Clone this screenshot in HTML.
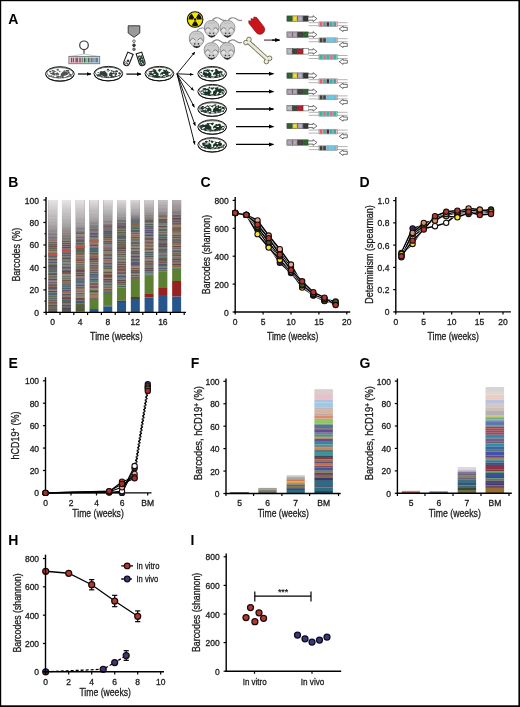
<!DOCTYPE html>
<html><head><meta charset="utf-8"><style>
html,body{margin:0;padding:0;background:#fff;width:520px;height:707px;overflow:hidden}
svg{display:block;will-change:transform}
</style></head><body>
<svg width="520" height="707" viewBox="0 0 520 707" font-family='"Liberation Sans", sans-serif'>
<rect x="0.00" y="0.00" width="520.00" height="707.00" fill="#fff"/>
<defs>
<marker id="ah" viewBox="0 0 10 10" refX="9" refY="5" markerWidth="5" markerHeight="5" orient="auto-start-reverse" markerUnits="userSpaceOnUse">
<path d="M0,1 L10,5 L0,9 z" fill="#000"/></marker>
<marker id="ahs" viewBox="0 0 10 10" refX="9" refY="5" markerWidth="3.8" markerHeight="3.8" orient="auto" markerUnits="userSpaceOnUse">
<path d="M0,1 L10,5 L0,9 z" fill="#000"/></marker>
<linearGradient id="bcg" x1="0" x2="1" y1="0" y2="0">
<stop offset="0" stop-color="#f0c8d0"/><stop offset="0.35" stop-color="#e8b8c8"/>
<stop offset="0.5" stop-color="#b8e0c8"/><stop offset="0.75" stop-color="#c8d8e8"/><stop offset="1" stop-color="#c0e0f0"/>
</linearGradient>
<clipPath id="tubeL"><rect x="-2.4" y="-6.5" width="4.8" height="13" rx="2.4"/></clipPath>
</defs>
<ellipse cx="59.90" cy="73.90" rx="14.40" ry="7.20" fill="#fff" stroke="#111" stroke-width="0.95"/>
<path d="M46.20,75.10 A13.700000000000001,6.1 0 0 0 73.60,75.10" fill="none" stroke="#111" stroke-width="0.9"/>
<ellipse cx="59.90" cy="72.80" rx="13.10" ry="5.20" fill="none" stroke="#222" stroke-width="0.65"/>
<ellipse cx="59.90" cy="73.70" rx="8.25" ry="2.63" fill="#4e5450"/>
<ellipse cx="60.62" cy="77.07" rx="0.96" ry="0.71" fill="#4e5450"/>
<ellipse cx="55.10" cy="71.99" rx="0.71" ry="0.79" fill="#4e5450"/>
<ellipse cx="59.44" cy="76.49" rx="1.40" ry="0.66" fill="#4e5450"/>
<ellipse cx="64.67" cy="70.91" rx="1.15" ry="0.55" fill="#4e5450"/>
<ellipse cx="52.58" cy="70.77" rx="1.07" ry="0.76" fill="#4e5450"/>
<ellipse cx="56.67" cy="71.58" rx="1.23" ry="0.71" fill="#4e5450"/>
<ellipse cx="57.82" cy="75.91" rx="1.31" ry="0.67" fill="#4e5450"/>
<ellipse cx="57.74" cy="69.85" rx="1.20" ry="0.82" fill="#4e5450"/>
<ellipse cx="51.40" cy="76.03" rx="1.01" ry="0.83" fill="#4e5450"/>
<ellipse cx="65.00" cy="71.98" rx="0.80" ry="0.58" fill="#4e5450"/>
<ellipse cx="68.71" cy="73.01" rx="1.14" ry="0.61" fill="#4e5450"/>
<ellipse cx="51.15" cy="73.56" rx="0.95" ry="0.70" fill="#4e5450"/>
<ellipse cx="50.23" cy="71.70" rx="1.18" ry="0.83" fill="#4e5450"/>
<ellipse cx="67.07" cy="70.49" rx="1.17" ry="0.56" fill="#4e5450"/>
<ellipse cx="67.24" cy="70.59" rx="1.33" ry="0.70" fill="#4e5450"/>
<ellipse cx="58.15" cy="71.03" rx="1.28" ry="0.70" fill="#4e5450"/>
<ellipse cx="58.42" cy="76.05" rx="1.30" ry="0.85" fill="#4e5450"/>
<ellipse cx="69.04" cy="75.71" rx="0.99" ry="0.55" fill="#4e5450"/>
<ellipse cx="57.01" cy="77.31" rx="1.31" ry="0.52" fill="#4e5450"/>
<ellipse cx="54.88" cy="72.14" rx="1.20" ry="0.62" fill="#4e5450"/>
<ellipse cx="68.34" cy="70.93" rx="1.05" ry="0.85" fill="#4e5450"/>
<ellipse cx="57.37" cy="75.97" rx="1.12" ry="0.51" fill="#4e5450"/>
<ellipse cx="62.78" cy="76.67" rx="1.13" ry="0.55" fill="#4e5450"/>
<ellipse cx="70.56" cy="74.73" rx="0.92" ry="0.84" fill="#4e5450"/>
<ellipse cx="66.84" cy="71.84" rx="1.02" ry="0.68" fill="#4e5450"/>
<ellipse cx="53.83" cy="70.97" rx="1.09" ry="0.72" fill="#4e5450"/>
<ellipse cx="68.64" cy="72.49" rx="1.00" ry="0.75" fill="#4e5450"/>
<ellipse cx="60.54" cy="76.62" rx="1.38" ry="0.68" fill="#4e5450"/>
<ellipse cx="53.76" cy="73.02" rx="0.99" ry="0.70" fill="#4e5450"/>
<ellipse cx="69.74" cy="74.14" rx="1.14" ry="0.52" fill="#4e5450"/>
<ellipse cx="55.75" cy="72.32" rx="1.28" ry="0.61" fill="#f4f6f4"/>
<ellipse cx="58.12" cy="71.63" rx="0.82" ry="0.52" fill="#f4f6f4"/>
<ellipse cx="56.68" cy="71.62" rx="0.98" ry="0.64" fill="#f4f6f4"/>
<ellipse cx="55.27" cy="72.71" rx="1.05" ry="0.59" fill="#f4f6f4"/>
<ellipse cx="55.61" cy="75.19" rx="1.01" ry="0.61" fill="#f4f6f4"/>
<ellipse cx="60.54" cy="72.22" rx="1.20" ry="0.72" fill="#f4f6f4"/>
<ellipse cx="57.96" cy="75.28" rx="1.36" ry="0.57" fill="#f4f6f4"/>
<ellipse cx="49.40" cy="76.22" rx="1.0" ry="0.65" fill="#4e5450"/>
<ellipse cx="53.40" cy="76.89" rx="1.0" ry="0.65" fill="#4e5450"/>
<ellipse cx="57.90" cy="77.66" rx="1.0" ry="0.65" fill="#4e5450"/>
<ellipse cx="62.90" cy="77.49" rx="1.0" ry="0.65" fill="#4e5450"/>
<ellipse cx="67.40" cy="76.72" rx="1.0" ry="0.65" fill="#4e5450"/>
<ellipse cx="70.90" cy="76.13" rx="1.0" ry="0.65" fill="#4e5450"/>
<path d="M57.20,70.90 L59.90,73.50 L62.60,70.90 M59.90,73.50 L59.90,76.30" stroke="#f4f6f4" stroke-width="1.7" fill="none"/>
<ellipse cx="108.30" cy="73.60" rx="14.40" ry="7.20" fill="#fff" stroke="#111" stroke-width="0.95"/>
<path d="M94.60,74.80 A13.700000000000001,6.1 0 0 0 122.00,74.80" fill="none" stroke="#111" stroke-width="0.9"/>
<ellipse cx="108.30" cy="72.50" rx="13.10" ry="5.20" fill="none" stroke="#222" stroke-width="0.65"/>
<ellipse cx="108.30" cy="73.40" rx="8.80" ry="2.80" fill="#34403a"/>
<ellipse cx="111.76" cy="76.34" rx="1.19" ry="0.54" fill="#34403a"/>
<ellipse cx="104.60" cy="76.09" rx="1.28" ry="0.65" fill="#34403a"/>
<ellipse cx="112.92" cy="71.31" rx="0.94" ry="0.73" fill="#34403a"/>
<ellipse cx="115.12" cy="71.27" rx="0.86" ry="0.54" fill="#34403a"/>
<ellipse cx="100.79" cy="72.90" rx="1.26" ry="0.79" fill="#34403a"/>
<ellipse cx="111.61" cy="76.04" rx="1.27" ry="0.72" fill="#34403a"/>
<ellipse cx="111.26" cy="70.57" rx="0.79" ry="0.60" fill="#34403a"/>
<ellipse cx="110.51" cy="70.64" rx="0.94" ry="0.65" fill="#34403a"/>
<ellipse cx="100.52" cy="74.92" rx="1.34" ry="0.55" fill="#34403a"/>
<ellipse cx="119.66" cy="73.52" rx="1.32" ry="0.85" fill="#34403a"/>
<ellipse cx="97.86" cy="75.01" rx="1.35" ry="0.58" fill="#34403a"/>
<ellipse cx="107.99" cy="69.54" rx="1.16" ry="0.68" fill="#34403a"/>
<ellipse cx="106.23" cy="76.32" rx="0.86" ry="0.52" fill="#34403a"/>
<ellipse cx="101.33" cy="71.87" rx="1.27" ry="0.52" fill="#34403a"/>
<ellipse cx="116.75" cy="71.33" rx="1.35" ry="0.81" fill="#34403a"/>
<ellipse cx="116.16" cy="71.37" rx="0.71" ry="0.76" fill="#34403a"/>
<ellipse cx="112.21" cy="75.98" rx="1.16" ry="0.68" fill="#34403a"/>
<ellipse cx="98.58" cy="75.47" rx="1.13" ry="0.62" fill="#34403a"/>
<ellipse cx="108.13" cy="77.30" rx="1.03" ry="0.77" fill="#34403a"/>
<ellipse cx="103.72" cy="75.58" rx="1.07" ry="0.79" fill="#34403a"/>
<ellipse cx="113.39" cy="76.74" rx="1.35" ry="0.78" fill="#34403a"/>
<ellipse cx="111.16" cy="71.37" rx="1.14" ry="0.80" fill="#34403a"/>
<ellipse cx="116.02" cy="74.29" rx="0.89" ry="0.68" fill="#34403a"/>
<ellipse cx="100.14" cy="74.92" rx="1.24" ry="0.50" fill="#34403a"/>
<ellipse cx="115.11" cy="74.26" rx="0.79" ry="0.52" fill="#34403a"/>
<ellipse cx="119.15" cy="72.78" rx="0.76" ry="0.68" fill="#34403a"/>
<ellipse cx="104.93" cy="76.11" rx="0.95" ry="0.73" fill="#34403a"/>
<ellipse cx="100.92" cy="71.82" rx="0.83" ry="0.62" fill="#34403a"/>
<ellipse cx="115.16" cy="75.79" rx="1.20" ry="0.63" fill="#34403a"/>
<ellipse cx="114.93" cy="74.69" rx="0.96" ry="0.71" fill="#34403a"/>
<ellipse cx="110.08" cy="70.38" rx="1.26" ry="0.72" fill="#34403a"/>
<ellipse cx="100.40" cy="74.68" rx="1.05" ry="0.75" fill="#34403a"/>
<ellipse cx="99.27" cy="75.14" rx="1.02" ry="0.59" fill="#34403a"/>
<ellipse cx="98.27" cy="72.59" rx="0.75" ry="0.65" fill="#34403a"/>
<ellipse cx="98.38" cy="75.16" rx="1.36" ry="0.63" fill="#34403a"/>
<ellipse cx="116.88" cy="71.13" rx="0.88" ry="0.66" fill="#34403a"/>
<ellipse cx="113.51" cy="75.05" rx="1.26" ry="0.77" fill="#f4f6f4"/>
<ellipse cx="110.12" cy="71.24" rx="1.31" ry="0.67" fill="#f4f6f4"/>
<ellipse cx="113.64" cy="74.71" rx="0.80" ry="0.54" fill="#f4f6f4"/>
<ellipse cx="109.06" cy="71.80" rx="0.86" ry="0.53" fill="#f4f6f4"/>
<ellipse cx="112.29" cy="72.19" rx="0.82" ry="0.75" fill="#f4f6f4"/>
<ellipse cx="113.63" cy="75.04" rx="1.27" ry="0.75" fill="#f4f6f4"/>
<ellipse cx="114.68" cy="72.76" rx="1.36" ry="0.51" fill="#f4f6f4"/>
<ellipse cx="97.80" cy="75.92" rx="1.0" ry="0.65" fill="#34403a"/>
<ellipse cx="101.80" cy="76.59" rx="1.0" ry="0.65" fill="#34403a"/>
<ellipse cx="106.30" cy="77.36" rx="1.0" ry="0.65" fill="#34403a"/>
<ellipse cx="111.30" cy="77.19" rx="1.0" ry="0.65" fill="#34403a"/>
<ellipse cx="115.80" cy="76.42" rx="1.0" ry="0.65" fill="#34403a"/>
<ellipse cx="119.30" cy="75.83" rx="1.0" ry="0.65" fill="#34403a"/>
<path d="M105.60,70.60 L108.30,73.20 L111.00,70.60 M108.30,73.20 L108.30,76.00" stroke="#f4f6f4" stroke-width="1.7" fill="none"/>
<ellipse cx="159.40" cy="73.60" rx="14.40" ry="7.20" fill="#fff" stroke="#111" stroke-width="0.95"/>
<path d="M145.70,74.80 A13.700000000000001,6.1 0 0 0 173.10,74.80" fill="none" stroke="#111" stroke-width="0.9"/>
<ellipse cx="159.40" cy="72.50" rx="13.10" ry="5.20" fill="none" stroke="#222" stroke-width="0.65"/>
<ellipse cx="159.40" cy="73.40" rx="9.35" ry="2.98" fill="#1e3a2a"/>
<ellipse cx="160.43" cy="70.09" rx="1.20" ry="0.54" fill="#1e3a2a"/>
<ellipse cx="159.33" cy="69.40" rx="0.74" ry="0.61" fill="#1e3a2a"/>
<ellipse cx="149.39" cy="71.90" rx="0.87" ry="0.56" fill="#1e3a2a"/>
<ellipse cx="159.40" cy="76.91" rx="1.23" ry="0.64" fill="#1e3a2a"/>
<ellipse cx="153.47" cy="75.71" rx="0.95" ry="0.65" fill="#1e3a2a"/>
<ellipse cx="167.50" cy="75.05" rx="1.38" ry="0.64" fill="#1e3a2a"/>
<ellipse cx="159.28" cy="70.77" rx="1.18" ry="0.76" fill="#1e3a2a"/>
<ellipse cx="155.05" cy="70.44" rx="1.04" ry="0.73" fill="#1e3a2a"/>
<ellipse cx="165.30" cy="71.83" rx="0.77" ry="0.76" fill="#1e3a2a"/>
<ellipse cx="167.57" cy="71.73" rx="1.01" ry="0.75" fill="#1e3a2a"/>
<ellipse cx="162.56" cy="76.03" rx="0.84" ry="0.70" fill="#1e3a2a"/>
<ellipse cx="156.27" cy="75.96" rx="1.18" ry="0.83" fill="#1e3a2a"/>
<ellipse cx="156.46" cy="76.90" rx="0.99" ry="0.80" fill="#1e3a2a"/>
<ellipse cx="152.42" cy="71.95" rx="0.85" ry="0.51" fill="#1e3a2a"/>
<ellipse cx="150.73" cy="73.80" rx="0.82" ry="0.63" fill="#1e3a2a"/>
<ellipse cx="154.74" cy="76.78" rx="0.80" ry="0.85" fill="#1e3a2a"/>
<ellipse cx="149.64" cy="73.84" rx="1.03" ry="0.79" fill="#1e3a2a"/>
<ellipse cx="163.59" cy="70.33" rx="1.04" ry="0.75" fill="#1e3a2a"/>
<ellipse cx="164.89" cy="70.95" rx="1.21" ry="0.84" fill="#1e3a2a"/>
<ellipse cx="151.69" cy="73.97" rx="0.86" ry="0.75" fill="#1e3a2a"/>
<ellipse cx="154.23" cy="69.80" rx="1.30" ry="0.58" fill="#1e3a2a"/>
<ellipse cx="162.38" cy="76.04" rx="0.83" ry="0.75" fill="#1e3a2a"/>
<ellipse cx="166.45" cy="70.33" rx="0.88" ry="0.80" fill="#1e3a2a"/>
<ellipse cx="155.92" cy="76.32" rx="1.21" ry="0.53" fill="#1e3a2a"/>
<ellipse cx="168.51" cy="75.52" rx="0.90" ry="0.62" fill="#1e3a2a"/>
<ellipse cx="150.47" cy="71.66" rx="0.70" ry="0.62" fill="#1e3a2a"/>
<ellipse cx="150.85" cy="74.68" rx="0.85" ry="0.70" fill="#1e3a2a"/>
<ellipse cx="167.84" cy="72.54" rx="1.08" ry="0.54" fill="#1e3a2a"/>
<ellipse cx="157.83" cy="76.94" rx="0.78" ry="0.81" fill="#1e3a2a"/>
<ellipse cx="165.31" cy="72.05" rx="1.36" ry="0.63" fill="#1e3a2a"/>
<ellipse cx="160.88" cy="69.70" rx="0.91" ry="0.74" fill="#1e3a2a"/>
<ellipse cx="153.29" cy="70.26" rx="0.89" ry="0.76" fill="#1e3a2a"/>
<ellipse cx="169.29" cy="72.53" rx="1.08" ry="0.54" fill="#1e3a2a"/>
<ellipse cx="150.83" cy="73.52" rx="1.20" ry="0.74" fill="#1e3a2a"/>
<ellipse cx="152.47" cy="72.31" rx="1.15" ry="0.72" fill="#1e3a2a"/>
<ellipse cx="164.20" cy="76.95" rx="1.16" ry="0.54" fill="#1e3a2a"/>
<ellipse cx="166.07" cy="72.32" rx="0.93" ry="0.75" fill="#1e3a2a"/>
<ellipse cx="151.52" cy="71.45" rx="1.15" ry="0.66" fill="#1e3a2a"/>
<ellipse cx="156.51" cy="75.87" rx="0.75" ry="0.75" fill="#1e3a2a"/>
<ellipse cx="159.67" cy="70.02" rx="1.22" ry="0.63" fill="#1e3a2a"/>
<ellipse cx="158.53" cy="76.48" rx="1.31" ry="0.51" fill="#1e3a2a"/>
<ellipse cx="151.43" cy="73.32" rx="1.24" ry="0.62" fill="#1e3a2a"/>
<ellipse cx="155.00" cy="76.11" rx="1.08" ry="0.77" fill="#1e3a2a"/>
<ellipse cx="152.80" cy="76.49" rx="0.78" ry="0.59" fill="#1e3a2a"/>
<ellipse cx="163.91" cy="74.46" rx="1.35" ry="0.72" fill="#f4f6f4"/>
<ellipse cx="161.73" cy="75.13" rx="1.09" ry="0.72" fill="#f4f6f4"/>
<ellipse cx="162.44" cy="71.16" rx="1.21" ry="0.54" fill="#f4f6f4"/>
<ellipse cx="154.70" cy="74.53" rx="1.17" ry="0.67" fill="#f4f6f4"/>
<ellipse cx="161.20" cy="75.27" rx="1.35" ry="0.51" fill="#f4f6f4"/>
<ellipse cx="162.01" cy="70.97" rx="1.46" ry="0.61" fill="#f4f6f4"/>
<ellipse cx="152.68" cy="72.65" rx="1.24" ry="0.79" fill="#f4f6f4"/>
<ellipse cx="148.90" cy="75.92" rx="1.0" ry="0.65" fill="#1e3a2a"/>
<ellipse cx="152.90" cy="76.59" rx="1.0" ry="0.65" fill="#1e3a2a"/>
<ellipse cx="157.40" cy="77.36" rx="1.0" ry="0.65" fill="#1e3a2a"/>
<ellipse cx="162.40" cy="77.19" rx="1.0" ry="0.65" fill="#1e3a2a"/>
<ellipse cx="166.90" cy="76.42" rx="1.0" ry="0.65" fill="#1e3a2a"/>
<ellipse cx="170.40" cy="75.83" rx="1.0" ry="0.65" fill="#1e3a2a"/>
<path d="M156.70,70.60 L159.40,73.20 L162.10,70.60 M159.40,73.20 L159.40,76.00" stroke="#f4f6f4" stroke-width="1.7" fill="none"/>
<line x1="78.00" y1="74.00" x2="91.00" y2="74.00" stroke="#000" stroke-width="1.2" marker-end="url(#ah)"/>
<line x1="126.40" y1="74.10" x2="141.00" y2="74.10" stroke="#000" stroke-width="1.2" marker-end="url(#ah)"/>
<ellipse cx="212.20" cy="73.70" rx="14.40" ry="7.20" fill="#fff" stroke="#111" stroke-width="0.95"/>
<path d="M198.50,74.90 A13.700000000000001,6.1 0 0 0 225.90,74.90" fill="none" stroke="#111" stroke-width="0.9"/>
<ellipse cx="212.20" cy="72.60" rx="13.10" ry="5.20" fill="none" stroke="#222" stroke-width="0.65"/>
<ellipse cx="212.20" cy="73.50" rx="9.68" ry="3.08" fill="#1a3426"/>
<ellipse cx="208.99" cy="70.80" rx="1.30" ry="0.67" fill="#1a3426"/>
<ellipse cx="203.81" cy="71.31" rx="0.70" ry="0.77" fill="#1a3426"/>
<ellipse cx="207.31" cy="70.70" rx="1.07" ry="0.66" fill="#1a3426"/>
<ellipse cx="215.51" cy="76.65" rx="0.73" ry="0.68" fill="#1a3426"/>
<ellipse cx="206.69" cy="70.96" rx="1.10" ry="0.84" fill="#1a3426"/>
<ellipse cx="217.88" cy="71.88" rx="1.25" ry="0.72" fill="#1a3426"/>
<ellipse cx="220.39" cy="74.45" rx="0.86" ry="0.53" fill="#1a3426"/>
<ellipse cx="201.22" cy="72.53" rx="0.93" ry="0.80" fill="#1a3426"/>
<ellipse cx="209.72" cy="71.08" rx="1.30" ry="0.71" fill="#1a3426"/>
<ellipse cx="221.51" cy="71.87" rx="1.22" ry="0.62" fill="#1a3426"/>
<ellipse cx="216.15" cy="69.75" rx="1.30" ry="0.65" fill="#1a3426"/>
<ellipse cx="212.60" cy="70.22" rx="0.78" ry="0.51" fill="#1a3426"/>
<ellipse cx="218.99" cy="74.78" rx="0.81" ry="0.67" fill="#1a3426"/>
<ellipse cx="209.21" cy="70.30" rx="1.00" ry="0.73" fill="#1a3426"/>
<ellipse cx="209.11" cy="76.55" rx="1.23" ry="0.64" fill="#1a3426"/>
<ellipse cx="216.92" cy="77.08" rx="1.20" ry="0.63" fill="#1a3426"/>
<ellipse cx="205.66" cy="75.93" rx="1.12" ry="0.58" fill="#1a3426"/>
<ellipse cx="219.95" cy="73.55" rx="1.25" ry="0.55" fill="#1a3426"/>
<ellipse cx="204.78" cy="74.17" rx="0.85" ry="0.56" fill="#1a3426"/>
<ellipse cx="206.03" cy="75.01" rx="0.72" ry="0.54" fill="#1a3426"/>
<ellipse cx="216.77" cy="76.36" rx="0.74" ry="0.51" fill="#1a3426"/>
<ellipse cx="203.79" cy="74.51" rx="1.19" ry="0.52" fill="#1a3426"/>
<ellipse cx="204.96" cy="75.28" rx="0.72" ry="0.84" fill="#1a3426"/>
<ellipse cx="213.56" cy="75.93" rx="1.03" ry="0.56" fill="#1a3426"/>
<ellipse cx="206.06" cy="71.40" rx="0.79" ry="0.52" fill="#1a3426"/>
<ellipse cx="211.06" cy="70.65" rx="1.25" ry="0.66" fill="#1a3426"/>
<ellipse cx="219.76" cy="72.30" rx="0.87" ry="0.59" fill="#1a3426"/>
<ellipse cx="216.14" cy="70.26" rx="0.94" ry="0.53" fill="#1a3426"/>
<ellipse cx="207.47" cy="69.80" rx="1.11" ry="0.50" fill="#1a3426"/>
<ellipse cx="219.07" cy="73.97" rx="0.82" ry="0.51" fill="#1a3426"/>
<ellipse cx="221.72" cy="74.69" rx="1.33" ry="0.57" fill="#1a3426"/>
<ellipse cx="221.31" cy="72.97" rx="1.26" ry="0.82" fill="#1a3426"/>
<ellipse cx="218.34" cy="72.64" rx="0.91" ry="0.71" fill="#1a3426"/>
<ellipse cx="218.78" cy="72.69" rx="0.91" ry="0.80" fill="#1a3426"/>
<ellipse cx="218.80" cy="75.55" rx="0.93" ry="0.74" fill="#1a3426"/>
<ellipse cx="218.99" cy="72.34" rx="1.22" ry="0.76" fill="#1a3426"/>
<ellipse cx="217.13" cy="70.58" rx="1.35" ry="0.63" fill="#1a3426"/>
<ellipse cx="205.43" cy="74.92" rx="1.25" ry="0.67" fill="#1a3426"/>
<ellipse cx="211.28" cy="76.13" rx="1.20" ry="0.71" fill="#1a3426"/>
<ellipse cx="210.05" cy="70.50" rx="1.04" ry="0.55" fill="#1a3426"/>
<ellipse cx="210.61" cy="71.26" rx="1.03" ry="0.77" fill="#1a3426"/>
<ellipse cx="209.10" cy="71.27" rx="0.87" ry="0.80" fill="#1a3426"/>
<ellipse cx="205.26" cy="70.44" rx="1.31" ry="0.66" fill="#1a3426"/>
<ellipse cx="220.54" cy="71.27" rx="0.93" ry="0.63" fill="#1a3426"/>
<ellipse cx="220.14" cy="74.87" rx="1.37" ry="0.54" fill="#1a3426"/>
<ellipse cx="205.73" cy="72.44" rx="0.76" ry="0.73" fill="#1a3426"/>
<ellipse cx="212.52" cy="75.28" rx="0.91" ry="0.69" fill="#f4f6f4"/>
<ellipse cx="207.60" cy="72.61" rx="0.96" ry="0.79" fill="#f4f6f4"/>
<ellipse cx="213.56" cy="75.82" rx="1.09" ry="0.73" fill="#f4f6f4"/>
<ellipse cx="205.90" cy="71.93" rx="1.17" ry="0.56" fill="#f4f6f4"/>
<ellipse cx="214.67" cy="75.14" rx="1.38" ry="0.53" fill="#f4f6f4"/>
<ellipse cx="220.53" cy="73.91" rx="0.94" ry="0.77" fill="#f4f6f4"/>
<ellipse cx="218.20" cy="74.66" rx="0.96" ry="0.75" fill="#f4f6f4"/>
<ellipse cx="201.70" cy="76.02" rx="1.0" ry="0.65" fill="#1a3426"/>
<ellipse cx="205.70" cy="76.69" rx="1.0" ry="0.65" fill="#1a3426"/>
<ellipse cx="210.20" cy="77.46" rx="1.0" ry="0.65" fill="#1a3426"/>
<ellipse cx="215.20" cy="77.29" rx="1.0" ry="0.65" fill="#1a3426"/>
<ellipse cx="219.70" cy="76.52" rx="1.0" ry="0.65" fill="#1a3426"/>
<ellipse cx="223.20" cy="75.93" rx="1.0" ry="0.65" fill="#1a3426"/>
<path d="M209.50,70.70 L212.20,73.30 L214.90,70.70 M212.20,73.30 L212.20,76.10" stroke="#f4f6f4" stroke-width="1.7" fill="none"/>
<ellipse cx="212.20" cy="91.60" rx="14.40" ry="7.20" fill="#fff" stroke="#111" stroke-width="0.95"/>
<path d="M198.50,92.80 A13.700000000000001,6.1 0 0 0 225.90,92.80" fill="none" stroke="#111" stroke-width="0.9"/>
<ellipse cx="212.20" cy="90.50" rx="13.10" ry="5.20" fill="none" stroke="#222" stroke-width="0.65"/>
<ellipse cx="212.20" cy="91.40" rx="9.68" ry="3.08" fill="#1a3426"/>
<ellipse cx="204.69" cy="89.05" rx="1.23" ry="0.81" fill="#1a3426"/>
<ellipse cx="206.61" cy="94.27" rx="1.01" ry="0.54" fill="#1a3426"/>
<ellipse cx="217.22" cy="88.42" rx="1.27" ry="0.57" fill="#1a3426"/>
<ellipse cx="203.31" cy="90.61" rx="1.21" ry="0.53" fill="#1a3426"/>
<ellipse cx="206.93" cy="94.10" rx="0.75" ry="0.69" fill="#1a3426"/>
<ellipse cx="211.38" cy="88.25" rx="1.15" ry="0.71" fill="#1a3426"/>
<ellipse cx="214.11" cy="94.35" rx="1.40" ry="0.62" fill="#1a3426"/>
<ellipse cx="205.90" cy="92.43" rx="0.85" ry="0.56" fill="#1a3426"/>
<ellipse cx="221.66" cy="89.85" rx="1.31" ry="0.85" fill="#1a3426"/>
<ellipse cx="203.58" cy="88.81" rx="1.08" ry="0.65" fill="#1a3426"/>
<ellipse cx="222.81" cy="90.13" rx="1.36" ry="0.67" fill="#1a3426"/>
<ellipse cx="213.50" cy="88.30" rx="1.40" ry="0.82" fill="#1a3426"/>
<ellipse cx="209.24" cy="95.27" rx="0.83" ry="0.53" fill="#1a3426"/>
<ellipse cx="210.77" cy="88.53" rx="1.06" ry="0.72" fill="#1a3426"/>
<ellipse cx="222.38" cy="92.34" rx="0.89" ry="0.65" fill="#1a3426"/>
<ellipse cx="206.31" cy="94.47" rx="1.22" ry="0.60" fill="#1a3426"/>
<ellipse cx="218.79" cy="93.17" rx="0.99" ry="0.53" fill="#1a3426"/>
<ellipse cx="218.25" cy="94.47" rx="1.19" ry="0.84" fill="#1a3426"/>
<ellipse cx="223.20" cy="90.90" rx="0.96" ry="0.56" fill="#1a3426"/>
<ellipse cx="208.72" cy="94.40" rx="1.07" ry="0.69" fill="#1a3426"/>
<ellipse cx="205.21" cy="94.40" rx="0.90" ry="0.66" fill="#1a3426"/>
<ellipse cx="220.37" cy="88.91" rx="0.91" ry="0.58" fill="#1a3426"/>
<ellipse cx="214.44" cy="89.27" rx="0.79" ry="0.69" fill="#1a3426"/>
<ellipse cx="204.91" cy="90.81" rx="0.74" ry="0.57" fill="#1a3426"/>
<ellipse cx="213.35" cy="88.18" rx="1.39" ry="0.77" fill="#1a3426"/>
<ellipse cx="218.75" cy="91.10" rx="0.83" ry="0.50" fill="#1a3426"/>
<ellipse cx="204.46" cy="92.64" rx="0.74" ry="0.69" fill="#1a3426"/>
<ellipse cx="219.14" cy="93.04" rx="0.87" ry="0.78" fill="#1a3426"/>
<ellipse cx="205.18" cy="92.80" rx="0.73" ry="0.65" fill="#1a3426"/>
<ellipse cx="205.10" cy="88.81" rx="1.34" ry="0.78" fill="#1a3426"/>
<ellipse cx="212.32" cy="93.98" rx="1.23" ry="0.78" fill="#1a3426"/>
<ellipse cx="201.32" cy="91.19" rx="1.09" ry="0.60" fill="#1a3426"/>
<ellipse cx="215.37" cy="93.40" rx="1.15" ry="0.81" fill="#1a3426"/>
<ellipse cx="219.84" cy="89.59" rx="1.17" ry="0.83" fill="#1a3426"/>
<ellipse cx="216.06" cy="88.19" rx="0.99" ry="0.68" fill="#1a3426"/>
<ellipse cx="215.82" cy="93.76" rx="1.18" ry="0.85" fill="#1a3426"/>
<ellipse cx="203.71" cy="90.49" rx="0.95" ry="0.66" fill="#1a3426"/>
<ellipse cx="215.18" cy="88.36" rx="1.37" ry="0.55" fill="#1a3426"/>
<ellipse cx="208.45" cy="94.47" rx="0.99" ry="0.80" fill="#1a3426"/>
<ellipse cx="217.50" cy="87.87" rx="1.13" ry="0.51" fill="#1a3426"/>
<ellipse cx="203.63" cy="89.87" rx="1.04" ry="0.60" fill="#1a3426"/>
<ellipse cx="209.36" cy="87.56" rx="0.77" ry="0.73" fill="#1a3426"/>
<ellipse cx="205.69" cy="93.81" rx="1.33" ry="0.84" fill="#1a3426"/>
<ellipse cx="207.45" cy="89.27" rx="1.34" ry="0.56" fill="#1a3426"/>
<ellipse cx="204.12" cy="93.97" rx="0.92" ry="0.59" fill="#1a3426"/>
<ellipse cx="223.01" cy="90.16" rx="0.92" ry="0.64" fill="#1a3426"/>
<ellipse cx="211.04" cy="93.25" rx="0.98" ry="0.79" fill="#f4f6f4"/>
<ellipse cx="217.64" cy="92.36" rx="0.94" ry="0.52" fill="#f4f6f4"/>
<ellipse cx="204.49" cy="90.98" rx="1.39" ry="0.69" fill="#f4f6f4"/>
<ellipse cx="214.40" cy="89.83" rx="1.00" ry="0.79" fill="#f4f6f4"/>
<ellipse cx="217.94" cy="92.26" rx="1.14" ry="0.58" fill="#f4f6f4"/>
<ellipse cx="206.93" cy="90.89" rx="0.97" ry="0.79" fill="#f4f6f4"/>
<ellipse cx="217.30" cy="93.50" rx="0.92" ry="0.80" fill="#f4f6f4"/>
<ellipse cx="201.70" cy="93.92" rx="1.0" ry="0.65" fill="#1a3426"/>
<ellipse cx="205.70" cy="94.59" rx="1.0" ry="0.65" fill="#1a3426"/>
<ellipse cx="210.20" cy="95.36" rx="1.0" ry="0.65" fill="#1a3426"/>
<ellipse cx="215.20" cy="95.19" rx="1.0" ry="0.65" fill="#1a3426"/>
<ellipse cx="219.70" cy="94.42" rx="1.0" ry="0.65" fill="#1a3426"/>
<ellipse cx="223.20" cy="93.83" rx="1.0" ry="0.65" fill="#1a3426"/>
<path d="M209.50,88.60 L212.20,91.20 L214.90,88.60 M212.20,91.20 L212.20,94.00" stroke="#f4f6f4" stroke-width="1.7" fill="none"/>
<ellipse cx="212.20" cy="109.10" rx="14.40" ry="7.20" fill="#fff" stroke="#111" stroke-width="0.95"/>
<path d="M198.50,110.30 A13.700000000000001,6.1 0 0 0 225.90,110.30" fill="none" stroke="#111" stroke-width="0.9"/>
<ellipse cx="212.20" cy="108.00" rx="13.10" ry="5.20" fill="none" stroke="#222" stroke-width="0.65"/>
<ellipse cx="212.20" cy="108.90" rx="9.68" ry="3.08" fill="#1a3426"/>
<ellipse cx="207.61" cy="105.73" rx="0.80" ry="0.52" fill="#1a3426"/>
<ellipse cx="212.65" cy="106.24" rx="0.83" ry="0.79" fill="#1a3426"/>
<ellipse cx="216.94" cy="107.22" rx="1.37" ry="0.69" fill="#1a3426"/>
<ellipse cx="206.95" cy="110.59" rx="0.97" ry="0.85" fill="#1a3426"/>
<ellipse cx="210.80" cy="111.42" rx="0.80" ry="0.54" fill="#1a3426"/>
<ellipse cx="205.45" cy="112.08" rx="0.75" ry="0.57" fill="#1a3426"/>
<ellipse cx="222.96" cy="107.38" rx="1.39" ry="0.59" fill="#1a3426"/>
<ellipse cx="205.25" cy="112.09" rx="1.04" ry="0.75" fill="#1a3426"/>
<ellipse cx="209.68" cy="111.02" rx="0.94" ry="0.76" fill="#1a3426"/>
<ellipse cx="214.13" cy="105.54" rx="1.02" ry="0.69" fill="#1a3426"/>
<ellipse cx="203.30" cy="110.09" rx="1.28" ry="0.57" fill="#1a3426"/>
<ellipse cx="202.81" cy="106.66" rx="1.29" ry="0.56" fill="#1a3426"/>
<ellipse cx="222.84" cy="108.02" rx="0.82" ry="0.59" fill="#1a3426"/>
<ellipse cx="214.19" cy="111.17" rx="1.38" ry="0.64" fill="#1a3426"/>
<ellipse cx="217.18" cy="107.09" rx="0.71" ry="0.80" fill="#1a3426"/>
<ellipse cx="215.36" cy="104.97" rx="1.18" ry="0.68" fill="#1a3426"/>
<ellipse cx="212.90" cy="106.44" rx="1.08" ry="0.65" fill="#1a3426"/>
<ellipse cx="218.17" cy="111.67" rx="0.93" ry="0.68" fill="#1a3426"/>
<ellipse cx="206.33" cy="111.02" rx="0.95" ry="0.71" fill="#1a3426"/>
<ellipse cx="223.45" cy="108.41" rx="1.30" ry="0.79" fill="#1a3426"/>
<ellipse cx="209.56" cy="112.86" rx="0.89" ry="0.54" fill="#1a3426"/>
<ellipse cx="201.74" cy="108.88" rx="0.94" ry="0.73" fill="#1a3426"/>
<ellipse cx="209.88" cy="112.87" rx="1.02" ry="0.67" fill="#1a3426"/>
<ellipse cx="201.33" cy="108.13" rx="1.39" ry="0.68" fill="#1a3426"/>
<ellipse cx="202.93" cy="110.16" rx="0.75" ry="0.65" fill="#1a3426"/>
<ellipse cx="218.33" cy="105.82" rx="0.74" ry="0.80" fill="#1a3426"/>
<ellipse cx="203.60" cy="111.61" rx="0.96" ry="0.58" fill="#1a3426"/>
<ellipse cx="201.60" cy="107.72" rx="1.00" ry="0.80" fill="#1a3426"/>
<ellipse cx="210.13" cy="105.94" rx="0.91" ry="0.68" fill="#1a3426"/>
<ellipse cx="205.20" cy="110.72" rx="1.16" ry="0.81" fill="#1a3426"/>
<ellipse cx="205.85" cy="107.58" rx="0.85" ry="0.63" fill="#1a3426"/>
<ellipse cx="206.70" cy="107.19" rx="0.76" ry="0.61" fill="#1a3426"/>
<ellipse cx="210.85" cy="111.17" rx="1.08" ry="0.82" fill="#1a3426"/>
<ellipse cx="201.96" cy="108.11" rx="1.28" ry="0.79" fill="#1a3426"/>
<ellipse cx="219.93" cy="107.24" rx="1.18" ry="0.54" fill="#1a3426"/>
<ellipse cx="218.55" cy="106.79" rx="1.03" ry="0.81" fill="#1a3426"/>
<ellipse cx="210.45" cy="111.53" rx="1.28" ry="0.71" fill="#1a3426"/>
<ellipse cx="217.85" cy="110.08" rx="0.95" ry="0.50" fill="#1a3426"/>
<ellipse cx="215.96" cy="106.57" rx="0.89" ry="0.64" fill="#1a3426"/>
<ellipse cx="203.22" cy="108.67" rx="1.14" ry="0.73" fill="#1a3426"/>
<ellipse cx="205.72" cy="109.87" rx="1.39" ry="0.74" fill="#1a3426"/>
<ellipse cx="220.03" cy="110.50" rx="1.23" ry="0.85" fill="#1a3426"/>
<ellipse cx="218.08" cy="109.81" rx="1.04" ry="0.65" fill="#1a3426"/>
<ellipse cx="220.77" cy="106.53" rx="0.93" ry="0.65" fill="#1a3426"/>
<ellipse cx="202.55" cy="106.95" rx="0.84" ry="0.64" fill="#1a3426"/>
<ellipse cx="220.73" cy="110.77" rx="0.72" ry="0.83" fill="#1a3426"/>
<ellipse cx="204.96" cy="108.55" rx="0.86" ry="0.57" fill="#f4f6f4"/>
<ellipse cx="204.22" cy="109.41" rx="1.18" ry="0.59" fill="#f4f6f4"/>
<ellipse cx="219.74" cy="108.62" rx="1.17" ry="0.56" fill="#f4f6f4"/>
<ellipse cx="209.72" cy="111.45" rx="0.89" ry="0.66" fill="#f4f6f4"/>
<ellipse cx="207.37" cy="107.43" rx="1.34" ry="0.77" fill="#f4f6f4"/>
<ellipse cx="217.08" cy="106.93" rx="0.94" ry="0.52" fill="#f4f6f4"/>
<ellipse cx="206.29" cy="109.76" rx="0.94" ry="0.76" fill="#f4f6f4"/>
<ellipse cx="201.70" cy="111.42" rx="1.0" ry="0.65" fill="#1a3426"/>
<ellipse cx="205.70" cy="112.09" rx="1.0" ry="0.65" fill="#1a3426"/>
<ellipse cx="210.20" cy="112.86" rx="1.0" ry="0.65" fill="#1a3426"/>
<ellipse cx="215.20" cy="112.69" rx="1.0" ry="0.65" fill="#1a3426"/>
<ellipse cx="219.70" cy="111.92" rx="1.0" ry="0.65" fill="#1a3426"/>
<ellipse cx="223.20" cy="111.33" rx="1.0" ry="0.65" fill="#1a3426"/>
<path d="M209.50,106.10 L212.20,108.70 L214.90,106.10 M212.20,108.70 L212.20,111.50" stroke="#f4f6f4" stroke-width="1.7" fill="none"/>
<ellipse cx="212.20" cy="127.00" rx="14.40" ry="7.20" fill="#fff" stroke="#111" stroke-width="0.95"/>
<path d="M198.50,128.20 A13.700000000000001,6.1 0 0 0 225.90,128.20" fill="none" stroke="#111" stroke-width="0.9"/>
<ellipse cx="212.20" cy="125.90" rx="13.10" ry="5.20" fill="none" stroke="#222" stroke-width="0.65"/>
<ellipse cx="212.20" cy="126.80" rx="9.68" ry="3.08" fill="#1a3426"/>
<ellipse cx="214.50" cy="130.55" rx="1.36" ry="0.54" fill="#1a3426"/>
<ellipse cx="219.75" cy="125.19" rx="0.85" ry="0.57" fill="#1a3426"/>
<ellipse cx="221.28" cy="127.58" rx="0.97" ry="0.80" fill="#1a3426"/>
<ellipse cx="215.57" cy="124.73" rx="0.98" ry="0.64" fill="#1a3426"/>
<ellipse cx="215.71" cy="129.34" rx="0.88" ry="0.74" fill="#1a3426"/>
<ellipse cx="208.37" cy="128.93" rx="0.85" ry="0.65" fill="#1a3426"/>
<ellipse cx="204.88" cy="125.68" rx="1.19" ry="0.58" fill="#1a3426"/>
<ellipse cx="207.48" cy="123.73" rx="0.82" ry="0.76" fill="#1a3426"/>
<ellipse cx="204.68" cy="128.88" rx="1.12" ry="0.72" fill="#1a3426"/>
<ellipse cx="205.88" cy="127.65" rx="1.25" ry="0.80" fill="#1a3426"/>
<ellipse cx="202.48" cy="127.01" rx="0.89" ry="0.81" fill="#1a3426"/>
<ellipse cx="209.12" cy="124.26" rx="1.27" ry="0.85" fill="#1a3426"/>
<ellipse cx="205.63" cy="130.17" rx="1.04" ry="0.56" fill="#1a3426"/>
<ellipse cx="210.44" cy="123.86" rx="1.21" ry="0.70" fill="#1a3426"/>
<ellipse cx="219.60" cy="128.90" rx="1.30" ry="0.67" fill="#1a3426"/>
<ellipse cx="201.50" cy="125.85" rx="1.01" ry="0.67" fill="#1a3426"/>
<ellipse cx="202.78" cy="124.89" rx="0.84" ry="0.53" fill="#1a3426"/>
<ellipse cx="212.88" cy="123.41" rx="0.91" ry="0.81" fill="#1a3426"/>
<ellipse cx="219.35" cy="124.56" rx="1.39" ry="0.79" fill="#1a3426"/>
<ellipse cx="212.10" cy="123.89" rx="0.71" ry="0.74" fill="#1a3426"/>
<ellipse cx="211.40" cy="123.79" rx="1.04" ry="0.70" fill="#1a3426"/>
<ellipse cx="212.21" cy="130.44" rx="1.09" ry="0.63" fill="#1a3426"/>
<ellipse cx="219.63" cy="128.96" rx="0.92" ry="0.75" fill="#1a3426"/>
<ellipse cx="216.32" cy="129.55" rx="0.84" ry="0.64" fill="#1a3426"/>
<ellipse cx="205.90" cy="125.64" rx="0.74" ry="0.67" fill="#1a3426"/>
<ellipse cx="215.01" cy="129.96" rx="0.82" ry="0.54" fill="#1a3426"/>
<ellipse cx="201.23" cy="125.87" rx="1.31" ry="0.68" fill="#1a3426"/>
<ellipse cx="206.75" cy="128.25" rx="0.89" ry="0.61" fill="#1a3426"/>
<ellipse cx="218.89" cy="125.89" rx="1.36" ry="0.67" fill="#1a3426"/>
<ellipse cx="204.82" cy="127.95" rx="1.37" ry="0.57" fill="#1a3426"/>
<ellipse cx="203.72" cy="125.36" rx="0.84" ry="0.58" fill="#1a3426"/>
<ellipse cx="222.87" cy="126.45" rx="1.21" ry="0.82" fill="#1a3426"/>
<ellipse cx="220.61" cy="128.92" rx="1.23" ry="0.58" fill="#1a3426"/>
<ellipse cx="201.12" cy="127.88" rx="0.93" ry="0.77" fill="#1a3426"/>
<ellipse cx="217.36" cy="129.89" rx="0.89" ry="0.68" fill="#1a3426"/>
<ellipse cx="204.51" cy="129.61" rx="1.22" ry="0.68" fill="#1a3426"/>
<ellipse cx="208.75" cy="123.87" rx="1.26" ry="0.59" fill="#1a3426"/>
<ellipse cx="202.80" cy="125.85" rx="0.97" ry="0.52" fill="#1a3426"/>
<ellipse cx="217.04" cy="129.91" rx="0.85" ry="0.77" fill="#1a3426"/>
<ellipse cx="200.80" cy="126.68" rx="1.29" ry="0.75" fill="#1a3426"/>
<ellipse cx="207.56" cy="128.49" rx="1.09" ry="0.76" fill="#1a3426"/>
<ellipse cx="218.98" cy="125.50" rx="0.81" ry="0.84" fill="#1a3426"/>
<ellipse cx="211.59" cy="123.53" rx="1.22" ry="0.55" fill="#1a3426"/>
<ellipse cx="202.42" cy="125.82" rx="1.12" ry="0.56" fill="#1a3426"/>
<ellipse cx="218.70" cy="129.47" rx="1.32" ry="0.55" fill="#1a3426"/>
<ellipse cx="219.13" cy="126.91" rx="1.25" ry="0.64" fill="#1a3426"/>
<ellipse cx="204.03" cy="127.55" rx="1.23" ry="0.58" fill="#f4f6f4"/>
<ellipse cx="210.59" cy="125.16" rx="1.00" ry="0.71" fill="#f4f6f4"/>
<ellipse cx="214.80" cy="128.35" rx="1.16" ry="0.60" fill="#f4f6f4"/>
<ellipse cx="217.83" cy="126.47" rx="1.36" ry="0.62" fill="#f4f6f4"/>
<ellipse cx="214.56" cy="124.69" rx="1.27" ry="0.60" fill="#f4f6f4"/>
<ellipse cx="213.30" cy="129.02" rx="1.36" ry="0.60" fill="#f4f6f4"/>
<ellipse cx="213.06" cy="128.99" rx="0.87" ry="0.59" fill="#f4f6f4"/>
<ellipse cx="201.70" cy="129.31" rx="1.0" ry="0.65" fill="#1a3426"/>
<ellipse cx="205.70" cy="130.00" rx="1.0" ry="0.65" fill="#1a3426"/>
<ellipse cx="210.20" cy="130.76" rx="1.0" ry="0.65" fill="#1a3426"/>
<ellipse cx="215.20" cy="130.59" rx="1.0" ry="0.65" fill="#1a3426"/>
<ellipse cx="219.70" cy="129.82" rx="1.0" ry="0.65" fill="#1a3426"/>
<ellipse cx="223.20" cy="129.23" rx="1.0" ry="0.65" fill="#1a3426"/>
<path d="M209.50,124.00 L212.20,126.60 L214.90,124.00 M212.20,126.60 L212.20,129.40" stroke="#f4f6f4" stroke-width="1.7" fill="none"/>
<ellipse cx="212.20" cy="144.80" rx="14.40" ry="7.20" fill="#fff" stroke="#111" stroke-width="0.95"/>
<path d="M198.50,146.00 A13.700000000000001,6.1 0 0 0 225.90,146.00" fill="none" stroke="#111" stroke-width="0.9"/>
<ellipse cx="212.20" cy="143.70" rx="13.10" ry="5.20" fill="none" stroke="#222" stroke-width="0.65"/>
<ellipse cx="212.20" cy="144.60" rx="9.68" ry="3.08" fill="#1a3426"/>
<ellipse cx="203.61" cy="143.10" rx="1.12" ry="0.60" fill="#1a3426"/>
<ellipse cx="218.67" cy="144.96" rx="0.94" ry="0.57" fill="#1a3426"/>
<ellipse cx="204.86" cy="143.40" rx="1.23" ry="0.71" fill="#1a3426"/>
<ellipse cx="206.72" cy="141.45" rx="1.07" ry="0.65" fill="#1a3426"/>
<ellipse cx="209.76" cy="146.84" rx="1.26" ry="0.68" fill="#1a3426"/>
<ellipse cx="221.35" cy="146.94" rx="1.11" ry="0.72" fill="#1a3426"/>
<ellipse cx="205.50" cy="145.56" rx="1.40" ry="0.56" fill="#1a3426"/>
<ellipse cx="204.46" cy="147.65" rx="0.79" ry="0.67" fill="#1a3426"/>
<ellipse cx="204.28" cy="144.96" rx="1.35" ry="0.64" fill="#1a3426"/>
<ellipse cx="221.39" cy="144.84" rx="0.70" ry="0.75" fill="#1a3426"/>
<ellipse cx="219.82" cy="141.70" rx="0.73" ry="0.74" fill="#1a3426"/>
<ellipse cx="209.09" cy="147.67" rx="0.91" ry="0.61" fill="#1a3426"/>
<ellipse cx="218.90" cy="147.21" rx="0.76" ry="0.84" fill="#1a3426"/>
<ellipse cx="223.22" cy="145.70" rx="0.83" ry="0.53" fill="#1a3426"/>
<ellipse cx="211.89" cy="141.24" rx="1.24" ry="0.68" fill="#1a3426"/>
<ellipse cx="207.47" cy="142.81" rx="1.17" ry="0.68" fill="#1a3426"/>
<ellipse cx="218.42" cy="144.07" rx="0.75" ry="0.74" fill="#1a3426"/>
<ellipse cx="220.20" cy="143.18" rx="1.20" ry="0.70" fill="#1a3426"/>
<ellipse cx="205.10" cy="146.65" rx="1.12" ry="0.51" fill="#1a3426"/>
<ellipse cx="208.61" cy="148.08" rx="0.88" ry="0.67" fill="#1a3426"/>
<ellipse cx="211.84" cy="147.64" rx="1.16" ry="0.76" fill="#1a3426"/>
<ellipse cx="221.10" cy="143.73" rx="0.84" ry="0.62" fill="#1a3426"/>
<ellipse cx="219.60" cy="145.61" rx="1.11" ry="0.71" fill="#1a3426"/>
<ellipse cx="212.61" cy="147.28" rx="0.77" ry="0.56" fill="#1a3426"/>
<ellipse cx="204.18" cy="144.57" rx="1.32" ry="0.70" fill="#1a3426"/>
<ellipse cx="207.37" cy="147.28" rx="0.73" ry="0.76" fill="#1a3426"/>
<ellipse cx="212.26" cy="141.55" rx="1.21" ry="0.60" fill="#1a3426"/>
<ellipse cx="213.70" cy="147.33" rx="0.84" ry="0.71" fill="#1a3426"/>
<ellipse cx="205.65" cy="141.73" rx="0.77" ry="0.77" fill="#1a3426"/>
<ellipse cx="203.56" cy="145.02" rx="1.05" ry="0.65" fill="#1a3426"/>
<ellipse cx="214.92" cy="147.56" rx="1.15" ry="0.75" fill="#1a3426"/>
<ellipse cx="218.79" cy="143.22" rx="1.32" ry="0.78" fill="#1a3426"/>
<ellipse cx="209.54" cy="140.64" rx="0.80" ry="0.77" fill="#1a3426"/>
<ellipse cx="218.01" cy="143.10" rx="1.12" ry="0.83" fill="#1a3426"/>
<ellipse cx="209.26" cy="148.35" rx="1.33" ry="0.65" fill="#1a3426"/>
<ellipse cx="216.97" cy="146.78" rx="1.28" ry="0.65" fill="#1a3426"/>
<ellipse cx="208.57" cy="147.53" rx="1.35" ry="0.59" fill="#1a3426"/>
<ellipse cx="223.52" cy="145.06" rx="0.92" ry="0.63" fill="#1a3426"/>
<ellipse cx="220.29" cy="144.16" rx="0.76" ry="0.81" fill="#1a3426"/>
<ellipse cx="212.50" cy="147.36" rx="1.36" ry="0.58" fill="#1a3426"/>
<ellipse cx="219.09" cy="142.86" rx="0.91" ry="0.58" fill="#1a3426"/>
<ellipse cx="202.89" cy="143.70" rx="0.98" ry="0.68" fill="#1a3426"/>
<ellipse cx="208.95" cy="148.29" rx="1.35" ry="0.76" fill="#1a3426"/>
<ellipse cx="215.11" cy="142.41" rx="0.88" ry="0.57" fill="#1a3426"/>
<ellipse cx="218.66" cy="147.95" rx="1.33" ry="0.82" fill="#1a3426"/>
<ellipse cx="205.50" cy="143.70" rx="1.00" ry="0.52" fill="#1a3426"/>
<ellipse cx="217.42" cy="143.45" rx="1.00" ry="0.78" fill="#f4f6f4"/>
<ellipse cx="214.74" cy="147.16" rx="1.02" ry="0.70" fill="#f4f6f4"/>
<ellipse cx="218.66" cy="146.26" rx="1.08" ry="0.60" fill="#f4f6f4"/>
<ellipse cx="208.03" cy="142.63" rx="0.98" ry="0.54" fill="#f4f6f4"/>
<ellipse cx="207.38" cy="143.80" rx="1.41" ry="0.60" fill="#f4f6f4"/>
<ellipse cx="215.36" cy="146.45" rx="0.88" ry="0.59" fill="#f4f6f4"/>
<ellipse cx="205.65" cy="144.01" rx="1.03" ry="0.59" fill="#f4f6f4"/>
<ellipse cx="201.70" cy="147.12" rx="1.0" ry="0.65" fill="#1a3426"/>
<ellipse cx="205.70" cy="147.80" rx="1.0" ry="0.65" fill="#1a3426"/>
<ellipse cx="210.20" cy="148.56" rx="1.0" ry="0.65" fill="#1a3426"/>
<ellipse cx="215.20" cy="148.39" rx="1.0" ry="0.65" fill="#1a3426"/>
<ellipse cx="219.70" cy="147.62" rx="1.0" ry="0.65" fill="#1a3426"/>
<ellipse cx="223.20" cy="147.03" rx="1.0" ry="0.65" fill="#1a3426"/>
<path d="M209.50,141.80 L212.20,144.40 L214.90,141.80 M212.20,144.40 L212.20,147.20" stroke="#f4f6f4" stroke-width="1.7" fill="none"/>
<line x1="177.00" y1="73.80" x2="194.90" y2="52.00" stroke="#000" stroke-width="0.9" marker-end="url(#ahs)"/>
<line x1="177.00" y1="73.80" x2="193.20" y2="74.50" stroke="#000" stroke-width="0.9" marker-end="url(#ahs)"/>
<line x1="177.00" y1="73.80" x2="193.60" y2="90.40" stroke="#000" stroke-width="0.9" marker-end="url(#ahs)"/>
<line x1="177.00" y1="73.80" x2="194.30" y2="107.20" stroke="#000" stroke-width="0.9" marker-end="url(#ahs)"/>
<line x1="177.00" y1="73.80" x2="195.20" y2="125.60" stroke="#000" stroke-width="0.9" marker-end="url(#ahs)"/>
<line x1="177.00" y1="73.80" x2="194.80" y2="144.50" stroke="#000" stroke-width="0.9" marker-end="url(#ahs)"/>
<line x1="236.00" y1="73.70" x2="273.50" y2="73.70" stroke="#000" stroke-width="1.3" marker-end="url(#ah)"/>
<line x1="236.00" y1="91.60" x2="273.50" y2="91.60" stroke="#000" stroke-width="1.3" marker-end="url(#ah)"/>
<line x1="236.00" y1="109.00" x2="273.50" y2="109.00" stroke="#000" stroke-width="1.3" marker-end="url(#ah)"/>
<line x1="236.00" y1="126.60" x2="273.50" y2="126.60" stroke="#000" stroke-width="1.3" marker-end="url(#ah)"/>
<line x1="236.00" y1="144.40" x2="273.50" y2="144.40" stroke="#000" stroke-width="1.3" marker-end="url(#ah)"/>
<line x1="264" y1="40.1" x2="277" y2="40.1" stroke="#6a4a58" stroke-width="1.3"/>
<line x1="272.00" y1="40.10" x2="279.60" y2="40.10" stroke="#000" stroke-width="1.3" marker-end="url(#ah)"/>
<circle cx="84" cy="45.3" r="4.3" fill="#fff" stroke="#3a3a3a" stroke-width="1.2"/>
<line x1="84.00" y1="49.60" x2="84.00" y2="54.00" stroke="#3a3a3a" stroke-width="1.1"/>
<path d="M84,54 L69.2,56.6 M84,54 L99.4,56.6" stroke="#b8b8b8" stroke-width="0.7" fill="none"/>
<rect x="68.9" y="56.4" width="30.8" height="7.3" fill="url(#bcg)" stroke="#707878" stroke-width="0.9"/>
<rect x="71.20" y="57.8" width="1.0" height="4.6" fill="#503040"/>
<rect x="73.30" y="57.8" width="0.7" height="4.6" fill="#3a2a30"/>
<rect x="75.60" y="57.8" width="1.0" height="4.6" fill="#3a2a30"/>
<rect x="77.20" y="57.8" width="0.7" height="4.6" fill="#503040"/>
<rect x="79.50" y="57.8" width="1.0" height="4.6" fill="#3a2a30"/>
<rect x="81.80" y="57.8" width="0.7" height="4.6" fill="#2a4a38"/>
<rect x="83.90" y="57.8" width="1.0" height="4.6" fill="#2a4a38"/>
<rect x="85.60" y="57.8" width="0.7" height="4.6" fill="#2a4a38"/>
<rect x="87.80" y="57.8" width="1.0" height="4.6" fill="#2a4a38"/>
<rect x="89.60" y="57.8" width="0.7" height="4.6" fill="#503040"/>
<rect x="91.40" y="57.8" width="1.0" height="4.6" fill="#2a4050"/>
<rect x="93.60" y="57.8" width="0.7" height="4.6" fill="#2a4050"/>
<rect x="95.60" y="57.8" width="1.0" height="4.6" fill="#2a4050"/>
<rect x="97.40" y="57.8" width="0.7" height="4.6" fill="#2a4050"/>
<path d="M128.2,25.8 H139.8 V33 L134,37.3 L128.2,33 Z" fill="#9a9a9a" stroke="#3a3a3a" stroke-width="1.0"/>
<circle cx="134" cy="41.2" r="1.3" fill="#fff" stroke="#444" stroke-width="0.8"/>
<circle cx="134" cy="45.3" r="1.4" fill="#333" stroke="#222" stroke-width="0.6"/>
<circle cx="134" cy="49.3" r="1.3" fill="#888" stroke="#444" stroke-width="0.8"/>
<g transform="translate(128.0,59.3) rotate(22)">
<path d="M-2.9,-6.6 V3.7 A2.9,2.9 0 0 0 2.9,3.7 V-6.6" fill="#fff" stroke="#1a1a1a" stroke-width="1.1"/>
<circle cx="0.6" cy="1.4" r="1.3" fill="#3a3a3a"/>
<circle cx="-0.8" cy="4.0" r="1.1" fill="#fff" stroke="#222" stroke-width="0.6"/>
<circle cx="1.2" cy="4.4" r="0.8" fill="#555"/>
<line x1="-3.3" y1="-6.6" x2="3.3" y2="-6.6" stroke="#1a1a1a" stroke-width="1.1"/>
</g>
<g transform="translate(141.0,59.3) rotate(-18)">
<path d="M-2.9,-6.6 V3.7 A2.9,2.9 0 0 0 2.9,3.7 V-6.6" fill="#fff" stroke="#1a1a1a" stroke-width="1.1"/>
<path d="M-2.1,-4.2 V3.7 A2.1,2.1 0 0 0 2.1,3.7 V-4.2 Z" fill="#2a4636"/>
<circle cx="-0.7" cy="-2.2" r="0.65" fill="#dfe8e2"/>
<circle cx="0.8" cy="0.4" r="0.65" fill="#dfe8e2"/>
<circle cx="-0.6" cy="2.9" r="0.65" fill="#dfe8e2"/>
<circle cx="0.9" cy="-3.6" r="0.65" fill="#dfe8e2"/>
<circle cx="0.3" cy="4.6" r="0.65" fill="#dfe8e2"/>
<line x1="-3.3" y1="-6.6" x2="3.3" y2="-6.6" stroke="#1a1a1a" stroke-width="1.1"/>
</g>
<circle cx="195.1" cy="19.5" r="7.8" fill="#f2e600" stroke="#111" stroke-width="1.1"/>
<path d="M193.20,19.50 L188.50,19.50 A6.6,6.6 0 0 1 191.80,13.78 L194.15,17.85 A1.9,1.9 0 0 0 193.20,19.50 Z" fill="#111"/>
<path d="M196.05,17.85 L198.40,13.78 A6.6,6.6 0 0 1 201.70,19.50 L197.00,19.50 A1.9,1.9 0 0 0 196.05,17.85 Z" fill="#111"/>
<path d="M196.05,21.15 L198.40,25.22 A6.6,6.6 0 0 1 191.80,25.22 L194.15,21.15 A1.9,1.9 0 0 0 196.05,21.15 Z" fill="#111"/>
<circle cx="195.1" cy="19.5" r="1.2" fill="#111"/>
<path d="M212.20,20.80 C213.70,17.50 217.70,17.00 220.20,18.80 S224.20,21.50 226.20,20.00" fill="none" stroke="#8c8c8c" stroke-width="1.2"/>
<g transform="translate(211.70,29.00)"><path d="M0,-8.5 C4.6,-8.5 7.3,-5.6 7.3,-1.2 C7.3,2.8 5.6,4.4 4.1,6 C3,7.4 1.6,8 0,8 C-1.6,8 -3,7.4 -4.1,6 C-5.6,4.4 -7.3,2.8 -7.3,-1.2 C-7.3,-5.6 -4.6,-8.5 0,-8.5 Z" fill="#cdcdcd" stroke="#8a8a8a" stroke-width="0.9"/><path d="M-6.6,1.6 Q-4.4,-3.6 -1.2,0.6 Q-3.2,4.6 -6.6,1.6 Z" fill="#e4e4e4"/><path d="M6.6,1.6 Q4.4,-3.6 1.2,0.6 Q3.2,4.6 6.6,1.6 Z" fill="#e4e4e4"/><path d="M-6.6,1.6 Q-4.4,-3.6 -1.2,0.6 M6.6,1.6 Q4.4,-3.6 1.2,0.6" fill="none" stroke="#7e7e7e" stroke-width="1.0"/><path d="M-3.5,-5.5 Q0,-6.6 3.5,-5.5" fill="none" stroke="#b4b4b4" stroke-width="0.7"/><circle cx="-1.8" cy="4.3" r="0.8" fill="#3a3a3a"/><circle cx="1.8" cy="4.3" r="0.8" fill="#3a3a3a"/><path d="M-3.2,6.2 Q0,8.9 3.2,6.2" fill="none" stroke="#2a2a2a" stroke-width="1.2"/><circle cx="0" cy="7.5" r="0.9" fill="#222"/></g>
<path d="M228.00,20.80 C229.50,17.50 233.50,17.00 236.00,18.80 S240.00,21.50 242.00,20.00" fill="none" stroke="#8c8c8c" stroke-width="1.2"/>
<g transform="translate(227.50,29.00)"><path d="M0,-8.5 C4.6,-8.5 7.3,-5.6 7.3,-1.2 C7.3,2.8 5.6,4.4 4.1,6 C3,7.4 1.6,8 0,8 C-1.6,8 -3,7.4 -4.1,6 C-5.6,4.4 -7.3,2.8 -7.3,-1.2 C-7.3,-5.6 -4.6,-8.5 0,-8.5 Z" fill="#cdcdcd" stroke="#8a8a8a" stroke-width="0.9"/><path d="M-6.6,1.6 Q-4.4,-3.6 -1.2,0.6 Q-3.2,4.6 -6.6,1.6 Z" fill="#e4e4e4"/><path d="M6.6,1.6 Q4.4,-3.6 1.2,0.6 Q3.2,4.6 6.6,1.6 Z" fill="#e4e4e4"/><path d="M-6.6,1.6 Q-4.4,-3.6 -1.2,0.6 M6.6,1.6 Q4.4,-3.6 1.2,0.6" fill="none" stroke="#7e7e7e" stroke-width="1.0"/><path d="M-3.5,-5.5 Q0,-6.6 3.5,-5.5" fill="none" stroke="#b4b4b4" stroke-width="0.7"/><circle cx="-1.8" cy="4.3" r="0.8" fill="#3a3a3a"/><circle cx="1.8" cy="4.3" r="0.8" fill="#3a3a3a"/><path d="M-3.2,6.2 Q0,8.9 3.2,6.2" fill="none" stroke="#2a2a2a" stroke-width="1.2"/><circle cx="0" cy="7.5" r="0.9" fill="#222"/></g>
<path d="M197,31.2 C198.5,28 202,27.5 205.5,28.5" fill="none" stroke="#8a8ab0" stroke-width="1.1"/>
<g transform="translate(196.60,39.60)"><path d="M0,-8.5 C4.6,-8.5 7.3,-5.6 7.3,-1.2 C7.3,2.8 5.6,4.4 4.1,6 C3,7.4 1.6,8 0,8 C-1.6,8 -3,7.4 -4.1,6 C-5.6,4.4 -7.3,2.8 -7.3,-1.2 C-7.3,-5.6 -4.6,-8.5 0,-8.5 Z" fill="#cdcdcd" stroke="#8a8a8a" stroke-width="0.9"/><path d="M-6.6,1.6 Q-4.4,-3.6 -1.2,0.6 Q-3.2,4.6 -6.6,1.6 Z" fill="#e4e4e4"/><path d="M6.6,1.6 Q4.4,-3.6 1.2,0.6 Q3.2,4.6 6.6,1.6 Z" fill="#e4e4e4"/><path d="M-6.6,1.6 Q-4.4,-3.6 -1.2,0.6 M6.6,1.6 Q4.4,-3.6 1.2,0.6" fill="none" stroke="#7e7e7e" stroke-width="1.0"/><path d="M-3.5,-5.5 Q0,-6.6 3.5,-5.5" fill="none" stroke="#b4b4b4" stroke-width="0.7"/><circle cx="-1.8" cy="4.3" r="0.8" fill="#3a3a3a"/><circle cx="1.8" cy="4.3" r="0.8" fill="#3a3a3a"/><path d="M-3.2,6.2 Q0,8.9 3.2,6.2" fill="none" stroke="#2a2a2a" stroke-width="1.2"/><circle cx="0" cy="7.5" r="0.9" fill="#222"/></g>
<path d="M212.00,43.00 C213.50,39.70 217.50,39.20 220.00,41.00 S224.00,43.70 226.00,42.20" fill="none" stroke="#8c8c8c" stroke-width="1.2"/>
<g transform="translate(211.50,51.20)"><path d="M0,-8.5 C4.6,-8.5 7.3,-5.6 7.3,-1.2 C7.3,2.8 5.6,4.4 4.1,6 C3,7.4 1.6,8 0,8 C-1.6,8 -3,7.4 -4.1,6 C-5.6,4.4 -7.3,2.8 -7.3,-1.2 C-7.3,-5.6 -4.6,-8.5 0,-8.5 Z" fill="#cdcdcd" stroke="#8a8a8a" stroke-width="0.9"/><path d="M-6.6,1.6 Q-4.4,-3.6 -1.2,0.6 Q-3.2,4.6 -6.6,1.6 Z" fill="#e4e4e4"/><path d="M6.6,1.6 Q4.4,-3.6 1.2,0.6 Q3.2,4.6 6.6,1.6 Z" fill="#e4e4e4"/><path d="M-6.6,1.6 Q-4.4,-3.6 -1.2,0.6 M6.6,1.6 Q4.4,-3.6 1.2,0.6" fill="none" stroke="#7e7e7e" stroke-width="1.0"/><path d="M-3.5,-5.5 Q0,-6.6 3.5,-5.5" fill="none" stroke="#b4b4b4" stroke-width="0.7"/><circle cx="-1.8" cy="4.3" r="0.8" fill="#3a3a3a"/><circle cx="1.8" cy="4.3" r="0.8" fill="#3a3a3a"/><path d="M-3.2,6.2 Q0,8.9 3.2,6.2" fill="none" stroke="#2a2a2a" stroke-width="1.2"/><circle cx="0" cy="7.5" r="0.9" fill="#222"/></g>
<path d="M227.80,43.00 C229.30,39.70 233.30,39.20 235.80,41.00 S239.80,43.70 241.80,42.20" fill="none" stroke="#8c8c8c" stroke-width="1.2"/>
<g transform="translate(227.30,51.20)"><path d="M0,-8.5 C4.6,-8.5 7.3,-5.6 7.3,-1.2 C7.3,2.8 5.6,4.4 4.1,6 C3,7.4 1.6,8 0,8 C-1.6,8 -3,7.4 -4.1,6 C-5.6,4.4 -7.3,2.8 -7.3,-1.2 C-7.3,-5.6 -4.6,-8.5 0,-8.5 Z" fill="#cdcdcd" stroke="#8a8a8a" stroke-width="0.9"/><path d="M-6.6,1.6 Q-4.4,-3.6 -1.2,0.6 Q-3.2,4.6 -6.6,1.6 Z" fill="#e4e4e4"/><path d="M6.6,1.6 Q4.4,-3.6 1.2,0.6 Q3.2,4.6 6.6,1.6 Z" fill="#e4e4e4"/><path d="M-6.6,1.6 Q-4.4,-3.6 -1.2,0.6 M6.6,1.6 Q4.4,-3.6 1.2,0.6" fill="none" stroke="#7e7e7e" stroke-width="1.0"/><path d="M-3.5,-5.5 Q0,-6.6 3.5,-5.5" fill="none" stroke="#b4b4b4" stroke-width="0.7"/><circle cx="-1.8" cy="4.3" r="0.8" fill="#3a3a3a"/><circle cx="1.8" cy="4.3" r="0.8" fill="#3a3a3a"/><path d="M-3.2,6.2 Q0,8.9 3.2,6.2" fill="none" stroke="#2a2a2a" stroke-width="1.2"/><circle cx="0" cy="7.5" r="0.9" fill="#222"/></g>
<g transform="translate(257.3,26.2) rotate(-38)"><path d="M-4.8,-7.5 L-3.3,-9.6 L-1.8,-7.6 L-0.2,-9.8 L1.4,-7.6 L3.0,-9.4 L4.8,-7.2 L4.8,4.2 A4.8,4.8 0 0 1 -4.8,4.2 Z" fill="#c8141a" stroke="#8a0a10" stroke-width="0.6"/></g>
<g><line x1="248.5" y1="42" x2="267" y2="58.8" stroke="#6a6a58" stroke-width="4.4" stroke-linecap="round"/><circle cx="245.9" cy="42.6" r="2.3" fill="#ecebd6" stroke="#6a6a58" stroke-width="0.9"/><circle cx="249.0" cy="39.4" r="2.3" fill="#ecebd6" stroke="#6a6a58" stroke-width="0.9"/><circle cx="266.4" cy="61.6" r="2.3" fill="#ecebd6" stroke="#6a6a58" stroke-width="0.9"/><circle cx="269.6" cy="58.3" r="2.3" fill="#ecebd6" stroke="#6a6a58" stroke-width="0.9"/><line x1="248.5" y1="42" x2="267" y2="58.8" stroke="#ecebd6" stroke-width="2.8" stroke-linecap="round"/></g>
<rect x="286.90" y="15.90" width="5.3" height="5.4" fill="#2e6a34" stroke="#444" stroke-width="0.5"/>
<circle cx="289.55" cy="18.60" r="2.0" fill="#2e6a34" stroke="#00000033" stroke-width="0.6"/>
<rect x="292.30" y="15.90" width="5.3" height="5.4" fill="#f0e040" stroke="#444" stroke-width="0.5"/>
<circle cx="294.95" cy="18.60" r="2.0" fill="#f0e040" stroke="#00000033" stroke-width="0.6"/>
<rect x="297.70" y="15.90" width="5.3" height="5.4" fill="#b8b0c8" stroke="#444" stroke-width="0.5"/>
<circle cx="300.35" cy="18.60" r="2.0" fill="#b8b0c8" stroke="#00000033" stroke-width="0.6"/>
<rect x="303.10" y="15.90" width="5.3" height="5.4" fill="#3a3a3a" stroke="#444" stroke-width="0.5"/>
<circle cx="305.75" cy="18.60" r="2.0" fill="#3a3a3a" stroke="#00000033" stroke-width="0.6"/>
<path d="M308.50,17.00 H313.10 V15.70 L316.90,18.60 L313.10,21.50 V20.20 H308.50" fill="#fff" stroke="#333" stroke-width="0.7"/>
<line x1="308.7" y1="22.70" x2="347.6" y2="22.70" stroke="#a0a0a0" stroke-width="0.8"/>
<line x1="308.7" y1="25.70" x2="347.6" y2="25.70" stroke="#a0a0a0" stroke-width="0.8"/>
<rect x="318.9" y="21.80" width="18.4" height="4.8" fill="#e8b8c0" stroke="#888" stroke-width="0.5"/>
<rect x="319.80" y="22.20" width="2.6" height="4.0" fill="#e06070"/>
<rect x="323.20" y="22.20" width="2.6" height="4.0" fill="#40b090"/>
<rect x="326.60" y="22.20" width="2.6" height="4.0" fill="#303860"/>
<rect x="330.00" y="22.20" width="2.6" height="4.0" fill="#40b090"/>
<rect x="333.40" y="22.20" width="2.6" height="4.0" fill="#40a0b0"/>
<path d="M347.3,27.40 H343.1 V26.20 L339.2,28.90 L343.1,31.60 V30.40 H347.3 Z" fill="#fff" stroke="#333" stroke-width="0.7"/>
<rect x="286.90" y="31.90" width="5.3" height="5.4" fill="#b8a8b8" stroke="#444" stroke-width="0.5"/>
<circle cx="289.55" cy="34.60" r="2.0" fill="#b8a8b8" stroke="#00000033" stroke-width="0.6"/>
<rect x="292.30" y="31.90" width="5.3" height="5.4" fill="#b8a8b8" stroke="#444" stroke-width="0.5"/>
<circle cx="294.95" cy="34.60" r="2.0" fill="#b8a8b8" stroke="#00000033" stroke-width="0.6"/>
<rect x="297.70" y="31.90" width="5.3" height="5.4" fill="#484848" stroke="#444" stroke-width="0.5"/>
<circle cx="300.35" cy="34.60" r="2.0" fill="#484848" stroke="#00000033" stroke-width="0.6"/>
<rect x="303.10" y="31.90" width="5.3" height="5.4" fill="#2e6a34" stroke="#444" stroke-width="0.5"/>
<circle cx="305.75" cy="34.60" r="2.0" fill="#2e6a34" stroke="#00000033" stroke-width="0.6"/>
<path d="M308.50,33.00 H313.10 V31.70 L316.90,34.60 L313.10,37.50 V36.20 H308.50" fill="#fff" stroke="#333" stroke-width="0.7"/>
<line x1="308.7" y1="38.70" x2="347.6" y2="38.70" stroke="#a0a0a0" stroke-width="0.8"/>
<line x1="308.7" y1="41.70" x2="347.6" y2="41.70" stroke="#a0a0a0" stroke-width="0.8"/>
<rect x="318.9" y="37.80" width="18.4" height="4.8" fill="#b8b8b8" stroke="#888" stroke-width="0.5"/>
<rect x="319.80" y="38.20" width="2.6" height="4.0" fill="#404040"/>
<rect x="323.20" y="38.20" width="2.6" height="4.0" fill="#404040"/>
<rect x="326.60" y="38.20" width="2.6" height="4.0" fill="#60c0e0"/>
<rect x="330.00" y="38.20" width="2.6" height="4.0" fill="#60c8e8"/>
<rect x="333.40" y="38.20" width="2.6" height="4.0" fill="#60c0e0"/>
<path d="M347.3,43.40 H343.1 V42.20 L339.2,44.90 L343.1,47.60 V46.40 H347.3 Z" fill="#fff" stroke="#333" stroke-width="0.7"/>
<rect x="286.90" y="48.70" width="5.3" height="5.4" fill="#c0c0c8" stroke="#444" stroke-width="0.5"/>
<circle cx="289.55" cy="51.40" r="2.0" fill="#c0c0c8" stroke="#00000033" stroke-width="0.6"/>
<rect x="292.30" y="48.70" width="5.3" height="5.4" fill="#3e4a44" stroke="#444" stroke-width="0.5"/>
<circle cx="294.95" cy="51.40" r="2.0" fill="#3e4a44" stroke="#00000033" stroke-width="0.6"/>
<rect x="297.70" y="48.70" width="5.3" height="5.4" fill="#c81e28" stroke="#444" stroke-width="0.5"/>
<circle cx="300.35" cy="51.40" r="2.0" fill="#c81e28" stroke="#00000033" stroke-width="0.6"/>
<rect x="303.10" y="48.70" width="5.3" height="5.4" fill="#ffffff" stroke="#444" stroke-width="0.5"/>
<path d="M308.50,49.80 H313.10 V48.50 L316.90,51.40 L313.10,54.30 V53.00 H308.50" fill="#fff" stroke="#333" stroke-width="0.7"/>
<line x1="308.7" y1="55.50" x2="347.6" y2="55.50" stroke="#a0a0a0" stroke-width="0.8"/>
<line x1="308.7" y1="58.50" x2="347.6" y2="58.50" stroke="#a0a0a0" stroke-width="0.8"/>
<rect x="318.9" y="54.60" width="18.4" height="4.8" fill="#70d0c0" stroke="#888" stroke-width="0.5"/>
<rect x="319.80" y="55.00" width="2.6" height="4.0" fill="#40b0a0"/>
<rect x="323.20" y="55.00" width="2.6" height="4.0" fill="#e07088"/>
<rect x="326.60" y="55.00" width="2.6" height="4.0" fill="#40b0a0"/>
<rect x="330.00" y="55.00" width="2.6" height="4.0" fill="#e07088"/>
<rect x="333.40" y="55.00" width="2.6" height="4.0" fill="#40b0a0"/>
<path d="M347.3,60.20 H343.1 V59.00 L339.2,61.70 L343.1,64.40 V63.20 H347.3 Z" fill="#fff" stroke="#333" stroke-width="0.7"/>
<rect x="286.90" y="72.90" width="5.3" height="5.4" fill="#2e6a34" stroke="#444" stroke-width="0.5"/>
<circle cx="289.55" cy="75.60" r="2.0" fill="#2e6a34" stroke="#00000033" stroke-width="0.6"/>
<rect x="292.30" y="72.90" width="5.3" height="5.4" fill="#f0e040" stroke="#444" stroke-width="0.5"/>
<circle cx="294.95" cy="75.60" r="2.0" fill="#f0e040" stroke="#00000033" stroke-width="0.6"/>
<rect x="297.70" y="72.90" width="5.3" height="5.4" fill="#b8b0c8" stroke="#444" stroke-width="0.5"/>
<circle cx="300.35" cy="75.60" r="2.0" fill="#b8b0c8" stroke="#00000033" stroke-width="0.6"/>
<rect x="303.10" y="72.90" width="5.3" height="5.4" fill="#3a3a3a" stroke="#444" stroke-width="0.5"/>
<circle cx="305.75" cy="75.60" r="2.0" fill="#3a3a3a" stroke="#00000033" stroke-width="0.6"/>
<path d="M308.50,74.00 H313.10 V72.70 L316.90,75.60 L313.10,78.50 V77.20 H308.50" fill="#fff" stroke="#333" stroke-width="0.7"/>
<line x1="308.7" y1="79.70" x2="347.6" y2="79.70" stroke="#a0a0a0" stroke-width="0.8"/>
<line x1="308.7" y1="82.70" x2="347.6" y2="82.70" stroke="#a0a0a0" stroke-width="0.8"/>
<rect x="318.9" y="78.80" width="18.4" height="4.8" fill="#e8b8c0" stroke="#888" stroke-width="0.5"/>
<rect x="319.80" y="79.20" width="2.6" height="4.0" fill="#e06070"/>
<rect x="323.20" y="79.20" width="2.6" height="4.0" fill="#40b090"/>
<rect x="326.60" y="79.20" width="2.6" height="4.0" fill="#303860"/>
<rect x="330.00" y="79.20" width="2.6" height="4.0" fill="#40b090"/>
<rect x="333.40" y="79.20" width="2.6" height="4.0" fill="#40a0b0"/>
<path d="M347.3,84.40 H343.1 V83.20 L339.2,85.90 L343.1,88.60 V87.40 H347.3 Z" fill="#fff" stroke="#333" stroke-width="0.7"/>
<rect x="286.90" y="89.10" width="5.3" height="5.4" fill="#b8a8b8" stroke="#444" stroke-width="0.5"/>
<circle cx="289.55" cy="91.80" r="2.0" fill="#b8a8b8" stroke="#00000033" stroke-width="0.6"/>
<rect x="292.30" y="89.10" width="5.3" height="5.4" fill="#b8a8b8" stroke="#444" stroke-width="0.5"/>
<circle cx="294.95" cy="91.80" r="2.0" fill="#b8a8b8" stroke="#00000033" stroke-width="0.6"/>
<rect x="297.70" y="89.10" width="5.3" height="5.4" fill="#484848" stroke="#444" stroke-width="0.5"/>
<circle cx="300.35" cy="91.80" r="2.0" fill="#484848" stroke="#00000033" stroke-width="0.6"/>
<rect x="303.10" y="89.10" width="5.3" height="5.4" fill="#2e6a34" stroke="#444" stroke-width="0.5"/>
<circle cx="305.75" cy="91.80" r="2.0" fill="#2e6a34" stroke="#00000033" stroke-width="0.6"/>
<path d="M308.50,90.20 H313.10 V88.90 L316.90,91.80 L313.10,94.70 V93.40 H308.50" fill="#fff" stroke="#333" stroke-width="0.7"/>
<line x1="308.7" y1="95.90" x2="347.6" y2="95.90" stroke="#a0a0a0" stroke-width="0.8"/>
<line x1="308.7" y1="98.90" x2="347.6" y2="98.90" stroke="#a0a0a0" stroke-width="0.8"/>
<rect x="318.9" y="95.00" width="18.4" height="4.8" fill="#b8b8b8" stroke="#888" stroke-width="0.5"/>
<rect x="319.80" y="95.40" width="2.6" height="4.0" fill="#404040"/>
<rect x="323.20" y="95.40" width="2.6" height="4.0" fill="#404040"/>
<rect x="326.60" y="95.40" width="2.6" height="4.0" fill="#60c0e0"/>
<rect x="330.00" y="95.40" width="2.6" height="4.0" fill="#60c8e8"/>
<rect x="333.40" y="95.40" width="2.6" height="4.0" fill="#60c0e0"/>
<path d="M347.3,100.60 H343.1 V99.40 L339.2,102.10 L343.1,104.80 V103.60 H347.3 Z" fill="#fff" stroke="#333" stroke-width="0.7"/>
<rect x="286.90" y="105.50" width="5.3" height="5.4" fill="#c0c0c8" stroke="#444" stroke-width="0.5"/>
<circle cx="289.55" cy="108.20" r="2.0" fill="#c0c0c8" stroke="#00000033" stroke-width="0.6"/>
<rect x="292.30" y="105.50" width="5.3" height="5.4" fill="#3e4a44" stroke="#444" stroke-width="0.5"/>
<circle cx="294.95" cy="108.20" r="2.0" fill="#3e4a44" stroke="#00000033" stroke-width="0.6"/>
<rect x="297.70" y="105.50" width="5.3" height="5.4" fill="#c81e28" stroke="#444" stroke-width="0.5"/>
<circle cx="300.35" cy="108.20" r="2.0" fill="#c81e28" stroke="#00000033" stroke-width="0.6"/>
<rect x="303.10" y="105.50" width="5.3" height="5.4" fill="#ffffff" stroke="#444" stroke-width="0.5"/>
<path d="M308.50,106.60 H313.10 V105.30 L316.90,108.20 L313.10,111.10 V109.80 H308.50" fill="#fff" stroke="#333" stroke-width="0.7"/>
<line x1="308.7" y1="112.30" x2="347.6" y2="112.30" stroke="#a0a0a0" stroke-width="0.8"/>
<line x1="308.7" y1="115.30" x2="347.6" y2="115.30" stroke="#a0a0a0" stroke-width="0.8"/>
<rect x="318.9" y="111.40" width="18.4" height="4.8" fill="#70d0c0" stroke="#888" stroke-width="0.5"/>
<rect x="319.80" y="111.80" width="2.6" height="4.0" fill="#40b0a0"/>
<rect x="323.20" y="111.80" width="2.6" height="4.0" fill="#e07088"/>
<rect x="326.60" y="111.80" width="2.6" height="4.0" fill="#40b0a0"/>
<rect x="330.00" y="111.80" width="2.6" height="4.0" fill="#e07088"/>
<rect x="333.40" y="111.80" width="2.6" height="4.0" fill="#40b0a0"/>
<path d="M347.3,117.00 H343.1 V115.80 L339.2,118.50 L343.1,121.20 V120.00 H347.3 Z" fill="#fff" stroke="#333" stroke-width="0.7"/>
<rect x="286.90" y="123.30" width="5.3" height="5.4" fill="#2e6a34" stroke="#444" stroke-width="0.5"/>
<circle cx="289.55" cy="126.00" r="2.0" fill="#2e6a34" stroke="#00000033" stroke-width="0.6"/>
<rect x="292.30" y="123.30" width="5.3" height="5.4" fill="#f0e040" stroke="#444" stroke-width="0.5"/>
<circle cx="294.95" cy="126.00" r="2.0" fill="#f0e040" stroke="#00000033" stroke-width="0.6"/>
<rect x="297.70" y="123.30" width="5.3" height="5.4" fill="#b8b0c8" stroke="#444" stroke-width="0.5"/>
<circle cx="300.35" cy="126.00" r="2.0" fill="#b8b0c8" stroke="#00000033" stroke-width="0.6"/>
<rect x="303.10" y="123.30" width="5.3" height="5.4" fill="#3a3a3a" stroke="#444" stroke-width="0.5"/>
<circle cx="305.75" cy="126.00" r="2.0" fill="#3a3a3a" stroke="#00000033" stroke-width="0.6"/>
<path d="M308.50,124.40 H313.10 V123.10 L316.90,126.00 L313.10,128.90 V127.60 H308.50" fill="#fff" stroke="#333" stroke-width="0.7"/>
<line x1="308.7" y1="130.10" x2="347.6" y2="130.10" stroke="#a0a0a0" stroke-width="0.8"/>
<line x1="308.7" y1="133.10" x2="347.6" y2="133.10" stroke="#a0a0a0" stroke-width="0.8"/>
<rect x="318.9" y="129.20" width="18.4" height="4.8" fill="#e8b8c0" stroke="#888" stroke-width="0.5"/>
<rect x="319.80" y="129.60" width="2.6" height="4.0" fill="#e06070"/>
<rect x="323.20" y="129.60" width="2.6" height="4.0" fill="#40b090"/>
<rect x="326.60" y="129.60" width="2.6" height="4.0" fill="#303860"/>
<rect x="330.00" y="129.60" width="2.6" height="4.0" fill="#40b090"/>
<rect x="333.40" y="129.60" width="2.6" height="4.0" fill="#40a0b0"/>
<path d="M347.3,134.80 H343.1 V133.60 L339.2,136.30 L343.1,139.00 V137.80 H347.3 Z" fill="#fff" stroke="#333" stroke-width="0.7"/>
<rect x="286.90" y="139.80" width="5.3" height="5.4" fill="#b8a8b8" stroke="#444" stroke-width="0.5"/>
<circle cx="289.55" cy="142.50" r="2.0" fill="#b8a8b8" stroke="#00000033" stroke-width="0.6"/>
<rect x="292.30" y="139.80" width="5.3" height="5.4" fill="#b8a8b8" stroke="#444" stroke-width="0.5"/>
<circle cx="294.95" cy="142.50" r="2.0" fill="#b8a8b8" stroke="#00000033" stroke-width="0.6"/>
<rect x="297.70" y="139.80" width="5.3" height="5.4" fill="#484848" stroke="#444" stroke-width="0.5"/>
<circle cx="300.35" cy="142.50" r="2.0" fill="#484848" stroke="#00000033" stroke-width="0.6"/>
<rect x="303.10" y="139.80" width="5.3" height="5.4" fill="#2e6a34" stroke="#444" stroke-width="0.5"/>
<circle cx="305.75" cy="142.50" r="2.0" fill="#2e6a34" stroke="#00000033" stroke-width="0.6"/>
<path d="M308.50,140.90 H313.10 V139.60 L316.90,142.50 L313.10,145.40 V144.10 H308.50" fill="#fff" stroke="#333" stroke-width="0.7"/>
<line x1="308.7" y1="146.60" x2="347.6" y2="146.60" stroke="#a0a0a0" stroke-width="0.8"/>
<line x1="308.7" y1="149.60" x2="347.6" y2="149.60" stroke="#a0a0a0" stroke-width="0.8"/>
<rect x="318.9" y="145.70" width="18.4" height="4.8" fill="#b8b8b8" stroke="#888" stroke-width="0.5"/>
<rect x="319.80" y="146.10" width="2.6" height="4.0" fill="#404040"/>
<rect x="323.20" y="146.10" width="2.6" height="4.0" fill="#404040"/>
<rect x="326.60" y="146.10" width="2.6" height="4.0" fill="#60c0e0"/>
<rect x="330.00" y="146.10" width="2.6" height="4.0" fill="#60c8e8"/>
<rect x="333.40" y="146.10" width="2.6" height="4.0" fill="#60c0e0"/>
<path d="M347.3,151.30 H343.1 V150.10 L339.2,152.80 L343.1,155.50 V154.30 H347.3 Z" fill="#fff" stroke="#333" stroke-width="0.7"/>
<text x="8.20" y="24.40" font-size="14" text-anchor="start" fill="#000" font-weight="bold">A</text>
<text x="8.20" y="187.10" font-size="14" text-anchor="start" fill="#000" font-weight="bold">B</text>
<text x="200.40" y="187.10" font-size="14" text-anchor="start" fill="#000" font-weight="bold">C</text>
<text x="359.40" y="187.10" font-size="14" text-anchor="start" fill="#000" font-weight="bold">D</text>
<text x="8.60" y="367.80" font-size="14" text-anchor="start" fill="#000" font-weight="bold">E</text>
<text x="190.80" y="367.80" font-size="14" text-anchor="start" fill="#000" font-weight="bold">F</text>
<text x="359.40" y="367.80" font-size="14" text-anchor="start" fill="#000" font-weight="bold">G</text>
<text x="8.20" y="544.70" font-size="14" text-anchor="start" fill="#000" font-weight="bold">H</text>
<text x="190.60" y="544.70" font-size="14" text-anchor="start" fill="#000" font-weight="bold">I</text>
<filter id="bl" x="-0.1" y="-0.02" width="1.2" height="1.04"><feGaussianBlur stdDeviation="0.25 0.6"/></filter>
<g filter="url(#bl)">
<rect x="48.20" y="311.05" width="9.00" height="1.40" fill="#714242"/>
<rect x="48.20" y="310.08" width="9.00" height="1.02" fill="#a27959"/>
<rect x="48.20" y="308.36" width="9.00" height="1.77" fill="#727868"/>
<rect x="48.20" y="307.34" width="9.00" height="1.07" fill="#436978"/>
<rect x="48.20" y="306.32" width="9.00" height="1.08" fill="#436978"/>
<rect x="48.20" y="304.62" width="9.00" height="1.74" fill="#7d594a"/>
<rect x="48.20" y="302.91" width="9.00" height="1.77" fill="#8b7458"/>
<rect x="48.20" y="301.45" width="9.00" height="1.51" fill="#815949"/>
<rect x="48.20" y="299.35" width="9.00" height="2.15" fill="#77606d"/>
<rect x="48.20" y="297.69" width="9.00" height="1.71" fill="#53755f"/>
<rect x="48.20" y="295.65" width="9.00" height="2.09" fill="#696f4a"/>
<rect x="48.20" y="293.95" width="9.00" height="1.75" fill="#4d6081"/>
<rect x="48.20" y="292.28" width="9.00" height="1.72" fill="#4e6c6b"/>
<rect x="48.20" y="290.52" width="9.00" height="1.82" fill="#5b4c51"/>
<rect x="48.20" y="289.02" width="9.00" height="1.55" fill="#826c51"/>
<rect x="48.20" y="286.83" width="9.00" height="2.24" fill="#545965"/>
<rect x="48.20" y="284.81" width="9.00" height="2.06" fill="#7e594a"/>
<rect x="48.20" y="283.49" width="9.00" height="1.37" fill="#5b4d52"/>
<rect x="48.20" y="281.57" width="9.00" height="1.97" fill="#735e6a"/>
<rect x="48.20" y="280.57" width="9.00" height="1.05" fill="#6e7264"/>
<rect x="48.20" y="278.61" width="9.00" height="2.01" fill="#6b4847"/>
<rect x="48.20" y="277.12" width="9.00" height="1.54" fill="#506968"/>
<rect x="48.20" y="275.42" width="9.00" height="1.75" fill="#806b52"/>
<rect x="48.20" y="274.03" width="9.00" height="1.44" fill="#5b4d52"/>
<rect x="48.20" y="272.49" width="9.00" height="1.59" fill="#516766"/>
<rect x="48.20" y="270.93" width="9.00" height="1.61" fill="#4e6c6b"/>
<rect x="48.20" y="269.04" width="9.00" height="1.93" fill="#566c5c"/>
<rect x="48.20" y="266.99" width="9.00" height="2.10" fill="#705d67"/>
<rect x="48.20" y="264.85" width="9.00" height="2.19" fill="#545964"/>
<rect x="48.20" y="263.30" width="9.00" height="1.60" fill="#66684d"/>
<rect x="48.20" y="261.71" width="9.00" height="1.64" fill="#515d75"/>
<rect x="48.20" y="260.63" width="9.00" height="1.13" fill="#77584c"/>
<rect x="48.20" y="258.45" width="9.00" height="2.23" fill="#5b4c52"/>
<rect x="48.20" y="256.92" width="9.00" height="1.58" fill="#8d6f57"/>
<rect x="48.20" y="255.83" width="9.00" height="1.14" fill="#4d6169"/>
<rect x="48.20" y="254.54" width="9.00" height="1.34" fill="#4e6068"/>
<rect x="48.20" y="252.68" width="9.00" height="1.91" fill="#5f5c57"/>
<rect x="48.20" y="251.57" width="9.00" height="1.16" fill="#66694c"/>
<rect x="48.20" y="249.75" width="9.00" height="1.87" fill="#83624d"/>
<rect x="48.20" y="248.02" width="9.00" height="1.77" fill="#5b6357"/>
<rect x="48.20" y="246.92" width="9.00" height="1.15" fill="#886c57"/>
<rect x="48.20" y="245.23" width="9.00" height="1.74" fill="#694a49"/>
<rect x="48.20" y="243.61" width="9.00" height="1.67" fill="#64584e"/>
<rect x="48.20" y="241.67" width="9.00" height="1.99" fill="#6b5456"/>
<rect x="48.20" y="239.68" width="9.00" height="2.04" fill="#866b57"/>
<rect x="48.20" y="238.22" width="9.00" height="1.51" fill="#605364"/>
<rect x="48.20" y="236.76" width="9.00" height="1.51" fill="#515d76"/>
<rect x="48.20" y="235.57" width="9.00" height="1.24" fill="#65674d"/>
<rect x="48.20" y="233.83" width="9.00" height="1.79" fill="#605366"/>
<rect x="48.20" y="232.71" width="9.00" height="1.16" fill="#5f5461"/>
<rect x="48.20" y="230.95" width="9.00" height="1.81" fill="#546261"/>
<rect x="48.20" y="229.19" width="9.00" height="1.81" fill="#674c4b"/>
<rect x="48.20" y="226.96" width="9.00" height="2.29" fill="#64584e"/>
<rect x="48.20" y="225.89" width="9.00" height="1.12" fill="#5b5153"/>
<rect x="48.20" y="224.33" width="9.00" height="1.60" fill="#5b4f52"/>
<rect x="48.20" y="223.23" width="9.00" height="1.15" fill="#706253"/>
<rect x="48.20" y="221.66" width="9.00" height="1.62" fill="#63634f"/>
<rect x="48.20" y="220.47" width="9.00" height="1.24" fill="#67685e"/>
<rect x="48.20" y="218.61" width="9.00" height="1.92" fill="#765e4f"/>
<rect x="48.20" y="217.29" width="9.00" height="1.37" fill="#556160"/>
<rect x="48.20" y="216.02" width="9.00" height="1.32" fill="#58575c"/>
<rect x="48.20" y="214.63" width="9.00" height="1.45" fill="#6d574f"/>
<rect x="48.20" y="212.64" width="9.00" height="2.04" fill="#6f6153"/>
<rect x="48.20" y="210.88" width="9.00" height="1.81" fill="#565a67"/>
<rect x="48.20" y="208.83" width="9.00" height="2.10" fill="#6e584f"/>
<rect x="48.20" y="207.24" width="9.00" height="1.64" fill="#705c50"/>
<rect x="48.20" y="205.24" width="9.00" height="2.06" fill="#5b5053"/>
<rect x="48.20" y="203.37" width="9.00" height="1.92" fill="#58575c"/>
<rect x="48.20" y="201.15" width="9.00" height="2.26" fill="#59575a"/>
<rect x="48.20" y="200.00" width="9.00" height="1.20" fill="#6d574f"/>
<rect x="48.20" y="253.10" width="9.00" height="2.60" fill="#c4504a"/>
<linearGradient id="bd0" x1="0" x2="0" y1="0" y2="1"><stop offset="0" stop-color="#383430" stop-opacity="0"/><stop offset="1" stop-color="#383430" stop-opacity="0.45"/></linearGradient>
<rect x="48.20" y="296.00" width="9.00" height="16.40" fill="url(#bd0)"/>
<linearGradient id="bf0" x1="0" x2="0" y1="0" y2="1"><stop offset="0" stop-color="#ece9ea" stop-opacity="0.97"/><stop offset="0.6" stop-color="#b2afb2" stop-opacity="0.8"/><stop offset="1" stop-color="#8c868c" stop-opacity="0"/></linearGradient>
<rect x="48.20" y="200.00" width="9.00" height="46.00" fill="url(#bf0)"/>
</g>
<g filter="url(#bl)">
<rect x="61.97" y="310.84" width="9.00" height="1.61" fill="#8a7151"/>
<rect x="61.97" y="309.07" width="9.00" height="1.82" fill="#68594a"/>
<rect x="61.97" y="307.50" width="9.00" height="1.62" fill="#545966"/>
<rect x="61.97" y="306.48" width="9.00" height="1.07" fill="#61526c"/>
<rect x="61.97" y="304.48" width="9.00" height="2.05" fill="#4c6084"/>
<rect x="61.97" y="303.33" width="9.00" height="1.20" fill="#897151"/>
<rect x="61.97" y="301.11" width="9.00" height="2.27" fill="#626058"/>
<rect x="61.97" y="299.17" width="9.00" height="1.99" fill="#4d6d6c"/>
<rect x="61.97" y="298.03" width="9.00" height="1.19" fill="#724242"/>
<rect x="61.97" y="296.30" width="9.00" height="1.78" fill="#745258"/>
<rect x="61.97" y="295.20" width="9.00" height="1.15" fill="#67584c"/>
<rect x="61.97" y="293.38" width="9.00" height="1.87" fill="#535967"/>
<rect x="61.97" y="291.71" width="9.00" height="1.72" fill="#96684a"/>
<rect x="61.97" y="289.45" width="9.00" height="2.31" fill="#61526c"/>
<rect x="61.97" y="287.24" width="9.00" height="2.26" fill="#4a646e"/>
<rect x="61.97" y="286.07" width="9.00" height="1.22" fill="#4c6084"/>
<rect x="61.97" y="284.87" width="9.00" height="1.25" fill="#6f7466"/>
<rect x="61.97" y="283.15" width="9.00" height="1.77" fill="#5b6558"/>
<rect x="61.97" y="281.08" width="9.00" height="2.12" fill="#826f57"/>
<rect x="61.97" y="279.69" width="9.00" height="1.45" fill="#735258"/>
<rect x="61.97" y="277.65" width="9.00" height="2.09" fill="#6e7264"/>
<rect x="61.97" y="275.46" width="9.00" height="2.23" fill="#6f7365"/>
<rect x="61.97" y="274.35" width="9.00" height="1.16" fill="#6f7466"/>
<rect x="61.97" y="272.83" width="9.00" height="1.57" fill="#666a4c"/>
<rect x="61.97" y="270.85" width="9.00" height="2.04" fill="#6e4545"/>
<rect x="61.97" y="269.29" width="9.00" height="1.61" fill="#615369"/>
<rect x="61.97" y="267.93" width="9.00" height="1.41" fill="#6c6f63"/>
<rect x="61.97" y="266.35" width="9.00" height="1.63" fill="#605366"/>
<rect x="61.97" y="265.37" width="9.00" height="1.03" fill="#4f5e7c"/>
<rect x="61.97" y="263.39" width="9.00" height="2.03" fill="#6c6f63"/>
<rect x="61.97" y="262.45" width="9.00" height="0.99" fill="#506968"/>
<rect x="61.97" y="260.70" width="9.00" height="1.81" fill="#6b6d62"/>
<rect x="61.97" y="259.52" width="9.00" height="1.23" fill="#5b6357"/>
<rect x="61.97" y="257.87" width="9.00" height="1.70" fill="#5b4d52"/>
<rect x="61.97" y="256.62" width="9.00" height="1.30" fill="#696b60"/>
<rect x="61.97" y="254.40" width="9.00" height="2.27" fill="#5b6157"/>
<rect x="61.97" y="252.25" width="9.00" height="2.20" fill="#525c72"/>
<rect x="61.97" y="251.16" width="9.00" height="1.14" fill="#605367"/>
<rect x="61.97" y="249.82" width="9.00" height="1.39" fill="#75584d"/>
<rect x="61.97" y="248.62" width="9.00" height="1.25" fill="#6d5c64"/>
<rect x="61.97" y="246.47" width="9.00" height="2.21" fill="#684b4a"/>
<rect x="61.97" y="244.67" width="9.00" height="1.85" fill="#555862"/>
<rect x="61.97" y="242.53" width="9.00" height="2.19" fill="#705357"/>
<rect x="61.97" y="240.30" width="9.00" height="2.28" fill="#5f5c56"/>
<rect x="61.97" y="239.17" width="9.00" height="1.18" fill="#75584d"/>
<rect x="61.97" y="237.66" width="9.00" height="1.55" fill="#696b60"/>
<rect x="61.97" y="236.17" width="9.00" height="1.54" fill="#565861"/>
<rect x="61.97" y="234.26" width="9.00" height="1.96" fill="#81614d"/>
<rect x="61.97" y="232.72" width="9.00" height="1.59" fill="#80614e"/>
<rect x="61.97" y="231.10" width="9.00" height="1.67" fill="#6c5c64"/>
<rect x="61.97" y="230.11" width="9.00" height="1.04" fill="#6d574f"/>
<rect x="61.97" y="229.06" width="9.00" height="1.10" fill="#5b6157"/>
<rect x="61.97" y="226.89" width="9.00" height="2.22" fill="#64654e"/>
<rect x="61.97" y="225.81" width="9.00" height="1.13" fill="#515f64"/>
<rect x="61.97" y="223.96" width="9.00" height="1.90" fill="#5b6057"/>
<rect x="61.97" y="222.31" width="9.00" height="1.70" fill="#67675e"/>
<rect x="61.97" y="220.43" width="9.00" height="1.93" fill="#536463"/>
<rect x="61.97" y="218.41" width="9.00" height="2.07" fill="#63634e"/>
<rect x="61.97" y="217.41" width="9.00" height="1.05" fill="#785f4f"/>
<rect x="61.97" y="215.39" width="9.00" height="2.07" fill="#546261"/>
<rect x="61.97" y="214.18" width="9.00" height="1.26" fill="#5b5d56"/>
<rect x="61.97" y="212.64" width="9.00" height="1.59" fill="#6c6053"/>
<rect x="61.97" y="211.16" width="9.00" height="1.53" fill="#5b5e56"/>
<rect x="61.97" y="210.20" width="9.00" height="1.01" fill="#695750"/>
<rect x="61.97" y="207.94" width="9.00" height="2.31" fill="#5b6056"/>
<rect x="61.97" y="206.76" width="9.00" height="1.23" fill="#685a5f"/>
<rect x="61.97" y="205.11" width="9.00" height="1.69" fill="#545b6c"/>
<rect x="61.97" y="203.51" width="9.00" height="1.65" fill="#63624f"/>
<rect x="61.97" y="201.49" width="9.00" height="2.08" fill="#5b5f56"/>
<rect x="61.97" y="200.56" width="9.00" height="0.98" fill="#65635c"/>
<rect x="61.97" y="200.00" width="9.00" height="0.61" fill="#5b5053"/>
<rect x="61.97" y="249.70" width="9.00" height="2.60" fill="#c4504a"/>
<linearGradient id="bd1" x1="0" x2="0" y1="0" y2="1"><stop offset="0" stop-color="#383430" stop-opacity="0"/><stop offset="1" stop-color="#383430" stop-opacity="0.45"/></linearGradient>
<rect x="61.97" y="296.00" width="9.00" height="16.40" fill="url(#bd1)"/>
<linearGradient id="bf1" x1="0" x2="0" y1="0" y2="1"><stop offset="0" stop-color="#ece9ea" stop-opacity="0.97"/><stop offset="0.6" stop-color="#b2afb2" stop-opacity="0.8"/><stop offset="1" stop-color="#8c868c" stop-opacity="0"/></linearGradient>
<rect x="61.97" y="200.00" width="9.00" height="44.00" fill="url(#bf1)"/>
</g>
<g filter="url(#bl)">
<rect x="75.74" y="301.97" width="9.00" height="1.58" fill="#466774"/>
<rect x="75.74" y="300.31" width="9.00" height="1.71" fill="#615f58"/>
<rect x="75.74" y="298.98" width="9.00" height="1.38" fill="#4e5f7e"/>
<rect x="75.74" y="297.60" width="9.00" height="1.43" fill="#704343"/>
<rect x="75.74" y="296.21" width="9.00" height="1.44" fill="#887258"/>
<rect x="75.74" y="295.29" width="9.00" height="0.97" fill="#5b6758"/>
<rect x="75.74" y="294.32" width="9.00" height="1.03" fill="#615f58"/>
<rect x="75.74" y="292.48" width="9.00" height="1.89" fill="#755f6c"/>
<rect x="75.74" y="290.61" width="9.00" height="1.92" fill="#8a7458"/>
<rect x="75.74" y="289.49" width="9.00" height="1.17" fill="#795159"/>
<rect x="75.74" y="288.08" width="9.00" height="1.46" fill="#7e6a52"/>
<rect x="75.74" y="286.41" width="9.00" height="1.72" fill="#7f594a"/>
<rect x="75.74" y="284.27" width="9.00" height="2.19" fill="#4d5f81"/>
<rect x="75.74" y="283.37" width="9.00" height="0.95" fill="#626058"/>
<rect x="75.74" y="282.08" width="9.00" height="1.34" fill="#4d6081"/>
<rect x="75.74" y="280.10" width="9.00" height="2.04" fill="#4d6d6c"/>
<rect x="75.74" y="279.07" width="9.00" height="1.08" fill="#615f58"/>
<rect x="75.74" y="277.62" width="9.00" height="1.50" fill="#755f6c"/>
<rect x="75.74" y="276.39" width="9.00" height="1.28" fill="#556e5d"/>
<rect x="75.74" y="274.30" width="9.00" height="2.14" fill="#6c4746"/>
<rect x="75.74" y="272.40" width="9.00" height="1.95" fill="#67584b"/>
<rect x="75.74" y="271.04" width="9.00" height="1.41" fill="#5b4b51"/>
<rect x="75.74" y="269.13" width="9.00" height="1.96" fill="#6f4544"/>
<rect x="75.74" y="267.06" width="9.00" height="2.12" fill="#6c6f63"/>
<rect x="75.74" y="265.13" width="9.00" height="1.98" fill="#6e7265"/>
<rect x="75.74" y="263.50" width="9.00" height="1.68" fill="#6c6f63"/>
<rect x="75.74" y="261.46" width="9.00" height="2.09" fill="#84624d"/>
<rect x="75.74" y="259.74" width="9.00" height="1.77" fill="#7a584b"/>
<rect x="75.74" y="258.78" width="9.00" height="1.01" fill="#565860"/>
<rect x="75.74" y="257.35" width="9.00" height="1.48" fill="#705357"/>
<rect x="75.74" y="255.58" width="9.00" height="1.83" fill="#896c57"/>
<rect x="75.74" y="253.99" width="9.00" height="1.64" fill="#86634c"/>
<rect x="75.74" y="252.99" width="9.00" height="1.05" fill="#696b60"/>
<rect x="75.74" y="251.96" width="9.00" height="1.08" fill="#6d7063"/>
<rect x="75.74" y="250.03" width="9.00" height="1.98" fill="#5b6157"/>
<rect x="75.74" y="247.95" width="9.00" height="2.13" fill="#73584d"/>
<rect x="75.74" y="246.76" width="9.00" height="1.24" fill="#6f5357"/>
<rect x="75.74" y="245.32" width="9.00" height="1.49" fill="#5b4f52"/>
<rect x="75.74" y="244.02" width="9.00" height="1.35" fill="#7c6b57"/>
<rect x="75.74" y="242.22" width="9.00" height="1.85" fill="#526665"/>
<rect x="75.74" y="240.86" width="9.00" height="1.41" fill="#6e5c65"/>
<rect x="75.74" y="239.77" width="9.00" height="1.14" fill="#5b4d52"/>
<rect x="75.74" y="238.49" width="9.00" height="1.33" fill="#605364"/>
<rect x="75.74" y="236.65" width="9.00" height="1.90" fill="#6c5c64"/>
<rect x="75.74" y="235.35" width="9.00" height="1.35" fill="#6e5357"/>
<rect x="75.74" y="234.28" width="9.00" height="1.12" fill="#886c57"/>
<rect x="75.74" y="232.01" width="9.00" height="2.32" fill="#5b4e52"/>
<rect x="75.74" y="230.47" width="9.00" height="1.59" fill="#66665e"/>
<rect x="75.74" y="228.94" width="9.00" height="1.58" fill="#5b6157"/>
<rect x="75.74" y="226.76" width="9.00" height="2.23" fill="#515d75"/>
<rect x="75.74" y="225.73" width="9.00" height="1.08" fill="#696a60"/>
<rect x="75.74" y="224.33" width="9.00" height="1.45" fill="#63574f"/>
<rect x="75.74" y="222.72" width="9.00" height="1.66" fill="#5f5462"/>
<rect x="75.74" y="221.49" width="9.00" height="1.27" fill="#5b4f52"/>
<rect x="75.74" y="220.37" width="9.00" height="1.17" fill="#5b5053"/>
<rect x="75.74" y="218.90" width="9.00" height="1.52" fill="#674b4a"/>
<rect x="75.74" y="217.48" width="9.00" height="1.48" fill="#5f5460"/>
<rect x="75.74" y="216.57" width="9.00" height="0.95" fill="#6f6153"/>
<rect x="75.74" y="215.51" width="9.00" height="1.12" fill="#545b6b"/>
<rect x="75.74" y="213.34" width="9.00" height="2.21" fill="#6c5c63"/>
<rect x="75.74" y="212.35" width="9.00" height="1.04" fill="#5e5a56"/>
<rect x="75.74" y="210.63" width="9.00" height="1.77" fill="#58575c"/>
<rect x="75.74" y="208.67" width="9.00" height="2.01" fill="#776756"/>
<rect x="75.74" y="207.70" width="9.00" height="1.02" fill="#695b60"/>
<rect x="75.74" y="206.59" width="9.00" height="1.16" fill="#5b5f56"/>
<rect x="75.74" y="205.25" width="9.00" height="1.39" fill="#58575c"/>
<rect x="75.74" y="203.75" width="9.00" height="1.55" fill="#725d50"/>
<rect x="75.74" y="201.96" width="9.00" height="1.83" fill="#786456"/>
<rect x="75.74" y="200.06" width="9.00" height="1.96" fill="#6d6156"/>
<rect x="75.74" y="200.00" width="9.00" height="0.11" fill="#615750"/>
<rect x="75.74" y="245.40" width="9.00" height="2.60" fill="#c4504a"/>
<rect x="75.74" y="303.50" width="9.00" height="8.00" fill="#64703e"/>
<linearGradient id="bd2" x1="0" x2="0" y1="0" y2="1"><stop offset="0" stop-color="#383430" stop-opacity="0"/><stop offset="1" stop-color="#383430" stop-opacity="0.45"/></linearGradient>
<rect x="75.74" y="296.00" width="9.00" height="16.40" fill="url(#bd2)"/>
<linearGradient id="bf2" x1="0" x2="0" y1="0" y2="1"><stop offset="0" stop-color="#eae7e8" stop-opacity="0.97"/><stop offset="0.6" stop-color="#b2aeb1" stop-opacity="0.8"/><stop offset="1" stop-color="#8c868c" stop-opacity="0"/></linearGradient>
<rect x="75.74" y="200.00" width="9.00" height="40.00" fill="url(#bf2)"/>
</g>
<g filter="url(#bl)">
<rect x="89.51" y="297.20" width="9.00" height="1.85" fill="#77606e"/>
<rect x="89.51" y="295.02" width="9.00" height="2.23" fill="#9f7859"/>
<rect x="89.51" y="293.46" width="9.00" height="1.61" fill="#876f51"/>
<rect x="89.51" y="292.20" width="9.00" height="1.31" fill="#5b6758"/>
<rect x="89.51" y="290.97" width="9.00" height="1.28" fill="#5b4b51"/>
<rect x="89.51" y="289.52" width="9.00" height="1.50" fill="#686c4b"/>
<rect x="89.51" y="288.51" width="9.00" height="1.06" fill="#6d7164"/>
<rect x="89.51" y="286.91" width="9.00" height="1.65" fill="#7d594a"/>
<rect x="89.51" y="285.55" width="9.00" height="1.42" fill="#765258"/>
<rect x="89.51" y="283.88" width="9.00" height="1.72" fill="#7f594a"/>
<rect x="89.51" y="282.50" width="9.00" height="1.43" fill="#4d6d6d"/>
<rect x="89.51" y="281.09" width="9.00" height="1.47" fill="#54755f"/>
<rect x="89.51" y="280.16" width="9.00" height="0.98" fill="#476673"/>
<rect x="89.51" y="278.22" width="9.00" height="1.99" fill="#4d5f80"/>
<rect x="89.51" y="276.84" width="9.00" height="1.42" fill="#877258"/>
<rect x="89.51" y="275.14" width="9.00" height="1.75" fill="#545966"/>
<rect x="89.51" y="273.53" width="9.00" height="1.65" fill="#4d6081"/>
<rect x="89.51" y="271.38" width="9.00" height="2.21" fill="#615f58"/>
<rect x="89.51" y="269.85" width="9.00" height="1.57" fill="#715e68"/>
<rect x="89.51" y="267.73" width="9.00" height="2.17" fill="#8f664b"/>
<rect x="89.51" y="266.24" width="9.00" height="1.55" fill="#5b4e52"/>
<rect x="89.51" y="264.65" width="9.00" height="1.64" fill="#4f6b6a"/>
<rect x="89.51" y="262.45" width="9.00" height="2.25" fill="#6b6d62"/>
<rect x="89.51" y="260.19" width="9.00" height="2.31" fill="#75584d"/>
<rect x="89.51" y="258.98" width="9.00" height="1.26" fill="#6c4747"/>
<rect x="89.51" y="257.12" width="9.00" height="1.90" fill="#745258"/>
<rect x="89.51" y="255.14" width="9.00" height="2.04" fill="#83624d"/>
<rect x="89.51" y="253.91" width="9.00" height="1.28" fill="#7f6d57"/>
<rect x="89.51" y="252.58" width="9.00" height="1.38" fill="#6b4948"/>
<rect x="89.51" y="250.95" width="9.00" height="1.69" fill="#4c626b"/>
<rect x="89.51" y="249.89" width="9.00" height="1.11" fill="#506968"/>
<rect x="89.51" y="247.67" width="9.00" height="2.27" fill="#505e77"/>
<rect x="89.51" y="246.45" width="9.00" height="1.26" fill="#67584c"/>
<rect x="89.51" y="244.80" width="9.00" height="1.70" fill="#715357"/>
<rect x="89.51" y="243.46" width="9.00" height="1.39" fill="#74584d"/>
<rect x="89.51" y="242.23" width="9.00" height="1.28" fill="#78584c"/>
<rect x="89.51" y="240.75" width="9.00" height="1.53" fill="#715e68"/>
<rect x="89.51" y="239.58" width="9.00" height="1.22" fill="#4a636e"/>
<rect x="89.51" y="238.36" width="9.00" height="1.27" fill="#4f6067"/>
<rect x="89.51" y="237.15" width="9.00" height="1.27" fill="#7a6a57"/>
<rect x="89.51" y="235.24" width="9.00" height="1.96" fill="#57585f"/>
<rect x="89.51" y="234.06" width="9.00" height="1.23" fill="#6c5c63"/>
<rect x="89.51" y="232.46" width="9.00" height="1.66" fill="#525c72"/>
<rect x="89.51" y="231.27" width="9.00" height="1.23" fill="#515d75"/>
<rect x="89.51" y="230.06" width="9.00" height="1.26" fill="#705d66"/>
<rect x="89.51" y="228.29" width="9.00" height="1.82" fill="#65584d"/>
<rect x="89.51" y="227.08" width="9.00" height="1.26" fill="#505f65"/>
<rect x="89.51" y="226.10" width="9.00" height="1.03" fill="#65584d"/>
<rect x="89.51" y="224.65" width="9.00" height="1.50" fill="#515d75"/>
<rect x="89.51" y="222.91" width="9.00" height="1.78" fill="#4c626b"/>
<rect x="89.51" y="221.93" width="9.00" height="1.03" fill="#5f5c57"/>
<rect x="89.51" y="220.03" width="9.00" height="1.95" fill="#726353"/>
<rect x="89.51" y="217.74" width="9.00" height="2.35" fill="#64654e"/>
<rect x="89.51" y="216.58" width="9.00" height="1.21" fill="#66665d"/>
<rect x="89.51" y="215.63" width="9.00" height="0.99" fill="#5f5b56"/>
<rect x="89.51" y="213.35" width="9.00" height="2.33" fill="#6d5357"/>
<rect x="89.51" y="212.45" width="9.00" height="0.95" fill="#5b6157"/>
<rect x="89.51" y="210.96" width="9.00" height="1.54" fill="#5f5461"/>
<rect x="89.51" y="209.00" width="9.00" height="2.01" fill="#5f5b56"/>
<rect x="89.51" y="206.95" width="9.00" height="2.10" fill="#4e6068"/>
<rect x="89.51" y="205.06" width="9.00" height="1.94" fill="#545b6d"/>
<rect x="89.51" y="202.87" width="9.00" height="2.24" fill="#545b6d"/>
<rect x="89.51" y="200.94" width="9.00" height="1.98" fill="#5b4f52"/>
<rect x="89.51" y="200.00" width="9.00" height="0.99" fill="#5f5c56"/>
<rect x="89.51" y="239.60" width="9.00" height="2.60" fill="#a86050"/>
<rect x="89.51" y="299.00" width="9.00" height="10.00" fill="#5c8030"/>
<rect x="89.51" y="309.00" width="9.00" height="3.40" fill="#28568c"/>
<linearGradient id="bf3" x1="0" x2="0" y1="0" y2="1"><stop offset="0" stop-color="#e8e5e6" stop-opacity="0.97"/><stop offset="0.6" stop-color="#b1adb0" stop-opacity="0.8"/><stop offset="1" stop-color="#8c868c" stop-opacity="0"/></linearGradient>
<rect x="89.51" y="200.00" width="9.00" height="34.00" fill="url(#bf3)"/>
</g>
<g filter="url(#bl)">
<rect x="103.28" y="293.05" width="9.00" height="1.00" fill="#4d6c6c"/>
<rect x="103.28" y="292.06" width="9.00" height="1.04" fill="#4d5f80"/>
<rect x="103.28" y="289.91" width="9.00" height="2.21" fill="#866e51"/>
<rect x="103.28" y="288.54" width="9.00" height="1.42" fill="#6a5949"/>
<rect x="103.28" y="286.59" width="9.00" height="2.00" fill="#806b52"/>
<rect x="103.28" y="285.28" width="9.00" height="1.37" fill="#67584b"/>
<rect x="103.28" y="283.49" width="9.00" height="1.84" fill="#4c6f6f"/>
<rect x="103.28" y="282.26" width="9.00" height="1.28" fill="#5b4c51"/>
<rect x="103.28" y="280.71" width="9.00" height="1.60" fill="#615f58"/>
<rect x="103.28" y="278.53" width="9.00" height="2.23" fill="#5b4b51"/>
<rect x="103.28" y="276.93" width="9.00" height="1.65" fill="#8b644c"/>
<rect x="103.28" y="275.00" width="9.00" height="1.98" fill="#6d4645"/>
<rect x="103.28" y="273.64" width="9.00" height="1.41" fill="#816c51"/>
<rect x="103.28" y="271.64" width="9.00" height="2.05" fill="#68594a"/>
<rect x="103.28" y="270.47" width="9.00" height="1.23" fill="#686c4b"/>
<rect x="103.28" y="269.48" width="9.00" height="1.04" fill="#867158"/>
<rect x="103.28" y="267.82" width="9.00" height="1.71" fill="#66684d"/>
<rect x="103.28" y="265.68" width="9.00" height="2.19" fill="#4e6c6b"/>
<rect x="103.28" y="264.66" width="9.00" height="1.07" fill="#61526a"/>
<rect x="103.28" y="262.38" width="9.00" height="2.33" fill="#745258"/>
<rect x="103.28" y="261.29" width="9.00" height="1.14" fill="#715357"/>
<rect x="103.28" y="259.45" width="9.00" height="1.89" fill="#8a6d57"/>
<rect x="103.28" y="257.62" width="9.00" height="1.88" fill="#605367"/>
<rect x="103.28" y="256.31" width="9.00" height="1.36" fill="#5b6357"/>
<rect x="103.28" y="254.88" width="9.00" height="1.47" fill="#5b6558"/>
<rect x="103.28" y="253.64" width="9.00" height="1.30" fill="#79584c"/>
<rect x="103.28" y="252.34" width="9.00" height="1.34" fill="#55705e"/>
<rect x="103.28" y="251.35" width="9.00" height="1.04" fill="#5b6157"/>
<rect x="103.28" y="249.74" width="9.00" height="1.66" fill="#75584d"/>
<rect x="103.28" y="248.70" width="9.00" height="1.09" fill="#6d5357"/>
<rect x="103.28" y="247.66" width="9.00" height="1.09" fill="#5b4e52"/>
<rect x="103.28" y="246.43" width="9.00" height="1.27" fill="#6d5357"/>
<rect x="103.28" y="245.48" width="9.00" height="1.01" fill="#715e68"/>
<rect x="103.28" y="244.51" width="9.00" height="1.02" fill="#64584e"/>
<rect x="103.28" y="242.79" width="9.00" height="1.77" fill="#506867"/>
<rect x="103.28" y="240.68" width="9.00" height="2.16" fill="#6f5357"/>
<rect x="103.28" y="238.69" width="9.00" height="2.03" fill="#88634c"/>
<rect x="103.28" y="236.96" width="9.00" height="1.78" fill="#65584d"/>
<rect x="103.28" y="236.01" width="9.00" height="1.00" fill="#7b6852"/>
<rect x="103.28" y="234.82" width="9.00" height="1.24" fill="#5b6357"/>
<rect x="103.28" y="232.90" width="9.00" height="1.98" fill="#535c70"/>
<rect x="103.28" y="230.85" width="9.00" height="2.10" fill="#4e6068"/>
<rect x="103.28" y="229.69" width="9.00" height="1.21" fill="#705d67"/>
<rect x="103.28" y="228.75" width="9.00" height="0.99" fill="#5b4f52"/>
<rect x="103.28" y="227.76" width="9.00" height="1.04" fill="#5f5463"/>
<rect x="103.28" y="225.93" width="9.00" height="1.88" fill="#684b4a"/>
<rect x="103.28" y="224.90" width="9.00" height="1.08" fill="#64664e"/>
<rect x="103.28" y="223.62" width="9.00" height="1.33" fill="#6c5c63"/>
<rect x="103.28" y="222.14" width="9.00" height="1.53" fill="#7b6a57"/>
<rect x="103.28" y="220.44" width="9.00" height="1.74" fill="#57585f"/>
<rect x="103.28" y="219.52" width="9.00" height="0.98" fill="#57585e"/>
<rect x="103.28" y="218.07" width="9.00" height="1.50" fill="#605c57"/>
<rect x="103.28" y="217.16" width="9.00" height="0.96" fill="#64644e"/>
<rect x="103.28" y="215.11" width="9.00" height="2.10" fill="#5f5b56"/>
<rect x="103.28" y="213.70" width="9.00" height="1.46" fill="#64664e"/>
<rect x="103.28" y="212.73" width="9.00" height="1.02" fill="#664c4b"/>
<rect x="103.28" y="210.56" width="9.00" height="2.22" fill="#546361"/>
<rect x="103.28" y="208.36" width="9.00" height="2.25" fill="#68695f"/>
<rect x="103.28" y="206.97" width="9.00" height="1.44" fill="#63634f"/>
<rect x="103.28" y="204.78" width="9.00" height="2.25" fill="#5f5462"/>
<rect x="103.28" y="202.82" width="9.00" height="2.00" fill="#535b6e"/>
<rect x="103.28" y="200.75" width="9.00" height="2.12" fill="#6e6256"/>
<rect x="103.28" y="200.00" width="9.00" height="0.80" fill="#726456"/>
<rect x="103.28" y="294.00" width="9.00" height="11.50" fill="#5c8030"/>
<rect x="103.28" y="305.50" width="9.00" height="1.00" fill="#4a4038"/>
<rect x="103.28" y="306.50" width="9.00" height="5.90" fill="#28568c"/>
<linearGradient id="bf4" x1="0" x2="0" y1="0" y2="1"><stop offset="0" stop-color="#e6e3e4" stop-opacity="0.97"/><stop offset="0.6" stop-color="#b0acaf" stop-opacity="0.8"/><stop offset="1" stop-color="#8c868c" stop-opacity="0"/></linearGradient>
<rect x="103.28" y="200.00" width="9.00" height="30.00" fill="url(#bf4)"/>
</g>
<g filter="url(#bl)">
<rect x="117.05" y="285.51" width="9.00" height="1.84" fill="#4e6b6b"/>
<rect x="117.05" y="283.74" width="9.00" height="1.82" fill="#686c4b"/>
<rect x="117.05" y="281.64" width="9.00" height="2.15" fill="#68594a"/>
<rect x="117.05" y="279.56" width="9.00" height="2.13" fill="#5b4b51"/>
<rect x="117.05" y="278.35" width="9.00" height="1.26" fill="#615e58"/>
<rect x="117.05" y="277.23" width="9.00" height="1.17" fill="#535967"/>
<rect x="117.05" y="275.99" width="9.00" height="1.30" fill="#4c6084"/>
<rect x="117.05" y="274.30" width="9.00" height="1.74" fill="#867158"/>
<rect x="117.05" y="272.94" width="9.00" height="1.40" fill="#615f58"/>
<rect x="117.05" y="271.27" width="9.00" height="1.72" fill="#735f6a"/>
<rect x="117.05" y="269.94" width="9.00" height="1.38" fill="#7b594b"/>
<rect x="117.05" y="268.12" width="9.00" height="1.87" fill="#745258"/>
<rect x="117.05" y="266.97" width="9.00" height="1.20" fill="#8b644c"/>
<rect x="117.05" y="265.39" width="9.00" height="1.64" fill="#7a584b"/>
<rect x="117.05" y="263.62" width="9.00" height="1.82" fill="#715357"/>
<rect x="117.05" y="261.58" width="9.00" height="2.08" fill="#615f58"/>
<rect x="117.05" y="260.50" width="9.00" height="1.13" fill="#486570"/>
<rect x="117.05" y="258.48" width="9.00" height="2.07" fill="#6c7063"/>
<rect x="117.05" y="257.52" width="9.00" height="1.01" fill="#6e4544"/>
<rect x="117.05" y="255.60" width="9.00" height="1.98" fill="#6e7265"/>
<rect x="117.05" y="253.64" width="9.00" height="2.00" fill="#605e57"/>
<rect x="117.05" y="251.65" width="9.00" height="2.05" fill="#83624d"/>
<rect x="117.05" y="249.35" width="9.00" height="2.34" fill="#61526a"/>
<rect x="117.05" y="247.08" width="9.00" height="2.32" fill="#5b4d52"/>
<rect x="117.05" y="245.04" width="9.00" height="2.09" fill="#65674d"/>
<rect x="117.05" y="243.13" width="9.00" height="1.96" fill="#79584c"/>
<rect x="117.05" y="241.74" width="9.00" height="1.44" fill="#5b6457"/>
<rect x="117.05" y="239.59" width="9.00" height="2.21" fill="#5b6157"/>
<rect x="117.05" y="238.05" width="9.00" height="1.59" fill="#5b6257"/>
<rect x="117.05" y="235.86" width="9.00" height="2.24" fill="#515d74"/>
<rect x="117.05" y="234.10" width="9.00" height="1.81" fill="#75584d"/>
<rect x="117.05" y="233.15" width="9.00" height="1.00" fill="#65674d"/>
<rect x="117.05" y="231.35" width="9.00" height="1.84" fill="#5b6157"/>
<rect x="117.05" y="229.20" width="9.00" height="2.20" fill="#64644e"/>
<rect x="117.05" y="227.93" width="9.00" height="1.32" fill="#6b6e62"/>
<rect x="117.05" y="225.83" width="9.00" height="2.15" fill="#6d5357"/>
<rect x="117.05" y="224.12" width="9.00" height="1.76" fill="#605366"/>
<rect x="117.05" y="222.47" width="9.00" height="1.70" fill="#5f5c56"/>
<rect x="117.05" y="221.05" width="9.00" height="1.47" fill="#5f5b56"/>
<rect x="117.05" y="219.34" width="9.00" height="1.76" fill="#575860"/>
<rect x="117.05" y="218.33" width="9.00" height="1.06" fill="#73584d"/>
<rect x="117.05" y="216.38" width="9.00" height="1.99" fill="#7b6a57"/>
<rect x="117.05" y="214.76" width="9.00" height="1.67" fill="#6b5b62"/>
<rect x="117.05" y="212.48" width="9.00" height="2.33" fill="#586559"/>
<rect x="117.05" y="210.33" width="9.00" height="2.20" fill="#785f4f"/>
<rect x="117.05" y="209.12" width="9.00" height="1.26" fill="#6a5b61"/>
<rect x="117.05" y="207.61" width="9.00" height="1.56" fill="#67685f"/>
<rect x="117.05" y="206.65" width="9.00" height="1.02" fill="#5b4f52"/>
<rect x="117.05" y="204.83" width="9.00" height="1.86" fill="#7f614e"/>
<rect x="117.05" y="203.14" width="9.00" height="1.74" fill="#6c5c64"/>
<rect x="117.05" y="201.74" width="9.00" height="1.45" fill="#6e584f"/>
<rect x="117.05" y="200.42" width="9.00" height="1.37" fill="#674b4a"/>
<rect x="117.05" y="200.00" width="9.00" height="0.47" fill="#5b4f52"/>
<rect x="117.05" y="287.30" width="9.00" height="13.20" fill="#5c8030"/>
<rect x="117.05" y="300.50" width="9.00" height="1.50" fill="#4a4038"/>
<rect x="117.05" y="302.00" width="9.00" height="10.40" fill="#28568c"/>
<linearGradient id="bf5" x1="0" x2="0" y1="0" y2="1"><stop offset="0" stop-color="#e2dfe0" stop-opacity="0.97"/><stop offset="0.6" stop-color="#aeabae" stop-opacity="0.8"/><stop offset="1" stop-color="#8c868c" stop-opacity="0"/></linearGradient>
<rect x="117.05" y="200.00" width="9.00" height="26.00" fill="url(#bf5)"/>
</g>
<g filter="url(#bl)">
<rect x="130.82" y="278.08" width="9.00" height="0.97" fill="#7b594b"/>
<rect x="130.82" y="276.55" width="9.00" height="1.58" fill="#4e6c6b"/>
<rect x="130.82" y="274.43" width="9.00" height="2.17" fill="#5b6658"/>
<rect x="130.82" y="273.16" width="9.00" height="1.32" fill="#94674a"/>
<rect x="130.82" y="271.11" width="9.00" height="2.10" fill="#545964"/>
<rect x="130.82" y="269.40" width="9.00" height="1.76" fill="#66584c"/>
<rect x="130.82" y="267.47" width="9.00" height="1.98" fill="#7d594a"/>
<rect x="130.82" y="266.57" width="9.00" height="0.95" fill="#867158"/>
<rect x="130.82" y="265.10" width="9.00" height="1.52" fill="#7c594b"/>
<rect x="130.82" y="262.93" width="9.00" height="2.23" fill="#62526d"/>
<rect x="130.82" y="261.26" width="9.00" height="1.72" fill="#4d5f80"/>
<rect x="130.82" y="260.08" width="9.00" height="1.23" fill="#66584c"/>
<rect x="130.82" y="258.27" width="9.00" height="1.86" fill="#4b636d"/>
<rect x="130.82" y="257.13" width="9.00" height="1.19" fill="#755f6c"/>
<rect x="130.82" y="255.35" width="9.00" height="1.83" fill="#5b4d52"/>
<rect x="130.82" y="254.44" width="9.00" height="0.96" fill="#4b636d"/>
<rect x="130.82" y="252.89" width="9.00" height="1.60" fill="#745258"/>
<rect x="130.82" y="250.59" width="9.00" height="2.35" fill="#5b6558"/>
<rect x="130.82" y="249.64" width="9.00" height="1.00" fill="#796752"/>
<rect x="130.82" y="247.44" width="9.00" height="2.25" fill="#5b6257"/>
<rect x="130.82" y="246.17" width="9.00" height="1.32" fill="#8a6d57"/>
<rect x="130.82" y="244.31" width="9.00" height="1.91" fill="#696a60"/>
<rect x="130.82" y="243.00" width="9.00" height="1.36" fill="#4f5e7c"/>
<rect x="130.82" y="241.39" width="9.00" height="1.66" fill="#66694c"/>
<rect x="130.82" y="240.16" width="9.00" height="1.28" fill="#525c72"/>
<rect x="130.82" y="238.21" width="9.00" height="1.99" fill="#7d6952"/>
<rect x="130.82" y="236.77" width="9.00" height="1.49" fill="#66584c"/>
<rect x="130.82" y="234.60" width="9.00" height="2.22" fill="#896c57"/>
<rect x="130.82" y="232.52" width="9.00" height="2.13" fill="#7e604e"/>
<rect x="130.82" y="231.01" width="9.00" height="1.56" fill="#73584d"/>
<rect x="130.82" y="229.68" width="9.00" height="1.38" fill="#515d75"/>
<rect x="130.82" y="227.96" width="9.00" height="1.77" fill="#57685b"/>
<rect x="130.82" y="226.86" width="9.00" height="1.15" fill="#86634d"/>
<rect x="130.82" y="225.09" width="9.00" height="1.82" fill="#65674d"/>
<rect x="130.82" y="223.99" width="9.00" height="1.15" fill="#86634d"/>
<rect x="130.82" y="222.89" width="9.00" height="1.14" fill="#796957"/>
<rect x="130.82" y="220.96" width="9.00" height="1.98" fill="#536362"/>
<rect x="130.82" y="219.00" width="9.00" height="2.02" fill="#535b6e"/>
<rect x="130.82" y="216.95" width="9.00" height="2.10" fill="#546361"/>
<rect x="130.82" y="214.99" width="9.00" height="2.01" fill="#605d57"/>
<rect x="130.82" y="213.80" width="9.00" height="1.24" fill="#605366"/>
<rect x="130.82" y="211.57" width="9.00" height="2.28" fill="#546261"/>
<rect x="130.82" y="209.79" width="9.00" height="1.83" fill="#6c5c63"/>
<rect x="130.82" y="208.70" width="9.00" height="1.14" fill="#525c71"/>
<rect x="130.82" y="207.33" width="9.00" height="1.42" fill="#5b6157"/>
<rect x="130.82" y="206.07" width="9.00" height="1.31" fill="#6e5c65"/>
<rect x="130.82" y="204.11" width="9.00" height="2.01" fill="#706253"/>
<rect x="130.82" y="202.37" width="9.00" height="1.79" fill="#5b5153"/>
<rect x="130.82" y="200.60" width="9.00" height="1.82" fill="#755e4f"/>
<rect x="130.82" y="200.00" width="9.00" height="0.65" fill="#65645c"/>
<rect x="130.82" y="279.00" width="9.00" height="18.00" fill="#5c8030"/>
<rect x="130.82" y="297.00" width="9.00" height="2.00" fill="#4a4038"/>
<rect x="130.82" y="299.00" width="9.00" height="13.40" fill="#28568c"/>
<linearGradient id="bf6" x1="0" x2="0" y1="0" y2="1"><stop offset="0" stop-color="#dedbdc" stop-opacity="0.97"/><stop offset="0.6" stop-color="#ada9ac" stop-opacity="0.8"/><stop offset="1" stop-color="#8c868c" stop-opacity="0"/></linearGradient>
<rect x="130.82" y="200.00" width="9.00" height="24.00" fill="url(#bf6)"/>
</g>
<g filter="url(#bl)">
<rect x="144.59" y="274.61" width="9.00" height="1.44" fill="#897358"/>
<rect x="144.59" y="273.41" width="9.00" height="1.25" fill="#4e6c6c"/>
<rect x="144.59" y="272.11" width="9.00" height="1.35" fill="#446876"/>
<rect x="144.59" y="270.93" width="9.00" height="1.23" fill="#8e7658"/>
<rect x="144.59" y="269.34" width="9.00" height="1.64" fill="#5b4c52"/>
<rect x="144.59" y="267.28" width="9.00" height="2.11" fill="#5b4c51"/>
<rect x="144.59" y="265.04" width="9.00" height="2.29" fill="#6f7465"/>
<rect x="144.59" y="262.82" width="9.00" height="2.27" fill="#725e69"/>
<rect x="144.59" y="260.61" width="9.00" height="2.26" fill="#7a584b"/>
<rect x="144.59" y="259.55" width="9.00" height="1.10" fill="#4f6b6a"/>
<rect x="144.59" y="257.27" width="9.00" height="2.34" fill="#8d6e57"/>
<rect x="144.59" y="255.49" width="9.00" height="1.83" fill="#545965"/>
<rect x="144.59" y="253.29" width="9.00" height="2.25" fill="#4f6a6a"/>
<rect x="144.59" y="251.48" width="9.00" height="1.85" fill="#545964"/>
<rect x="144.59" y="250.22" width="9.00" height="1.32" fill="#8f6f57"/>
<rect x="144.59" y="248.78" width="9.00" height="1.48" fill="#74584d"/>
<rect x="144.59" y="247.71" width="9.00" height="1.13" fill="#65584d"/>
<rect x="144.59" y="245.75" width="9.00" height="2.00" fill="#847057"/>
<rect x="144.59" y="244.40" width="9.00" height="1.41" fill="#6a4948"/>
<rect x="144.59" y="242.87" width="9.00" height="1.58" fill="#896c57"/>
<rect x="144.59" y="241.73" width="9.00" height="1.19" fill="#6f5357"/>
<rect x="144.59" y="240.47" width="9.00" height="1.31" fill="#79584c"/>
<rect x="144.59" y="238.92" width="9.00" height="1.60" fill="#75584d"/>
<rect x="144.59" y="237.65" width="9.00" height="1.32" fill="#66584c"/>
<rect x="144.59" y="236.53" width="9.00" height="1.17" fill="#73584d"/>
<rect x="144.59" y="234.78" width="9.00" height="1.79" fill="#555863"/>
<rect x="144.59" y="233.42" width="9.00" height="1.41" fill="#505e78"/>
<rect x="144.59" y="231.19" width="9.00" height="2.29" fill="#605368"/>
<rect x="144.59" y="229.37" width="9.00" height="1.87" fill="#515d76"/>
<rect x="144.59" y="227.09" width="9.00" height="2.33" fill="#6d5c64"/>
<rect x="144.59" y="225.58" width="9.00" height="1.56" fill="#505e78"/>
<rect x="144.59" y="223.40" width="9.00" height="2.23" fill="#5b6257"/>
<rect x="144.59" y="221.96" width="9.00" height="1.49" fill="#816e57"/>
<rect x="144.59" y="219.86" width="9.00" height="2.15" fill="#4e6068"/>
<rect x="144.59" y="218.26" width="9.00" height="1.65" fill="#6d5c64"/>
<rect x="144.59" y="217.17" width="9.00" height="1.15" fill="#63584e"/>
<rect x="144.59" y="216.26" width="9.00" height="0.96" fill="#6e584f"/>
<rect x="144.59" y="214.76" width="9.00" height="1.55" fill="#57695b"/>
<rect x="144.59" y="212.95" width="9.00" height="1.86" fill="#6f584e"/>
<rect x="144.59" y="211.14" width="9.00" height="1.86" fill="#58665a"/>
<rect x="144.59" y="209.28" width="9.00" height="1.90" fill="#5f5363"/>
<rect x="144.59" y="207.95" width="9.00" height="1.39" fill="#5f5460"/>
<rect x="144.59" y="206.71" width="9.00" height="1.29" fill="#5f5b56"/>
<rect x="144.59" y="204.93" width="9.00" height="1.83" fill="#5b5e56"/>
<rect x="144.59" y="203.35" width="9.00" height="1.63" fill="#795f4f"/>
<rect x="144.59" y="201.88" width="9.00" height="1.52" fill="#62614f"/>
<rect x="144.59" y="200.52" width="9.00" height="1.41" fill="#7b604e"/>
<rect x="144.59" y="200.00" width="9.00" height="0.57" fill="#605364"/>
<rect x="144.59" y="276.00" width="9.00" height="17.30" fill="#5c8030"/>
<rect x="144.59" y="293.30" width="9.00" height="4.10" fill="#962424"/>
<rect x="144.59" y="297.40" width="9.00" height="15.00" fill="#28568c"/>
<linearGradient id="bf7" x1="0" x2="0" y1="0" y2="1"><stop offset="0" stop-color="#d6d3d4" stop-opacity="0.97"/><stop offset="0.6" stop-color="#aaa6a9" stop-opacity="0.8"/><stop offset="1" stop-color="#8c868c" stop-opacity="0"/></linearGradient>
<rect x="144.59" y="200.00" width="9.00" height="22.00" fill="url(#bf7)"/>
</g>
<g filter="url(#bl)">
<rect x="158.36" y="269.54" width="9.00" height="1.71" fill="#676b4b"/>
<rect x="158.36" y="267.31" width="9.00" height="2.28" fill="#4e5f7f"/>
<rect x="158.36" y="266.27" width="9.00" height="1.09" fill="#54735e"/>
<rect x="158.36" y="265.08" width="9.00" height="1.24" fill="#5b4c51"/>
<rect x="158.36" y="263.28" width="9.00" height="1.84" fill="#545964"/>
<rect x="158.36" y="261.81" width="9.00" height="1.52" fill="#765258"/>
<rect x="158.36" y="259.95" width="9.00" height="1.91" fill="#615f58"/>
<rect x="158.36" y="257.75" width="9.00" height="2.26" fill="#67594b"/>
<rect x="158.36" y="256.77" width="9.00" height="1.03" fill="#5b6558"/>
<rect x="158.36" y="255.78" width="9.00" height="1.04" fill="#4e6b6a"/>
<rect x="158.36" y="254.29" width="9.00" height="1.54" fill="#555863"/>
<rect x="158.36" y="253.24" width="9.00" height="1.10" fill="#715e68"/>
<rect x="158.36" y="251.02" width="9.00" height="2.27" fill="#6a6d61"/>
<rect x="158.36" y="248.73" width="9.00" height="2.34" fill="#615e58"/>
<rect x="158.36" y="247.60" width="9.00" height="1.18" fill="#506867"/>
<rect x="158.36" y="245.81" width="9.00" height="1.84" fill="#5b4d52"/>
<rect x="158.36" y="243.90" width="9.00" height="1.96" fill="#6c4746"/>
<rect x="158.36" y="242.11" width="9.00" height="1.84" fill="#4a636e"/>
<rect x="158.36" y="240.80" width="9.00" height="1.36" fill="#8a6d57"/>
<rect x="158.36" y="238.81" width="9.00" height="2.04" fill="#5b4d52"/>
<rect x="158.36" y="236.71" width="9.00" height="2.14" fill="#5b6257"/>
<rect x="158.36" y="234.85" width="9.00" height="1.91" fill="#4c626b"/>
<rect x="158.36" y="233.28" width="9.00" height="1.62" fill="#5b6357"/>
<rect x="158.36" y="231.46" width="9.00" height="1.87" fill="#7a6852"/>
<rect x="158.36" y="229.96" width="9.00" height="1.55" fill="#516665"/>
<rect x="158.36" y="228.55" width="9.00" height="1.46" fill="#6d5c64"/>
<rect x="158.36" y="227.57" width="9.00" height="1.03" fill="#57695b"/>
<rect x="158.36" y="225.58" width="9.00" height="2.05" fill="#6a4948"/>
<rect x="158.36" y="224.19" width="9.00" height="1.43" fill="#556f5d"/>
<rect x="158.36" y="223.28" width="9.00" height="0.97" fill="#526564"/>
<rect x="158.36" y="222.03" width="9.00" height="1.30" fill="#605365"/>
<rect x="158.36" y="219.93" width="9.00" height="2.15" fill="#64644e"/>
<rect x="158.36" y="218.55" width="9.00" height="1.44" fill="#6a4948"/>
<rect x="158.36" y="217.08" width="9.00" height="1.51" fill="#896c57"/>
<rect x="158.36" y="214.94" width="9.00" height="2.20" fill="#63574f"/>
<rect x="158.36" y="213.91" width="9.00" height="1.08" fill="#7f6756"/>
<rect x="158.36" y="211.83" width="9.00" height="2.12" fill="#525c71"/>
<rect x="158.36" y="210.64" width="9.00" height="1.25" fill="#536362"/>
<rect x="158.36" y="209.12" width="9.00" height="1.56" fill="#5f5463"/>
<rect x="158.36" y="207.85" width="9.00" height="1.32" fill="#6e574f"/>
<rect x="158.36" y="206.29" width="9.00" height="1.61" fill="#876b57"/>
<rect x="158.36" y="204.74" width="9.00" height="1.60" fill="#674c4b"/>
<rect x="158.36" y="203.49" width="9.00" height="1.30" fill="#63634e"/>
<rect x="158.36" y="201.38" width="9.00" height="2.16" fill="#7f614e"/>
<rect x="158.36" y="200.03" width="9.00" height="1.40" fill="#57675a"/>
<rect x="158.36" y="200.00" width="9.00" height="0.08" fill="#6c5456"/>
<rect x="158.36" y="271.20" width="9.00" height="16.80" fill="#5c8030"/>
<rect x="158.36" y="288.00" width="9.00" height="7.00" fill="#962424"/>
<rect x="158.36" y="295.00" width="9.00" height="17.40" fill="#28568c"/>
<linearGradient id="bf8" x1="0" x2="0" y1="0" y2="1"><stop offset="0" stop-color="#c8c5c5" stop-opacity="0.97"/><stop offset="0.6" stop-color="#a4a0a3" stop-opacity="0.8"/><stop offset="1" stop-color="#8c868c" stop-opacity="0"/></linearGradient>
<rect x="158.36" y="200.00" width="9.00" height="20.00" fill="url(#bf8)"/>
</g>
<g filter="url(#bl)">
<rect x="172.13" y="267.31" width="9.00" height="1.54" fill="#4c6e6e"/>
<rect x="172.13" y="265.91" width="9.00" height="1.45" fill="#95684a"/>
<rect x="172.13" y="264.94" width="9.00" height="1.01" fill="#7f6b52"/>
<rect x="172.13" y="263.91" width="9.00" height="1.08" fill="#5b4c51"/>
<rect x="172.13" y="261.76" width="9.00" height="2.21" fill="#8b7458"/>
<rect x="172.13" y="260.27" width="9.00" height="1.53" fill="#6f4544"/>
<rect x="172.13" y="258.17" width="9.00" height="2.16" fill="#545965"/>
<rect x="172.13" y="256.18" width="9.00" height="2.04" fill="#8f6f57"/>
<rect x="172.13" y="254.98" width="9.00" height="1.25" fill="#486571"/>
<rect x="172.13" y="253.73" width="9.00" height="1.30" fill="#826f57"/>
<rect x="172.13" y="252.42" width="9.00" height="1.36" fill="#5b4c52"/>
<rect x="172.13" y="250.82" width="9.00" height="1.66" fill="#5b6357"/>
<rect x="172.13" y="249.43" width="9.00" height="1.43" fill="#4f5e7a"/>
<rect x="172.13" y="247.42" width="9.00" height="2.06" fill="#816c51"/>
<rect x="172.13" y="245.53" width="9.00" height="1.95" fill="#6c4746"/>
<rect x="172.13" y="243.74" width="9.00" height="1.84" fill="#847058"/>
<rect x="172.13" y="242.06" width="9.00" height="1.73" fill="#605e57"/>
<rect x="172.13" y="241.09" width="9.00" height="1.02" fill="#745f6a"/>
<rect x="172.13" y="240.13" width="9.00" height="1.01" fill="#5b4d52"/>
<rect x="172.13" y="238.31" width="9.00" height="1.87" fill="#6a6b61"/>
<rect x="172.13" y="236.55" width="9.00" height="1.81" fill="#67584c"/>
<rect x="172.13" y="234.71" width="9.00" height="1.89" fill="#65584d"/>
<rect x="172.13" y="233.69" width="9.00" height="1.07" fill="#7e6c57"/>
<rect x="172.13" y="232.15" width="9.00" height="1.59" fill="#676a4c"/>
<rect x="172.13" y="231.00" width="9.00" height="1.20" fill="#806d57"/>
<rect x="172.13" y="229.95" width="9.00" height="1.09" fill="#86634c"/>
<rect x="172.13" y="227.90" width="9.00" height="2.10" fill="#6f5d66"/>
<rect x="172.13" y="226.64" width="9.00" height="1.31" fill="#715e68"/>
<rect x="172.13" y="225.69" width="9.00" height="1.00" fill="#84624d"/>
<rect x="172.13" y="223.89" width="9.00" height="1.85" fill="#7e6c57"/>
<rect x="172.13" y="222.26" width="9.00" height="1.68" fill="#605364"/>
<rect x="172.13" y="220.77" width="9.00" height="1.54" fill="#605d57"/>
<rect x="172.13" y="219.85" width="9.00" height="0.97" fill="#605c57"/>
<rect x="172.13" y="217.56" width="9.00" height="2.34" fill="#694a49"/>
<rect x="172.13" y="216.09" width="9.00" height="1.53" fill="#605367"/>
<rect x="172.13" y="214.53" width="9.00" height="1.61" fill="#684b4a"/>
<rect x="172.13" y="213.03" width="9.00" height="1.55" fill="#7d604e"/>
<rect x="172.13" y="211.96" width="9.00" height="1.12" fill="#516766"/>
<rect x="172.13" y="210.89" width="9.00" height="1.12" fill="#5b4e52"/>
<rect x="172.13" y="208.98" width="9.00" height="1.96" fill="#71584e"/>
<rect x="172.13" y="207.04" width="9.00" height="1.99" fill="#7b6a57"/>
<rect x="172.13" y="205.09" width="9.00" height="2.00" fill="#674c4b"/>
<rect x="172.13" y="204.07" width="9.00" height="1.07" fill="#7e6756"/>
<rect x="172.13" y="202.53" width="9.00" height="1.59" fill="#5b5e56"/>
<rect x="172.13" y="201.56" width="9.00" height="1.02" fill="#7d6b57"/>
<rect x="172.13" y="200.64" width="9.00" height="0.97" fill="#64584d"/>
<rect x="172.13" y="200.00" width="9.00" height="0.69" fill="#64584e"/>
<rect x="172.13" y="268.80" width="9.00" height="12.20" fill="#5c8030"/>
<rect x="172.13" y="281.00" width="9.00" height="15.60" fill="#962424"/>
<rect x="172.13" y="296.60" width="9.00" height="15.80" fill="#28568c"/>
<linearGradient id="bf9" x1="0" x2="0" y1="0" y2="1"><stop offset="0" stop-color="#b4b0af" stop-opacity="0.97"/><stop offset="0.6" stop-color="#9c989a" stop-opacity="0.8"/><stop offset="1" stop-color="#8c868c" stop-opacity="0"/></linearGradient>
<rect x="172.13" y="200.00" width="9.00" height="18.00" fill="url(#bf9)"/>
</g>
<line x1="46.00" y1="197.00" x2="46.00" y2="313.15" stroke="#000" stroke-width="1.4"/>
<line x1="43.40" y1="312.40" x2="46.00" y2="312.40" stroke="#000" stroke-width="1.2"/>
<text x="39.00" y="315.90" font-size="8.5" text-anchor="end" fill="#1c1c1c" stroke="#1c1c1c" stroke-width="0.3">0</text>
<line x1="43.40" y1="289.92" x2="46.00" y2="289.92" stroke="#000" stroke-width="1.2"/>
<text x="39.00" y="293.42" font-size="8.5" text-anchor="end" fill="#1c1c1c" stroke="#1c1c1c" stroke-width="0.3">20</text>
<line x1="43.40" y1="267.44" x2="46.00" y2="267.44" stroke="#000" stroke-width="1.2"/>
<text x="39.00" y="270.94" font-size="8.5" text-anchor="end" fill="#1c1c1c" stroke="#1c1c1c" stroke-width="0.3">40</text>
<line x1="43.40" y1="244.96" x2="46.00" y2="244.96" stroke="#000" stroke-width="1.2"/>
<text x="39.00" y="248.46" font-size="8.5" text-anchor="end" fill="#1c1c1c" stroke="#1c1c1c" stroke-width="0.3">60</text>
<line x1="43.40" y1="222.48" x2="46.00" y2="222.48" stroke="#000" stroke-width="1.2"/>
<text x="39.00" y="225.98" font-size="8.5" text-anchor="end" fill="#1c1c1c" stroke="#1c1c1c" stroke-width="0.3">80</text>
<line x1="43.40" y1="200.00" x2="46.00" y2="200.00" stroke="#000" stroke-width="1.2"/>
<text x="39.00" y="203.50" font-size="8.5" text-anchor="end" fill="#1c1c1c" stroke="#1c1c1c" stroke-width="0.3">100</text>
<line x1="44.40" y1="301.16" x2="46.00" y2="301.16" stroke="#000" stroke-width="1.0"/>
<line x1="44.40" y1="278.68" x2="46.00" y2="278.68" stroke="#000" stroke-width="1.0"/>
<line x1="44.40" y1="256.20" x2="46.00" y2="256.20" stroke="#000" stroke-width="1.0"/>
<line x1="44.40" y1="233.72" x2="46.00" y2="233.72" stroke="#000" stroke-width="1.0"/>
<line x1="44.40" y1="211.24" x2="46.00" y2="211.24" stroke="#000" stroke-width="1.0"/>
<line x1="45.25" y1="312.40" x2="186.00" y2="312.40" stroke="#000" stroke-width="1.4"/>
<line x1="46.20" y1="312.40" x2="46.20" y2="315.00" stroke="#000" stroke-width="1.2"/>
<line x1="60.00" y1="312.40" x2="60.00" y2="315.00" stroke="#000" stroke-width="1.2"/>
<line x1="73.80" y1="312.40" x2="73.80" y2="315.00" stroke="#000" stroke-width="1.2"/>
<line x1="87.60" y1="312.40" x2="87.60" y2="315.00" stroke="#000" stroke-width="1.2"/>
<line x1="101.40" y1="312.40" x2="101.40" y2="315.00" stroke="#000" stroke-width="1.2"/>
<line x1="115.20" y1="312.40" x2="115.20" y2="315.00" stroke="#000" stroke-width="1.2"/>
<line x1="129.00" y1="312.40" x2="129.00" y2="315.00" stroke="#000" stroke-width="1.2"/>
<line x1="142.80" y1="312.40" x2="142.80" y2="315.00" stroke="#000" stroke-width="1.2"/>
<line x1="156.60" y1="312.40" x2="156.60" y2="315.00" stroke="#000" stroke-width="1.2"/>
<line x1="170.40" y1="312.40" x2="170.40" y2="315.00" stroke="#000" stroke-width="1.2"/>
<line x1="184.20" y1="312.40" x2="184.20" y2="315.00" stroke="#000" stroke-width="1.2"/>
<text x="52.70" y="325.40" font-size="8.5" text-anchor="middle" fill="#1c1c1c" stroke="#1c1c1c" stroke-width="0.3">0</text>
<text x="80.24" y="325.40" font-size="8.5" text-anchor="middle" fill="#1c1c1c" stroke="#1c1c1c" stroke-width="0.3">4</text>
<text x="107.78" y="325.40" font-size="8.5" text-anchor="middle" fill="#1c1c1c" stroke="#1c1c1c" stroke-width="0.3">8</text>
<text x="135.32" y="325.40" font-size="8.5" text-anchor="middle" fill="#1c1c1c" stroke="#1c1c1c" stroke-width="0.3">12</text>
<text x="162.86" y="325.40" font-size="8.5" text-anchor="middle" fill="#1c1c1c" stroke="#1c1c1c" stroke-width="0.3">16</text>
<text x="116.35" y="339.70" font-size="10.7" text-anchor="middle" fill="#1c1c1c" stroke="#1c1c1c" stroke-width="0.3" textLength="52.50" lengthAdjust="spacingAndGlyphs">Time (weeks)</text>
<text x="20.40" y="254.65" font-size="10.7" text-anchor="middle" fill="#1c1c1c" stroke="#1c1c1c" stroke-width="0.3" textLength="53.90" lengthAdjust="spacingAndGlyphs" transform="rotate(-90 20.40 254.65)">Barcodes (%)</text>
<line x1="235.20" y1="197.00" x2="235.20" y2="312.75" stroke="#000" stroke-width="1.4"/>
<line x1="232.60" y1="312.00" x2="235.20" y2="312.00" stroke="#000" stroke-width="1.2"/>
<text x="228.80" y="315.50" font-size="8.5" text-anchor="end" fill="#1c1c1c" stroke="#1c1c1c" stroke-width="0.3">0</text>
<line x1="232.60" y1="284.10" x2="235.20" y2="284.10" stroke="#000" stroke-width="1.2"/>
<text x="228.80" y="287.60" font-size="8.5" text-anchor="end" fill="#1c1c1c" stroke="#1c1c1c" stroke-width="0.3">200</text>
<line x1="232.60" y1="256.20" x2="235.20" y2="256.20" stroke="#000" stroke-width="1.2"/>
<text x="228.80" y="259.70" font-size="8.5" text-anchor="end" fill="#1c1c1c" stroke="#1c1c1c" stroke-width="0.3">400</text>
<line x1="232.60" y1="228.30" x2="235.20" y2="228.30" stroke="#000" stroke-width="1.2"/>
<text x="228.80" y="231.80" font-size="8.5" text-anchor="end" fill="#1c1c1c" stroke="#1c1c1c" stroke-width="0.3">600</text>
<line x1="232.60" y1="200.40" x2="235.20" y2="200.40" stroke="#000" stroke-width="1.2"/>
<text x="228.80" y="203.90" font-size="8.5" text-anchor="end" fill="#1c1c1c" stroke="#1c1c1c" stroke-width="0.3">800</text>
<line x1="234.45" y1="312.00" x2="350.20" y2="312.00" stroke="#000" stroke-width="1.4"/>
<line x1="235.20" y1="312.00" x2="235.20" y2="314.60" stroke="#000" stroke-width="1.2"/>
<line x1="263.10" y1="312.00" x2="263.10" y2="314.60" stroke="#000" stroke-width="1.2"/>
<line x1="291.00" y1="312.00" x2="291.00" y2="314.60" stroke="#000" stroke-width="1.2"/>
<line x1="318.90" y1="312.00" x2="318.90" y2="314.60" stroke="#000" stroke-width="1.2"/>
<line x1="346.80" y1="312.00" x2="346.80" y2="314.60" stroke="#000" stroke-width="1.2"/>
<text x="235.20" y="325.40" font-size="8.5" text-anchor="middle" fill="#1c1c1c" stroke="#1c1c1c" stroke-width="0.3">0</text>
<text x="263.10" y="325.40" font-size="8.5" text-anchor="middle" fill="#1c1c1c" stroke="#1c1c1c" stroke-width="0.3">5</text>
<text x="291.00" y="325.40" font-size="8.5" text-anchor="middle" fill="#1c1c1c" stroke="#1c1c1c" stroke-width="0.3">10</text>
<text x="318.90" y="325.40" font-size="8.5" text-anchor="middle" fill="#1c1c1c" stroke="#1c1c1c" stroke-width="0.3">15</text>
<text x="346.80" y="325.40" font-size="8.5" text-anchor="middle" fill="#1c1c1c" stroke="#1c1c1c" stroke-width="0.3">20</text>
<text x="292.70" y="339.70" font-size="10.7" text-anchor="middle" fill="#1c1c1c" stroke="#1c1c1c" stroke-width="0.3" textLength="51.40" lengthAdjust="spacingAndGlyphs">Time (weeks)</text>
<text x="209.80" y="254.55" font-size="10.7" text-anchor="middle" fill="#1c1c1c" stroke="#1c1c1c" stroke-width="0.3" textLength="79.30" lengthAdjust="spacingAndGlyphs" transform="rotate(-90 209.80 254.55)">Barcodes (shannon)</text>
<polyline points="235.20,212.95 246.36,214.91 257.52,229.42 268.68,243.37 279.84,258.99 291.00,271.27 302.16,286.05 313.32,295.54 324.48,300.56 335.64,303.35" fill="none" stroke="#fff" stroke-width="2.2" stroke-linejoin="round"/>
<polyline points="235.20,212.95 246.36,214.91 257.52,229.42 268.68,243.37 279.84,258.99 291.00,271.27 302.16,286.05 313.32,295.54 324.48,300.56 335.64,303.35" fill="none" stroke="#000" stroke-width="1.5" stroke-linejoin="round"/>
<polyline points="235.20,212.95 246.36,214.91 257.52,228.30 268.68,246.44 279.84,262.76 291.00,272.94 302.16,286.89 313.32,295.26 324.48,301.12 335.64,303.63" fill="none" stroke="#fff" stroke-width="2.2" stroke-linejoin="round"/>
<polyline points="235.20,212.95 246.36,214.91 257.52,228.30 268.68,246.44 279.84,262.76 291.00,272.94 302.16,286.89 313.32,295.26 324.48,301.12 335.64,303.63" fill="none" stroke="#000" stroke-width="1.5" stroke-linejoin="round"/>
<polyline points="235.20,212.95 246.36,214.91 257.52,234.16 268.68,247.55 279.84,259.97 291.00,271.55 302.16,287.59 313.32,294.98 324.48,300.84 335.64,303.07" fill="none" stroke="#fff" stroke-width="2.2" stroke-linejoin="round"/>
<polyline points="235.20,212.95 246.36,214.91 257.52,234.16 268.68,247.55 279.84,259.97 291.00,271.55 302.16,287.59 313.32,294.98 324.48,300.84 335.64,303.07" fill="none" stroke="#000" stroke-width="1.5" stroke-linejoin="round"/>
<polyline points="235.20,212.95 246.36,214.91 257.52,222.72 268.68,236.67 279.84,252.01 291.00,267.36 302.16,285.50 313.32,294.56 324.48,299.44 335.64,302.79" fill="none" stroke="#fff" stroke-width="2.2" stroke-linejoin="round"/>
<polyline points="235.20,212.95 246.36,214.91 257.52,222.72 268.68,236.67 279.84,252.01 291.00,267.36 302.16,285.50 313.32,294.56 324.48,299.44 335.64,302.79" fill="none" stroke="#000" stroke-width="1.5" stroke-linejoin="round"/>
<polyline points="235.20,212.95 246.36,214.91 257.52,220.35 268.68,235.55 279.84,249.22 291.00,264.57 302.16,284.10 313.32,293.87 324.48,298.61 335.64,302.51" fill="none" stroke="#fff" stroke-width="2.2" stroke-linejoin="round"/>
<polyline points="235.20,212.95 246.36,214.91 257.52,220.35 268.68,235.55 279.84,249.22 291.00,264.57 302.16,284.10 313.32,293.87 324.48,298.61 335.64,302.51" fill="none" stroke="#000" stroke-width="1.5" stroke-linejoin="round"/>
<polyline points="235.20,212.95 246.36,214.91 257.52,226.90 268.68,242.25 279.84,256.20 291.00,270.15 302.16,284.80 313.32,294.14 324.48,299.17 335.64,301.54" fill="none" stroke="#fff" stroke-width="2.2" stroke-linejoin="round"/>
<polyline points="235.20,212.95 246.36,214.91 257.52,226.90 268.68,242.25 279.84,256.20 291.00,270.15 302.16,284.80 313.32,294.14 324.48,299.17 335.64,301.54" fill="none" stroke="#000" stroke-width="1.5" stroke-linejoin="round"/>
<polyline points="235.20,212.95 246.36,214.91 257.52,224.67 268.68,238.20 279.84,254.67 291.00,270.15 302.16,281.31 313.32,292.19 324.48,297.63 335.64,305.02" fill="none" stroke="#fff" stroke-width="2.2" stroke-linejoin="round"/>
<polyline points="235.20,212.95 246.36,214.91 257.52,224.67 268.68,238.20 279.84,254.67 291.00,270.15 302.16,281.31 313.32,292.19 324.48,297.63 335.64,305.02" fill="none" stroke="#000" stroke-width="1.5" stroke-linejoin="round"/>
<circle cx="235.20" cy="212.95" r="2.65" fill="#ffffff" stroke="#1a0e0e" stroke-width="1.1"/>
<circle cx="246.36" cy="214.91" r="2.65" fill="#ffffff" stroke="#1a0e0e" stroke-width="1.1"/>
<circle cx="257.52" cy="229.42" r="2.65" fill="#ffffff" stroke="#1a0e0e" stroke-width="1.1"/>
<circle cx="268.68" cy="243.37" r="2.65" fill="#ffffff" stroke="#1a0e0e" stroke-width="1.1"/>
<circle cx="279.84" cy="258.99" r="2.65" fill="#ffffff" stroke="#1a0e0e" stroke-width="1.1"/>
<circle cx="291.00" cy="271.27" r="2.65" fill="#ffffff" stroke="#1a0e0e" stroke-width="1.1"/>
<circle cx="302.16" cy="286.05" r="2.65" fill="#ffffff" stroke="#1a0e0e" stroke-width="1.1"/>
<circle cx="313.32" cy="295.54" r="2.65" fill="#ffffff" stroke="#1a0e0e" stroke-width="1.1"/>
<circle cx="324.48" cy="300.56" r="2.65" fill="#ffffff" stroke="#1a0e0e" stroke-width="1.1"/>
<circle cx="335.64" cy="303.35" r="2.65" fill="#ffffff" stroke="#1a0e0e" stroke-width="1.1"/>
<circle cx="235.20" cy="212.95" r="2.65" fill="#2a2a6a" stroke="#1a0e0e" stroke-width="1.1"/>
<circle cx="246.36" cy="214.91" r="2.65" fill="#2a2a6a" stroke="#1a0e0e" stroke-width="1.1"/>
<circle cx="257.52" cy="228.30" r="2.65" fill="#2a2a6a" stroke="#1a0e0e" stroke-width="1.1"/>
<circle cx="268.68" cy="246.44" r="2.65" fill="#2a2a6a" stroke="#1a0e0e" stroke-width="1.1"/>
<circle cx="279.84" cy="262.76" r="2.65" fill="#2a2a6a" stroke="#1a0e0e" stroke-width="1.1"/>
<circle cx="291.00" cy="272.94" r="2.65" fill="#2a2a6a" stroke="#1a0e0e" stroke-width="1.1"/>
<circle cx="302.16" cy="286.89" r="2.65" fill="#2a2a6a" stroke="#1a0e0e" stroke-width="1.1"/>
<circle cx="313.32" cy="295.26" r="2.65" fill="#2a2a6a" stroke="#1a0e0e" stroke-width="1.1"/>
<circle cx="324.48" cy="301.12" r="2.65" fill="#2a2a6a" stroke="#1a0e0e" stroke-width="1.1"/>
<circle cx="335.64" cy="303.63" r="2.65" fill="#2a2a6a" stroke="#1a0e0e" stroke-width="1.1"/>
<circle cx="235.20" cy="212.95" r="2.65" fill="#f2ea3a" stroke="#1a0e0e" stroke-width="1.1"/>
<circle cx="246.36" cy="214.91" r="2.65" fill="#f2ea3a" stroke="#1a0e0e" stroke-width="1.1"/>
<circle cx="257.52" cy="234.16" r="2.65" fill="#f2ea3a" stroke="#1a0e0e" stroke-width="1.1"/>
<circle cx="268.68" cy="247.55" r="2.65" fill="#f2ea3a" stroke="#1a0e0e" stroke-width="1.1"/>
<circle cx="279.84" cy="259.97" r="2.65" fill="#f2ea3a" stroke="#1a0e0e" stroke-width="1.1"/>
<circle cx="291.00" cy="271.55" r="2.65" fill="#f2ea3a" stroke="#1a0e0e" stroke-width="1.1"/>
<circle cx="302.16" cy="287.59" r="2.65" fill="#f2ea3a" stroke="#1a0e0e" stroke-width="1.1"/>
<circle cx="313.32" cy="294.98" r="2.65" fill="#f2ea3a" stroke="#1a0e0e" stroke-width="1.1"/>
<circle cx="324.48" cy="300.84" r="2.65" fill="#f2ea3a" stroke="#1a0e0e" stroke-width="1.1"/>
<circle cx="335.64" cy="303.07" r="2.65" fill="#f2ea3a" stroke="#1a0e0e" stroke-width="1.1"/>
<circle cx="235.20" cy="212.95" r="2.65" fill="#d8965c" stroke="#1a0e0e" stroke-width="1.1"/>
<circle cx="246.36" cy="214.91" r="2.65" fill="#d8965c" stroke="#1a0e0e" stroke-width="1.1"/>
<circle cx="257.52" cy="222.72" r="2.65" fill="#d8965c" stroke="#1a0e0e" stroke-width="1.1"/>
<circle cx="268.68" cy="236.67" r="2.65" fill="#d8965c" stroke="#1a0e0e" stroke-width="1.1"/>
<circle cx="279.84" cy="252.01" r="2.65" fill="#d8965c" stroke="#1a0e0e" stroke-width="1.1"/>
<circle cx="291.00" cy="267.36" r="2.65" fill="#d8965c" stroke="#1a0e0e" stroke-width="1.1"/>
<circle cx="302.16" cy="285.50" r="2.65" fill="#d8965c" stroke="#1a0e0e" stroke-width="1.1"/>
<circle cx="313.32" cy="294.56" r="2.65" fill="#d8965c" stroke="#1a0e0e" stroke-width="1.1"/>
<circle cx="324.48" cy="299.44" r="2.65" fill="#d8965c" stroke="#1a0e0e" stroke-width="1.1"/>
<circle cx="335.64" cy="302.79" r="2.65" fill="#d8965c" stroke="#1a0e0e" stroke-width="1.1"/>
<circle cx="235.20" cy="212.95" r="2.65" fill="#e8aa8c" stroke="#1a0e0e" stroke-width="1.1"/>
<circle cx="246.36" cy="214.91" r="2.65" fill="#e8aa8c" stroke="#1a0e0e" stroke-width="1.1"/>
<circle cx="257.52" cy="220.35" r="2.65" fill="#e8aa8c" stroke="#1a0e0e" stroke-width="1.1"/>
<circle cx="268.68" cy="235.55" r="2.65" fill="#e8aa8c" stroke="#1a0e0e" stroke-width="1.1"/>
<circle cx="279.84" cy="249.22" r="2.65" fill="#e8aa8c" stroke="#1a0e0e" stroke-width="1.1"/>
<circle cx="291.00" cy="264.57" r="2.65" fill="#e8aa8c" stroke="#1a0e0e" stroke-width="1.1"/>
<circle cx="302.16" cy="284.10" r="2.65" fill="#e8aa8c" stroke="#1a0e0e" stroke-width="1.1"/>
<circle cx="313.32" cy="293.87" r="2.65" fill="#e8aa8c" stroke="#1a0e0e" stroke-width="1.1"/>
<circle cx="324.48" cy="298.61" r="2.65" fill="#e8aa8c" stroke="#1a0e0e" stroke-width="1.1"/>
<circle cx="335.64" cy="302.51" r="2.65" fill="#e8aa8c" stroke="#1a0e0e" stroke-width="1.1"/>
<circle cx="235.20" cy="212.95" r="2.65" fill="#3c5a2c" stroke="#1a0e0e" stroke-width="1.1"/>
<circle cx="246.36" cy="214.91" r="2.65" fill="#3c5a2c" stroke="#1a0e0e" stroke-width="1.1"/>
<circle cx="257.52" cy="226.90" r="2.65" fill="#3c5a2c" stroke="#1a0e0e" stroke-width="1.1"/>
<circle cx="268.68" cy="242.25" r="2.65" fill="#3c5a2c" stroke="#1a0e0e" stroke-width="1.1"/>
<circle cx="279.84" cy="256.20" r="2.65" fill="#3c5a2c" stroke="#1a0e0e" stroke-width="1.1"/>
<circle cx="291.00" cy="270.15" r="2.65" fill="#3c5a2c" stroke="#1a0e0e" stroke-width="1.1"/>
<circle cx="302.16" cy="284.80" r="2.65" fill="#3c5a2c" stroke="#1a0e0e" stroke-width="1.1"/>
<circle cx="313.32" cy="294.14" r="2.65" fill="#3c5a2c" stroke="#1a0e0e" stroke-width="1.1"/>
<circle cx="324.48" cy="299.17" r="2.65" fill="#3c5a2c" stroke="#1a0e0e" stroke-width="1.1"/>
<circle cx="335.64" cy="301.54" r="2.65" fill="#3c5a2c" stroke="#1a0e0e" stroke-width="1.1"/>
<circle cx="235.20" cy="212.95" r="2.65" fill="#b03a32" stroke="#1a0e0e" stroke-width="1.1"/>
<circle cx="246.36" cy="214.91" r="2.65" fill="#b03a32" stroke="#1a0e0e" stroke-width="1.1"/>
<circle cx="257.52" cy="224.67" r="2.65" fill="#b03a32" stroke="#1a0e0e" stroke-width="1.1"/>
<circle cx="268.68" cy="238.20" r="2.65" fill="#b03a32" stroke="#1a0e0e" stroke-width="1.1"/>
<circle cx="279.84" cy="254.67" r="2.65" fill="#b03a32" stroke="#1a0e0e" stroke-width="1.1"/>
<circle cx="291.00" cy="270.15" r="2.65" fill="#b03a32" stroke="#1a0e0e" stroke-width="1.1"/>
<circle cx="302.16" cy="281.31" r="2.65" fill="#b03a32" stroke="#1a0e0e" stroke-width="1.1"/>
<circle cx="313.32" cy="292.19" r="2.65" fill="#b03a32" stroke="#1a0e0e" stroke-width="1.1"/>
<circle cx="324.48" cy="297.63" r="2.65" fill="#b03a32" stroke="#1a0e0e" stroke-width="1.1"/>
<circle cx="335.64" cy="305.02" r="2.65" fill="#b03a32" stroke="#1a0e0e" stroke-width="1.1"/>
<line x1="395.80" y1="197.00" x2="395.80" y2="312.65" stroke="#000" stroke-width="1.4"/>
<line x1="393.20" y1="311.90" x2="395.80" y2="311.90" stroke="#000" stroke-width="1.2"/>
<text x="389.40" y="315.40" font-size="8.5" text-anchor="end" fill="#1c1c1c" stroke="#1c1c1c" stroke-width="0.3">0</text>
<line x1="393.20" y1="289.64" x2="395.80" y2="289.64" stroke="#000" stroke-width="1.2"/>
<text x="389.40" y="293.14" font-size="8.5" text-anchor="end" fill="#1c1c1c" stroke="#1c1c1c" stroke-width="0.3">0.2</text>
<line x1="393.20" y1="267.38" x2="395.80" y2="267.38" stroke="#000" stroke-width="1.2"/>
<text x="389.40" y="270.88" font-size="8.5" text-anchor="end" fill="#1c1c1c" stroke="#1c1c1c" stroke-width="0.3">0.4</text>
<line x1="393.20" y1="245.12" x2="395.80" y2="245.12" stroke="#000" stroke-width="1.2"/>
<text x="389.40" y="248.62" font-size="8.5" text-anchor="end" fill="#1c1c1c" stroke="#1c1c1c" stroke-width="0.3">0.6</text>
<line x1="393.20" y1="222.86" x2="395.80" y2="222.86" stroke="#000" stroke-width="1.2"/>
<text x="389.40" y="226.36" font-size="8.5" text-anchor="end" fill="#1c1c1c" stroke="#1c1c1c" stroke-width="0.3">0.8</text>
<line x1="393.20" y1="200.60" x2="395.80" y2="200.60" stroke="#000" stroke-width="1.2"/>
<text x="389.40" y="204.10" font-size="8.5" text-anchor="end" fill="#1c1c1c" stroke="#1c1c1c" stroke-width="0.3">1.0</text>
<line x1="395.05" y1="311.90" x2="510.90" y2="311.90" stroke="#000" stroke-width="1.4"/>
<line x1="395.80" y1="311.90" x2="395.80" y2="314.50" stroke="#000" stroke-width="1.2"/>
<line x1="423.70" y1="311.90" x2="423.70" y2="314.50" stroke="#000" stroke-width="1.2"/>
<line x1="451.70" y1="311.90" x2="451.70" y2="314.50" stroke="#000" stroke-width="1.2"/>
<line x1="479.40" y1="311.90" x2="479.40" y2="314.50" stroke="#000" stroke-width="1.2"/>
<line x1="503.00" y1="311.90" x2="503.00" y2="314.50" stroke="#000" stroke-width="1.2"/>
<text x="395.80" y="325.40" font-size="8.5" text-anchor="middle" fill="#1c1c1c" stroke="#1c1c1c" stroke-width="0.3">0</text>
<text x="423.70" y="325.40" font-size="8.5" text-anchor="middle" fill="#1c1c1c" stroke="#1c1c1c" stroke-width="0.3">5</text>
<text x="451.70" y="325.40" font-size="8.5" text-anchor="middle" fill="#1c1c1c" stroke="#1c1c1c" stroke-width="0.3">10</text>
<text x="479.40" y="325.40" font-size="8.5" text-anchor="middle" fill="#1c1c1c" stroke="#1c1c1c" stroke-width="0.3">15</text>
<text x="503.00" y="325.40" font-size="8.5" text-anchor="middle" fill="#1c1c1c" stroke="#1c1c1c" stroke-width="0.3">20</text>
<text x="453.20" y="339.70" font-size="10.7" text-anchor="middle" fill="#1c1c1c" stroke="#1c1c1c" stroke-width="0.3" textLength="51.20" lengthAdjust="spacingAndGlyphs">Time (weeks)</text>
<text x="373.40" y="254.45" font-size="10.7" text-anchor="middle" fill="#1c1c1c" stroke="#1c1c1c" stroke-width="0.3" textLength="98.50" lengthAdjust="spacingAndGlyphs" transform="rotate(-90 373.40 254.45)">Determinism (spearman)</text>
<polyline points="401.40,255.14 412.60,236.22 423.80,228.42 435.00,226.20 446.20,222.86 457.40,213.96 468.60,213.96 479.80,212.84 491.00,212.84" fill="none" stroke="#fff" stroke-width="2.2" stroke-linejoin="round"/>
<polyline points="401.40,255.14 412.60,236.22 423.80,228.42 435.00,226.20 446.20,222.86 457.40,213.96 468.60,213.96 479.80,212.84 491.00,212.84" fill="none" stroke="#000" stroke-width="1.5" stroke-linejoin="round"/>
<polyline points="401.40,252.91 412.60,228.42 423.80,225.09 435.00,219.52 446.20,215.07 457.40,212.84 468.60,211.73 479.80,211.73 491.00,210.62" fill="none" stroke="#fff" stroke-width="2.2" stroke-linejoin="round"/>
<polyline points="401.40,252.91 412.60,228.42 423.80,225.09 435.00,219.52 446.20,215.07 457.40,212.84 468.60,211.73 479.80,211.73 491.00,210.62" fill="none" stroke="#000" stroke-width="1.5" stroke-linejoin="round"/>
<polyline points="401.40,254.02 412.60,244.01 423.80,227.31 435.00,218.41 446.20,216.18 457.40,217.29 468.60,212.84 479.80,211.73 491.00,210.62" fill="none" stroke="#fff" stroke-width="2.2" stroke-linejoin="round"/>
<polyline points="401.40,254.02 412.60,244.01 423.80,227.31 435.00,218.41 446.20,216.18 457.40,217.29 468.60,212.84 479.80,211.73 491.00,210.62" fill="none" stroke="#000" stroke-width="1.5" stroke-linejoin="round"/>
<polyline points="401.40,256.25 412.60,233.99 423.80,226.20 435.00,218.41 446.20,213.96 457.40,211.73 468.60,210.62 479.80,210.62 491.00,209.50" fill="none" stroke="#fff" stroke-width="2.2" stroke-linejoin="round"/>
<polyline points="401.40,256.25 412.60,233.99 423.80,226.20 435.00,218.41 446.20,213.96 457.40,211.73 468.60,210.62 479.80,210.62 491.00,209.50" fill="none" stroke="#000" stroke-width="1.5" stroke-linejoin="round"/>
<polyline points="401.40,257.36 412.60,232.88 423.80,222.86 435.00,220.63 446.20,213.96 457.40,211.73 468.60,208.39 479.80,209.50 491.00,211.73" fill="none" stroke="#fff" stroke-width="2.2" stroke-linejoin="round"/>
<polyline points="401.40,257.36 412.60,232.88 423.80,222.86 435.00,220.63 446.20,213.96 457.40,211.73 468.60,208.39 479.80,209.50 491.00,211.73" fill="none" stroke="#000" stroke-width="1.5" stroke-linejoin="round"/>
<polyline points="401.40,256.25 412.60,240.67 423.80,229.54 435.00,216.18 446.20,211.73 457.40,210.62 468.60,211.73 479.80,215.07 491.00,213.96" fill="none" stroke="#fff" stroke-width="2.2" stroke-linejoin="round"/>
<polyline points="401.40,256.25 412.60,240.67 423.80,229.54 435.00,216.18 446.20,211.73 457.40,210.62 468.60,211.73 479.80,215.07 491.00,213.96" fill="none" stroke="#000" stroke-width="1.5" stroke-linejoin="round"/>
<circle cx="401.40" cy="255.14" r="2.65" fill="#ffffff" stroke="#1a0e0e" stroke-width="1.1"/>
<circle cx="412.60" cy="236.22" r="2.65" fill="#ffffff" stroke="#1a0e0e" stroke-width="1.1"/>
<circle cx="423.80" cy="228.42" r="2.65" fill="#ffffff" stroke="#1a0e0e" stroke-width="1.1"/>
<circle cx="435.00" cy="226.20" r="2.65" fill="#ffffff" stroke="#1a0e0e" stroke-width="1.1"/>
<circle cx="446.20" cy="222.86" r="2.65" fill="#ffffff" stroke="#1a0e0e" stroke-width="1.1"/>
<circle cx="457.40" cy="213.96" r="2.65" fill="#ffffff" stroke="#1a0e0e" stroke-width="1.1"/>
<circle cx="468.60" cy="213.96" r="2.65" fill="#ffffff" stroke="#1a0e0e" stroke-width="1.1"/>
<circle cx="479.80" cy="212.84" r="2.65" fill="#ffffff" stroke="#1a0e0e" stroke-width="1.1"/>
<circle cx="491.00" cy="212.84" r="2.65" fill="#ffffff" stroke="#1a0e0e" stroke-width="1.1"/>
<circle cx="401.40" cy="252.91" r="2.65" fill="#2a2a6a" stroke="#1a0e0e" stroke-width="1.1"/>
<circle cx="412.60" cy="228.42" r="2.65" fill="#2a2a6a" stroke="#1a0e0e" stroke-width="1.1"/>
<circle cx="423.80" cy="225.09" r="2.65" fill="#2a2a6a" stroke="#1a0e0e" stroke-width="1.1"/>
<circle cx="435.00" cy="219.52" r="2.65" fill="#2a2a6a" stroke="#1a0e0e" stroke-width="1.1"/>
<circle cx="446.20" cy="215.07" r="2.65" fill="#2a2a6a" stroke="#1a0e0e" stroke-width="1.1"/>
<circle cx="457.40" cy="212.84" r="2.65" fill="#2a2a6a" stroke="#1a0e0e" stroke-width="1.1"/>
<circle cx="468.60" cy="211.73" r="2.65" fill="#2a2a6a" stroke="#1a0e0e" stroke-width="1.1"/>
<circle cx="479.80" cy="211.73" r="2.65" fill="#2a2a6a" stroke="#1a0e0e" stroke-width="1.1"/>
<circle cx="491.00" cy="210.62" r="2.65" fill="#2a2a6a" stroke="#1a0e0e" stroke-width="1.1"/>
<circle cx="401.40" cy="254.02" r="2.65" fill="#f2ea3a" stroke="#1a0e0e" stroke-width="1.1"/>
<circle cx="412.60" cy="244.01" r="2.65" fill="#f2ea3a" stroke="#1a0e0e" stroke-width="1.1"/>
<circle cx="423.80" cy="227.31" r="2.65" fill="#f2ea3a" stroke="#1a0e0e" stroke-width="1.1"/>
<circle cx="435.00" cy="218.41" r="2.65" fill="#f2ea3a" stroke="#1a0e0e" stroke-width="1.1"/>
<circle cx="446.20" cy="216.18" r="2.65" fill="#f2ea3a" stroke="#1a0e0e" stroke-width="1.1"/>
<circle cx="457.40" cy="217.29" r="2.65" fill="#f2ea3a" stroke="#1a0e0e" stroke-width="1.1"/>
<circle cx="468.60" cy="212.84" r="2.65" fill="#f2ea3a" stroke="#1a0e0e" stroke-width="1.1"/>
<circle cx="479.80" cy="211.73" r="2.65" fill="#f2ea3a" stroke="#1a0e0e" stroke-width="1.1"/>
<circle cx="491.00" cy="210.62" r="2.65" fill="#f2ea3a" stroke="#1a0e0e" stroke-width="1.1"/>
<circle cx="401.40" cy="256.25" r="2.65" fill="#3c5a2c" stroke="#1a0e0e" stroke-width="1.1"/>
<circle cx="412.60" cy="233.99" r="2.65" fill="#3c5a2c" stroke="#1a0e0e" stroke-width="1.1"/>
<circle cx="423.80" cy="226.20" r="2.65" fill="#3c5a2c" stroke="#1a0e0e" stroke-width="1.1"/>
<circle cx="435.00" cy="218.41" r="2.65" fill="#3c5a2c" stroke="#1a0e0e" stroke-width="1.1"/>
<circle cx="446.20" cy="213.96" r="2.65" fill="#3c5a2c" stroke="#1a0e0e" stroke-width="1.1"/>
<circle cx="457.40" cy="211.73" r="2.65" fill="#3c5a2c" stroke="#1a0e0e" stroke-width="1.1"/>
<circle cx="468.60" cy="210.62" r="2.65" fill="#3c5a2c" stroke="#1a0e0e" stroke-width="1.1"/>
<circle cx="479.80" cy="210.62" r="2.65" fill="#3c5a2c" stroke="#1a0e0e" stroke-width="1.1"/>
<circle cx="491.00" cy="209.50" r="2.65" fill="#3c5a2c" stroke="#1a0e0e" stroke-width="1.1"/>
<circle cx="401.40" cy="257.36" r="2.65" fill="#d8965c" stroke="#1a0e0e" stroke-width="1.1"/>
<circle cx="412.60" cy="232.88" r="2.65" fill="#d8965c" stroke="#1a0e0e" stroke-width="1.1"/>
<circle cx="423.80" cy="222.86" r="2.65" fill="#d8965c" stroke="#1a0e0e" stroke-width="1.1"/>
<circle cx="435.00" cy="220.63" r="2.65" fill="#d8965c" stroke="#1a0e0e" stroke-width="1.1"/>
<circle cx="446.20" cy="213.96" r="2.65" fill="#d8965c" stroke="#1a0e0e" stroke-width="1.1"/>
<circle cx="457.40" cy="211.73" r="2.65" fill="#d8965c" stroke="#1a0e0e" stroke-width="1.1"/>
<circle cx="468.60" cy="208.39" r="2.65" fill="#d8965c" stroke="#1a0e0e" stroke-width="1.1"/>
<circle cx="479.80" cy="209.50" r="2.65" fill="#d8965c" stroke="#1a0e0e" stroke-width="1.1"/>
<circle cx="491.00" cy="211.73" r="2.65" fill="#d8965c" stroke="#1a0e0e" stroke-width="1.1"/>
<circle cx="401.40" cy="256.25" r="2.65" fill="#b03a32" stroke="#1a0e0e" stroke-width="1.1"/>
<circle cx="412.60" cy="240.67" r="2.65" fill="#b03a32" stroke="#1a0e0e" stroke-width="1.1"/>
<circle cx="423.80" cy="229.54" r="2.65" fill="#b03a32" stroke="#1a0e0e" stroke-width="1.1"/>
<circle cx="435.00" cy="216.18" r="2.65" fill="#b03a32" stroke="#1a0e0e" stroke-width="1.1"/>
<circle cx="446.20" cy="211.73" r="2.65" fill="#b03a32" stroke="#1a0e0e" stroke-width="1.1"/>
<circle cx="457.40" cy="210.62" r="2.65" fill="#b03a32" stroke="#1a0e0e" stroke-width="1.1"/>
<circle cx="468.60" cy="211.73" r="2.65" fill="#b03a32" stroke="#1a0e0e" stroke-width="1.1"/>
<circle cx="479.80" cy="215.07" r="2.65" fill="#b03a32" stroke="#1a0e0e" stroke-width="1.1"/>
<circle cx="491.00" cy="213.96" r="2.65" fill="#b03a32" stroke="#1a0e0e" stroke-width="1.1"/>
<line x1="45.50" y1="377.20" x2="45.50" y2="493.65" stroke="#000" stroke-width="1.4"/>
<line x1="42.90" y1="492.90" x2="45.50" y2="492.90" stroke="#000" stroke-width="1.2"/>
<text x="39.10" y="496.40" font-size="8.5" text-anchor="end" fill="#1c1c1c" stroke="#1c1c1c" stroke-width="0.3">0</text>
<line x1="42.90" y1="470.48" x2="45.50" y2="470.48" stroke="#000" stroke-width="1.2"/>
<text x="39.10" y="473.98" font-size="8.5" text-anchor="end" fill="#1c1c1c" stroke="#1c1c1c" stroke-width="0.3">20</text>
<line x1="42.90" y1="448.06" x2="45.50" y2="448.06" stroke="#000" stroke-width="1.2"/>
<text x="39.10" y="451.56" font-size="8.5" text-anchor="end" fill="#1c1c1c" stroke="#1c1c1c" stroke-width="0.3">40</text>
<line x1="42.90" y1="425.64" x2="45.50" y2="425.64" stroke="#000" stroke-width="1.2"/>
<text x="39.10" y="429.14" font-size="8.5" text-anchor="end" fill="#1c1c1c" stroke="#1c1c1c" stroke-width="0.3">60</text>
<line x1="42.90" y1="403.22" x2="45.50" y2="403.22" stroke="#000" stroke-width="1.2"/>
<text x="39.10" y="406.72" font-size="8.5" text-anchor="end" fill="#1c1c1c" stroke="#1c1c1c" stroke-width="0.3">80</text>
<line x1="42.90" y1="380.80" x2="45.50" y2="380.80" stroke="#000" stroke-width="1.2"/>
<text x="39.10" y="384.30" font-size="8.5" text-anchor="end" fill="#1c1c1c" stroke="#1c1c1c" stroke-width="0.3">100</text>
<line x1="44.75" y1="492.90" x2="151.50" y2="492.90" stroke="#000" stroke-width="1.4"/>
<line x1="45.50" y1="492.90" x2="45.50" y2="495.50" stroke="#000" stroke-width="1.2"/>
<line x1="71.00" y1="492.90" x2="71.00" y2="495.50" stroke="#000" stroke-width="1.2"/>
<line x1="96.50" y1="492.90" x2="96.50" y2="495.50" stroke="#000" stroke-width="1.2"/>
<line x1="122.00" y1="492.90" x2="122.00" y2="495.50" stroke="#000" stroke-width="1.2"/>
<line x1="147.70" y1="492.90" x2="147.70" y2="495.50" stroke="#000" stroke-width="1.2"/>
<text x="45.50" y="505.80" font-size="8.5" text-anchor="middle" fill="#1c1c1c" stroke="#1c1c1c" stroke-width="0.3">0</text>
<text x="71.00" y="505.80" font-size="8.5" text-anchor="middle" fill="#1c1c1c" stroke="#1c1c1c" stroke-width="0.3">2</text>
<text x="96.50" y="505.80" font-size="8.5" text-anchor="middle" fill="#1c1c1c" stroke="#1c1c1c" stroke-width="0.3">4</text>
<text x="122.00" y="505.80" font-size="8.5" text-anchor="middle" fill="#1c1c1c" stroke="#1c1c1c" stroke-width="0.3">6</text>
<text x="147.70" y="505.80" font-size="8.5" text-anchor="middle" fill="#1c1c1c" stroke="#1c1c1c" stroke-width="0.3">BM</text>
<text x="98.05" y="516.80" font-size="10.7" text-anchor="middle" fill="#1c1c1c" stroke="#1c1c1c" stroke-width="0.3" textLength="51.50" lengthAdjust="spacingAndGlyphs">Time (weeks)</text>
<text x="19.20" y="435.55" font-size="10.7" text-anchor="middle" fill="#1c1c1c" stroke="#1c1c1c" stroke-width="0.3" textLength="48.10" lengthAdjust="spacingAndGlyphs" transform="rotate(-90 19.20 435.55)">hCD19<tspan font-size="7" dy="-3.5">+</tspan><tspan dy="3.5"> (%)</tspan></text>
<polyline points="45.50,492.90 109.20,492.45 122.00,492.90 134.60,468.24" fill="none" stroke="#000" stroke-width="1.1"/>
<polyline points="45.50,492.90 109.20,492.34 122.00,491.22 134.60,466.00" fill="none" stroke="#000" stroke-width="1.1"/>
<polyline points="45.50,492.90 109.20,491.78 122.00,487.29 134.60,473.84" fill="none" stroke="#000" stroke-width="1.1"/>
<polyline points="45.50,492.90 109.20,491.55 122.00,481.69 134.60,477.21" fill="none" stroke="#000" stroke-width="1.1"/>
<polyline points="45.50,492.90 109.20,491.11 122.00,483.93 134.60,478.33" fill="none" stroke="#000" stroke-width="1.1"/>
<line x1="134.80" y1="470.48" x2="148.00" y2="387.53" stroke="#000" stroke-width="1.0"/>
<line x1="134.05" y1="470.48" x2="147.25" y2="387.53" stroke="#000" stroke-width="1.1" stroke-dasharray="1.6 1.6" stroke-dashoffset="0"/>
<line x1="135.55" y1="470.48" x2="148.75" y2="387.53" stroke="#000" stroke-width="1.1" stroke-dasharray="1.6 1.6" stroke-dashoffset="1.6"/>
<circle cx="45.50" cy="492.90" r="2.65" fill="#2a2a6a" stroke="#1a0e0e" stroke-width="1.1"/>
<circle cx="109.20" cy="492.45" r="2.65" fill="#2a2a6a" stroke="#1a0e0e" stroke-width="1.1"/>
<circle cx="122.00" cy="492.90" r="2.65" fill="#2a2a6a" stroke="#1a0e0e" stroke-width="1.1"/>
<circle cx="134.60" cy="468.24" r="2.65" fill="#2a2a6a" stroke="#1a0e0e" stroke-width="1.1"/>
<circle cx="147.80" cy="384.16" r="2.65" fill="#2a2a6a" stroke="#1a0e0e" stroke-width="1.1"/>
<circle cx="45.50" cy="492.90" r="2.65" fill="#ffffff" stroke="#1a0e0e" stroke-width="1.1"/>
<circle cx="109.20" cy="492.34" r="2.65" fill="#ffffff" stroke="#1a0e0e" stroke-width="1.1"/>
<circle cx="122.00" cy="491.22" r="2.65" fill="#ffffff" stroke="#1a0e0e" stroke-width="1.1"/>
<circle cx="134.60" cy="466.00" r="2.65" fill="#ffffff" stroke="#1a0e0e" stroke-width="1.1"/>
<circle cx="147.80" cy="386.40" r="2.65" fill="#ffffff" stroke="#1a0e0e" stroke-width="1.1"/>
<circle cx="45.50" cy="492.90" r="2.65" fill="#e8aa8c" stroke="#1a0e0e" stroke-width="1.1"/>
<circle cx="109.20" cy="491.78" r="2.65" fill="#e8aa8c" stroke="#1a0e0e" stroke-width="1.1"/>
<circle cx="122.00" cy="487.29" r="2.65" fill="#e8aa8c" stroke="#1a0e0e" stroke-width="1.1"/>
<circle cx="134.60" cy="473.84" r="2.65" fill="#e8aa8c" stroke="#1a0e0e" stroke-width="1.1"/>
<circle cx="147.80" cy="387.53" r="2.65" fill="#e8aa8c" stroke="#1a0e0e" stroke-width="1.1"/>
<circle cx="45.50" cy="492.90" r="2.65" fill="#c04030" stroke="#1a0e0e" stroke-width="1.1"/>
<circle cx="109.20" cy="491.55" r="2.65" fill="#c04030" stroke="#1a0e0e" stroke-width="1.1"/>
<circle cx="122.00" cy="481.69" r="2.65" fill="#c04030" stroke="#1a0e0e" stroke-width="1.1"/>
<circle cx="134.60" cy="477.21" r="2.65" fill="#c04030" stroke="#1a0e0e" stroke-width="1.1"/>
<circle cx="147.80" cy="388.65" r="2.65" fill="#c04030" stroke="#1a0e0e" stroke-width="1.1"/>
<circle cx="45.50" cy="492.90" r="2.65" fill="#a83028" stroke="#1a0e0e" stroke-width="1.1"/>
<circle cx="109.20" cy="491.11" r="2.65" fill="#a83028" stroke="#1a0e0e" stroke-width="1.1"/>
<circle cx="122.00" cy="483.93" r="2.65" fill="#a83028" stroke="#1a0e0e" stroke-width="1.1"/>
<circle cx="134.60" cy="478.33" r="2.65" fill="#a83028" stroke="#1a0e0e" stroke-width="1.1"/>
<circle cx="147.80" cy="390.89" r="2.65" fill="#a83028" stroke="#1a0e0e" stroke-width="1.1"/>
<g filter="url(#bl)">
<rect x="230.10" y="492.20" width="18.80" height="1.35" fill="#464242"/>
</g>
<g filter="url(#bl)">
<rect x="258.30" y="487.90" width="18.40" height="1.65" fill="#a0a096"/>
<rect x="258.30" y="489.50" width="18.40" height="1.75" fill="#828278"/>
<rect x="258.30" y="491.20" width="18.40" height="2.35" fill="#64645f"/>
</g>
<g filter="url(#bl)">
<rect x="286.60" y="475.00" width="18.20" height="1.55" fill="#d7d7d2"/>
<rect x="286.60" y="476.50" width="18.20" height="1.75" fill="#afafaa"/>
<rect x="286.60" y="478.20" width="18.20" height="1.65" fill="#969691"/>
<rect x="286.60" y="479.80" width="18.20" height="1.55" fill="#d27850"/>
<rect x="286.60" y="481.30" width="18.20" height="2.05" fill="#d2a050"/>
<rect x="286.60" y="483.30" width="18.20" height="1.25" fill="#78786e"/>
<rect x="286.60" y="484.50" width="18.20" height="1.55" fill="#5a646e"/>
<rect x="286.60" y="486.00" width="18.20" height="1.35" fill="#8c7850"/>
<rect x="286.60" y="487.30" width="18.20" height="1.55" fill="#464b5a"/>
<rect x="286.60" y="488.80" width="18.20" height="1.25" fill="#3c4682"/>
<rect x="286.60" y="490.00" width="18.20" height="3.55" fill="#286e82"/>
</g>
<g filter="url(#bl)">
<rect x="314.40" y="389.20" width="18.50" height="3.95" fill="#dacdd0"/>
<rect x="314.40" y="393.10" width="18.50" height="6.85" fill="#e6c3c8"/>
<rect x="314.40" y="399.90" width="18.50" height="2.75" fill="#aac3e1"/>
<rect x="314.40" y="402.60" width="18.50" height="4.85" fill="#a0c8e1"/>
<rect x="314.40" y="407.40" width="18.50" height="2.45" fill="#beb4b9"/>
<rect x="314.40" y="409.80" width="18.50" height="3.55" fill="#d7b4a0"/>
<rect x="314.40" y="413.30" width="18.50" height="2.45" fill="#beaaa0"/>
<rect x="314.40" y="415.70" width="18.50" height="2.85" fill="#dc8c6e"/>
<rect x="314.40" y="418.50" width="18.50" height="1.55" fill="#c8a082"/>
<rect x="314.40" y="420.00" width="18.50" height="3.65" fill="#8cc864"/>
<rect x="314.40" y="423.60" width="18.50" height="1.25" fill="#78a078"/>
<rect x="314.40" y="424.80" width="18.50" height="3.25" fill="#5a6ea0"/>
<rect x="314.40" y="428.00" width="18.50" height="1.25" fill="#82828c"/>
<rect x="314.40" y="429.20" width="18.50" height="3.55" fill="#64508c"/>
<rect x="314.40" y="432.70" width="18.50" height="1.65" fill="#787896"/>
<rect x="314.40" y="434.30" width="18.50" height="2.45" fill="#508c82"/>
<rect x="314.40" y="436.70" width="18.50" height="0.85" fill="#6e8250"/>
<rect x="314.40" y="437.50" width="18.50" height="1.55" fill="#b48c64"/>
<rect x="314.40" y="439.00" width="18.50" height="2.85" fill="#645096"/>
<rect x="314.40" y="441.80" width="18.50" height="2.55" fill="#3c82a0"/>
<rect x="314.40" y="444.30" width="18.50" height="1.75" fill="#469696"/>
<rect x="314.40" y="446.00" width="18.50" height="1.75" fill="#828282"/>
<rect x="314.40" y="447.70" width="18.50" height="2.25" fill="#be8c5a"/>
<rect x="314.40" y="449.90" width="18.50" height="2.15" fill="#6e6e78"/>
<rect x="314.40" y="452.00" width="18.50" height="3.45" fill="#3c9696"/>
<rect x="314.40" y="455.40" width="18.50" height="1.65" fill="#3c466e"/>
<rect x="314.40" y="457.00" width="18.50" height="2.25" fill="#8c3c32"/>
<rect x="314.40" y="459.20" width="18.50" height="2.15" fill="#966e5a"/>
<rect x="314.40" y="461.30" width="18.50" height="1.75" fill="#645078"/>
<rect x="314.40" y="463.00" width="18.50" height="2.65" fill="#c86e46"/>
<rect x="314.40" y="465.60" width="18.50" height="1.75" fill="#78506e"/>
<rect x="314.40" y="467.30" width="18.50" height="3.45" fill="#3c5a96"/>
<rect x="314.40" y="470.70" width="18.50" height="2.15" fill="#967846"/>
<rect x="314.40" y="472.80" width="18.50" height="2.15" fill="#5a466e"/>
<rect x="314.40" y="474.90" width="18.50" height="2.55" fill="#8c6450"/>
<rect x="314.40" y="477.40" width="18.50" height="3.45" fill="#323c64"/>
<rect x="314.40" y="480.80" width="18.50" height="5.25" fill="#286e82"/>
<rect x="314.40" y="486.00" width="18.50" height="1.65" fill="#5a506e"/>
<rect x="314.40" y="487.60" width="18.50" height="3.45" fill="#286e82"/>
<rect x="314.40" y="491.00" width="18.50" height="2.55" fill="#1e5064"/>
</g>
<line x1="226.00" y1="378.50" x2="226.00" y2="494.25" stroke="#000" stroke-width="1.4"/>
<line x1="223.40" y1="493.50" x2="226.00" y2="493.50" stroke="#000" stroke-width="1.2"/>
<text x="219.60" y="497.00" font-size="8.5" text-anchor="end" fill="#1c1c1c" stroke="#1c1c1c" stroke-width="0.3">0</text>
<line x1="223.40" y1="471.06" x2="226.00" y2="471.06" stroke="#000" stroke-width="1.2"/>
<text x="219.60" y="474.56" font-size="8.5" text-anchor="end" fill="#1c1c1c" stroke="#1c1c1c" stroke-width="0.3">20</text>
<line x1="223.40" y1="448.62" x2="226.00" y2="448.62" stroke="#000" stroke-width="1.2"/>
<text x="219.60" y="452.12" font-size="8.5" text-anchor="end" fill="#1c1c1c" stroke="#1c1c1c" stroke-width="0.3">40</text>
<line x1="223.40" y1="426.18" x2="226.00" y2="426.18" stroke="#000" stroke-width="1.2"/>
<text x="219.60" y="429.68" font-size="8.5" text-anchor="end" fill="#1c1c1c" stroke="#1c1c1c" stroke-width="0.3">60</text>
<line x1="223.40" y1="403.74" x2="226.00" y2="403.74" stroke="#000" stroke-width="1.2"/>
<text x="219.60" y="407.24" font-size="8.5" text-anchor="end" fill="#1c1c1c" stroke="#1c1c1c" stroke-width="0.3">80</text>
<line x1="223.40" y1="381.30" x2="226.00" y2="381.30" stroke="#000" stroke-width="1.2"/>
<text x="219.60" y="384.80" font-size="8.5" text-anchor="end" fill="#1c1c1c" stroke="#1c1c1c" stroke-width="0.3">100</text>
<line x1="225.25" y1="493.50" x2="340.70" y2="493.50" stroke="#000" stroke-width="1.4"/>
<line x1="226.00" y1="493.50" x2="226.00" y2="496.10" stroke="#000" stroke-width="1.2"/>
<line x1="253.60" y1="493.50" x2="253.60" y2="496.10" stroke="#000" stroke-width="1.2"/>
<line x1="281.90" y1="493.50" x2="281.90" y2="496.10" stroke="#000" stroke-width="1.2"/>
<line x1="309.60" y1="493.50" x2="309.60" y2="496.10" stroke="#000" stroke-width="1.2"/>
<line x1="338.50" y1="493.50" x2="338.50" y2="496.10" stroke="#000" stroke-width="1.2"/>
<text x="239.50" y="506.20" font-size="8.5" text-anchor="middle" fill="#1c1c1c" stroke="#1c1c1c" stroke-width="0.3">5</text>
<text x="267.60" y="506.20" font-size="8.5" text-anchor="middle" fill="#1c1c1c" stroke="#1c1c1c" stroke-width="0.3">6</text>
<text x="295.60" y="506.20" font-size="8.5" text-anchor="middle" fill="#1c1c1c" stroke="#1c1c1c" stroke-width="0.3">7</text>
<text x="323.70" y="506.20" font-size="8.5" text-anchor="middle" fill="#1c1c1c" stroke="#1c1c1c" stroke-width="0.3">BM</text>
<text x="283.30" y="516.80" font-size="10.7" text-anchor="middle" fill="#1c1c1c" stroke="#1c1c1c" stroke-width="0.3" textLength="51.20" lengthAdjust="spacingAndGlyphs">Time (weeks)</text>
<text x="202.00" y="433.25" font-size="10.7" text-anchor="middle" fill="#1c1c1c" stroke="#1c1c1c" stroke-width="0.3" textLength="94.10" lengthAdjust="spacingAndGlyphs" transform="rotate(-90 202.00 433.25)">Barcodes, hCD19<tspan font-size="7" dy="-3.5">+</tspan><tspan dy="3.5"> (%)</tspan></text>
<g filter="url(#bl)">
<rect x="401.80" y="490.80" width="18.20" height="0.75" fill="#c89696"/>
<rect x="401.80" y="491.50" width="18.20" height="1.85" fill="#965050"/>
</g>
<g filter="url(#bl)">
<rect x="429.40" y="491.10" width="18.40" height="0.75" fill="#96a0aa"/>
<rect x="429.40" y="491.80" width="18.40" height="1.55" fill="#5a6478"/>
</g>
<g filter="url(#bl)">
<rect x="457.70" y="467.00" width="18.40" height="2.55" fill="#e1d7e1"/>
<rect x="457.70" y="469.50" width="18.40" height="2.05" fill="#c8bec8"/>
<rect x="457.70" y="471.50" width="18.40" height="2.55" fill="#7878a0"/>
<rect x="457.70" y="474.00" width="18.40" height="1.80" fill="#6e6478"/>
<rect x="457.70" y="475.75" width="18.40" height="2.30" fill="#828264"/>
<rect x="457.70" y="478.00" width="18.40" height="1.80" fill="#6e6478"/>
<rect x="457.70" y="479.75" width="18.40" height="3.30" fill="#3c6e82"/>
<rect x="457.70" y="483.00" width="18.40" height="2.55" fill="#3c5082"/>
<rect x="457.70" y="485.50" width="18.40" height="2.55" fill="#3c6e64"/>
<rect x="457.70" y="488.00" width="18.40" height="2.05" fill="#3c4632"/>
<rect x="457.70" y="490.00" width="18.40" height="3.35" fill="#6e6e46"/>
</g>
<g filter="url(#bl)">
<rect x="485.50" y="387.00" width="18.60" height="4.95" fill="#d7d4d4"/>
<rect x="485.50" y="391.90" width="18.60" height="2.85" fill="#e1d7d2"/>
<rect x="485.50" y="394.70" width="18.60" height="5.15" fill="#ebcdc3"/>
<rect x="485.50" y="399.80" width="18.60" height="4.05" fill="#b9c3e1"/>
<rect x="485.50" y="403.80" width="18.60" height="4.05" fill="#d2c8c3"/>
<rect x="485.50" y="407.80" width="18.60" height="3.15" fill="#cdbeb9"/>
<rect x="485.50" y="410.90" width="18.60" height="4.85" fill="#b4afb4"/>
<rect x="485.50" y="415.70" width="18.60" height="1.65" fill="#c8c878"/>
<rect x="485.50" y="417.30" width="18.60" height="2.35" fill="#6eaa8c"/>
<rect x="485.50" y="419.60" width="18.60" height="1.65" fill="#8ca0aa"/>
<rect x="485.50" y="421.20" width="18.60" height="4.05" fill="#5a78b4"/>
<rect x="485.50" y="425.20" width="18.60" height="1.65" fill="#82828c"/>
<rect x="485.50" y="426.80" width="18.60" height="1.55" fill="#96503c"/>
<rect x="485.50" y="428.30" width="18.60" height="2.45" fill="#aa4646"/>
<rect x="485.50" y="430.70" width="18.60" height="1.65" fill="#6e5a82"/>
<rect x="485.50" y="432.30" width="18.60" height="2.45" fill="#a04650"/>
<rect x="485.50" y="434.70" width="18.60" height="3.15" fill="#3c82aa"/>
<rect x="485.50" y="437.80" width="18.60" height="0.85" fill="#506e8c"/>
<rect x="485.50" y="438.60" width="18.60" height="2.65" fill="#6e6482"/>
<rect x="485.50" y="441.20" width="18.60" height="2.35" fill="#785a6e"/>
<rect x="485.50" y="443.50" width="18.60" height="3.25" fill="#328caa"/>
<rect x="485.50" y="446.70" width="18.60" height="2.45" fill="#3c64a0"/>
<rect x="485.50" y="449.10" width="18.60" height="2.45" fill="#507878"/>
<rect x="485.50" y="451.50" width="18.60" height="3.95" fill="#4650aa"/>
<rect x="485.50" y="455.40" width="18.60" height="2.45" fill="#64468c"/>
<rect x="485.50" y="457.80" width="18.60" height="2.45" fill="#968c5a"/>
<rect x="485.50" y="460.20" width="18.60" height="2.35" fill="#327896"/>
<rect x="485.50" y="462.50" width="18.60" height="2.45" fill="#3c5082"/>
<rect x="485.50" y="464.90" width="18.60" height="4.85" fill="#8c3246"/>
<rect x="485.50" y="469.70" width="18.60" height="1.65" fill="#823c32"/>
<rect x="485.50" y="471.30" width="18.60" height="1.55" fill="#508c6e"/>
<rect x="485.50" y="472.80" width="18.60" height="3.25" fill="#325a82"/>
<rect x="485.50" y="476.00" width="18.60" height="2.45" fill="#325096"/>
<rect x="485.50" y="478.40" width="18.60" height="2.45" fill="#5a8250"/>
<rect x="485.50" y="480.80" width="18.60" height="2.35" fill="#5a3c82"/>
<rect x="485.50" y="483.10" width="18.60" height="2.45" fill="#3c3c6e"/>
<rect x="485.50" y="485.50" width="18.60" height="2.45" fill="#6e4664"/>
<rect x="485.50" y="487.90" width="18.60" height="5.45" fill="#966e32"/>
</g>
<line x1="397.40" y1="378.50" x2="397.40" y2="494.05" stroke="#000" stroke-width="1.4"/>
<line x1="394.80" y1="493.30" x2="397.40" y2="493.30" stroke="#000" stroke-width="1.2"/>
<text x="391.00" y="496.80" font-size="8.5" text-anchor="end" fill="#1c1c1c" stroke="#1c1c1c" stroke-width="0.3">0</text>
<line x1="394.80" y1="470.86" x2="397.40" y2="470.86" stroke="#000" stroke-width="1.2"/>
<text x="391.00" y="474.36" font-size="8.5" text-anchor="end" fill="#1c1c1c" stroke="#1c1c1c" stroke-width="0.3">20</text>
<line x1="394.80" y1="448.42" x2="397.40" y2="448.42" stroke="#000" stroke-width="1.2"/>
<text x="391.00" y="451.92" font-size="8.5" text-anchor="end" fill="#1c1c1c" stroke="#1c1c1c" stroke-width="0.3">40</text>
<line x1="394.80" y1="425.98" x2="397.40" y2="425.98" stroke="#000" stroke-width="1.2"/>
<text x="391.00" y="429.48" font-size="8.5" text-anchor="end" fill="#1c1c1c" stroke="#1c1c1c" stroke-width="0.3">60</text>
<line x1="394.80" y1="403.54" x2="397.40" y2="403.54" stroke="#000" stroke-width="1.2"/>
<text x="391.00" y="407.04" font-size="8.5" text-anchor="end" fill="#1c1c1c" stroke="#1c1c1c" stroke-width="0.3">80</text>
<line x1="394.80" y1="381.10" x2="397.40" y2="381.10" stroke="#000" stroke-width="1.2"/>
<text x="391.00" y="384.60" font-size="8.5" text-anchor="end" fill="#1c1c1c" stroke="#1c1c1c" stroke-width="0.3">100</text>
<line x1="396.65" y1="493.30" x2="511.80" y2="493.30" stroke="#000" stroke-width="1.4"/>
<line x1="397.40" y1="493.30" x2="397.40" y2="495.90" stroke="#000" stroke-width="1.2"/>
<line x1="425.00" y1="493.30" x2="425.00" y2="495.90" stroke="#000" stroke-width="1.2"/>
<line x1="453.00" y1="493.30" x2="453.00" y2="495.90" stroke="#000" stroke-width="1.2"/>
<line x1="481.00" y1="493.30" x2="481.00" y2="495.90" stroke="#000" stroke-width="1.2"/>
<line x1="509.00" y1="493.30" x2="509.00" y2="495.90" stroke="#000" stroke-width="1.2"/>
<text x="411.00" y="506.00" font-size="8.5" text-anchor="middle" fill="#1c1c1c" stroke="#1c1c1c" stroke-width="0.3">5</text>
<text x="438.90" y="506.00" font-size="8.5" text-anchor="middle" fill="#1c1c1c" stroke="#1c1c1c" stroke-width="0.3">6</text>
<text x="466.90" y="506.00" font-size="8.5" text-anchor="middle" fill="#1c1c1c" stroke="#1c1c1c" stroke-width="0.3">7</text>
<text x="494.90" y="506.00" font-size="8.5" text-anchor="middle" fill="#1c1c1c" stroke="#1c1c1c" stroke-width="0.3">BM</text>
<text x="454.80" y="516.80" font-size="10.7" text-anchor="middle" fill="#1c1c1c" stroke="#1c1c1c" stroke-width="0.3" textLength="52.00" lengthAdjust="spacingAndGlyphs">Time (weeks)</text>
<text x="373.00" y="433.25" font-size="10.7" text-anchor="middle" fill="#1c1c1c" stroke="#1c1c1c" stroke-width="0.3" textLength="94.10" lengthAdjust="spacingAndGlyphs" transform="rotate(-90 373.00 433.25)">Barcodes, hCD19<tspan font-size="7" dy="-3.5">+</tspan><tspan dy="3.5"> (%)</tspan></text>
<polyline points="45.70,571.26 68.70,573.25 91.70,584.72 114.70,601.00 137.70,616.29" fill="none" stroke="#000" stroke-width="1.3"/>
<polyline points="45.70,671.80 103.20,669.25 114.70,662.60 126.20,655.52" fill="none" stroke="#000" stroke-width="1.3" stroke-dasharray="3 2"/>
<circle cx="45.70" cy="571.26" r="3.0" fill="#b03a32" stroke="#200808" stroke-width="1.25"/>
<circle cx="68.70" cy="573.25" r="3.0" fill="#b03a32" stroke="#200808" stroke-width="1.25"/>
<line x1="91.70" y1="579.62" x2="91.70" y2="589.81" stroke="#000" stroke-width="1.2"/>
<line x1="89.10" y1="579.62" x2="94.30" y2="579.62" stroke="#000" stroke-width="1.2"/>
<line x1="89.10" y1="589.81" x2="94.30" y2="589.81" stroke="#000" stroke-width="1.2"/>
<circle cx="91.70" cy="584.72" r="3.0" fill="#b03a32" stroke="#200808" stroke-width="1.25"/>
<line x1="114.70" y1="595.34" x2="114.70" y2="606.66" stroke="#000" stroke-width="1.2"/>
<line x1="112.10" y1="595.34" x2="117.30" y2="595.34" stroke="#000" stroke-width="1.2"/>
<line x1="112.10" y1="606.66" x2="117.30" y2="606.66" stroke="#000" stroke-width="1.2"/>
<circle cx="114.70" cy="601.00" r="3.0" fill="#b03a32" stroke="#200808" stroke-width="1.25"/>
<line x1="137.70" y1="610.91" x2="137.70" y2="621.67" stroke="#000" stroke-width="1.2"/>
<line x1="135.10" y1="610.91" x2="140.30" y2="610.91" stroke="#000" stroke-width="1.2"/>
<line x1="135.10" y1="621.67" x2="140.30" y2="621.67" stroke="#000" stroke-width="1.2"/>
<circle cx="137.70" cy="616.29" r="3.0" fill="#b03a32" stroke="#200808" stroke-width="1.25"/>
<circle cx="45.70" cy="671.80" r="3.0" fill="#38387a" stroke="#200808" stroke-width="1.25"/>
<circle cx="103.20" cy="669.25" r="3.0" fill="#38387a" stroke="#200808" stroke-width="1.25"/>
<circle cx="114.70" cy="662.60" r="3.0" fill="#38387a" stroke="#200808" stroke-width="1.25"/>
<line x1="126.20" y1="650.70" x2="126.20" y2="660.33" stroke="#000" stroke-width="1.2"/>
<line x1="123.60" y1="650.70" x2="128.80" y2="650.70" stroke="#000" stroke-width="1.2"/>
<line x1="123.60" y1="660.33" x2="128.80" y2="660.33" stroke="#000" stroke-width="1.2"/>
<circle cx="126.20" cy="655.52" r="3.0" fill="#38387a" stroke="#200808" stroke-width="1.25"/>
<line x1="121.30" y1="565.90" x2="133.00" y2="565.90" stroke="#000" stroke-width="1.3"/>
<circle cx="127.20" cy="565.90" r="2.8" fill="#b03a32" stroke="#200808" stroke-width="1.2"/>
<line x1="121.30" y1="579.00" x2="133.00" y2="579.00" stroke="#000" stroke-width="1.3" stroke-dasharray="2.5 1.5"/>
<circle cx="127.20" cy="579.00" r="2.8" fill="#38387a" stroke="#0c0c20" stroke-width="1.2"/>
<text x="136.50" y="569.00" font-size="9" text-anchor="start" fill="#1c1c1c" stroke="#1c1c1c" stroke-width="0.3" textLength="22.90" lengthAdjust="spacingAndGlyphs">In vitro</text>
<text x="136.50" y="582.10" font-size="9" text-anchor="start" fill="#1c1c1c" stroke="#1c1c1c" stroke-width="0.3" textLength="21.80" lengthAdjust="spacingAndGlyphs">In vivo</text>
<line x1="45.50" y1="554.60" x2="45.50" y2="672.55" stroke="#000" stroke-width="1.4"/>
<line x1="42.90" y1="671.80" x2="45.50" y2="671.80" stroke="#000" stroke-width="1.2"/>
<text x="39.10" y="675.30" font-size="8.5" text-anchor="end" fill="#1c1c1c" stroke="#1c1c1c" stroke-width="0.3">0</text>
<line x1="42.90" y1="643.48" x2="45.50" y2="643.48" stroke="#000" stroke-width="1.2"/>
<text x="39.10" y="646.98" font-size="8.5" text-anchor="end" fill="#1c1c1c" stroke="#1c1c1c" stroke-width="0.3">200</text>
<line x1="42.90" y1="615.16" x2="45.50" y2="615.16" stroke="#000" stroke-width="1.2"/>
<text x="39.10" y="618.66" font-size="8.5" text-anchor="end" fill="#1c1c1c" stroke="#1c1c1c" stroke-width="0.3">400</text>
<line x1="42.90" y1="586.84" x2="45.50" y2="586.84" stroke="#000" stroke-width="1.2"/>
<text x="39.10" y="590.34" font-size="8.5" text-anchor="end" fill="#1c1c1c" stroke="#1c1c1c" stroke-width="0.3">600</text>
<line x1="42.90" y1="558.52" x2="45.50" y2="558.52" stroke="#000" stroke-width="1.2"/>
<text x="39.10" y="562.02" font-size="8.5" text-anchor="end" fill="#1c1c1c" stroke="#1c1c1c" stroke-width="0.3">800</text>
<line x1="44.75" y1="671.80" x2="164.00" y2="671.80" stroke="#000" stroke-width="1.4"/>
<line x1="45.70" y1="671.80" x2="45.70" y2="674.40" stroke="#000" stroke-width="1.2"/>
<line x1="68.70" y1="671.80" x2="68.70" y2="674.40" stroke="#000" stroke-width="1.2"/>
<line x1="91.70" y1="671.80" x2="91.70" y2="674.40" stroke="#000" stroke-width="1.2"/>
<line x1="114.70" y1="671.80" x2="114.70" y2="674.40" stroke="#000" stroke-width="1.2"/>
<line x1="137.70" y1="671.80" x2="137.70" y2="674.40" stroke="#000" stroke-width="1.2"/>
<line x1="160.70" y1="671.80" x2="160.70" y2="674.40" stroke="#000" stroke-width="1.2"/>
<text x="45.70" y="685.00" font-size="8.5" text-anchor="middle" fill="#1c1c1c" stroke="#1c1c1c" stroke-width="0.3">0</text>
<text x="68.70" y="685.00" font-size="8.5" text-anchor="middle" fill="#1c1c1c" stroke="#1c1c1c" stroke-width="0.3">2</text>
<text x="91.70" y="685.00" font-size="8.5" text-anchor="middle" fill="#1c1c1c" stroke="#1c1c1c" stroke-width="0.3">4</text>
<text x="114.70" y="685.00" font-size="8.5" text-anchor="middle" fill="#1c1c1c" stroke="#1c1c1c" stroke-width="0.3">6</text>
<text x="137.70" y="685.00" font-size="8.5" text-anchor="middle" fill="#1c1c1c" stroke="#1c1c1c" stroke-width="0.3">8</text>
<text x="160.70" y="685.00" font-size="8.5" text-anchor="middle" fill="#1c1c1c" stroke="#1c1c1c" stroke-width="0.3">10</text>
<text x="105.15" y="696.20" font-size="10.7" text-anchor="middle" fill="#1c1c1c" stroke="#1c1c1c" stroke-width="0.3" textLength="51.50" lengthAdjust="spacingAndGlyphs">Time (weeks)</text>
<text x="21.00" y="613.00" font-size="10.7" text-anchor="middle" fill="#1c1c1c" stroke="#1c1c1c" stroke-width="0.3" textLength="79.20" lengthAdjust="spacingAndGlyphs" transform="rotate(-90 21.00 613.00)">Barcodes (shannon)</text>
<circle cx="250.50" cy="607.60" r="3.0" fill="#b03a32" stroke="#200808" stroke-width="1.25"/>
<circle cx="259.00" cy="612.80" r="3.0" fill="#b03a32" stroke="#200808" stroke-width="1.25"/>
<circle cx="246.00" cy="617.50" r="3.0" fill="#b03a32" stroke="#200808" stroke-width="1.25"/>
<circle cx="263.60" cy="618.30" r="3.0" fill="#b03a32" stroke="#200808" stroke-width="1.25"/>
<circle cx="254.90" cy="621.70" r="3.0" fill="#b03a32" stroke="#200808" stroke-width="1.25"/>
<circle cx="297.50" cy="635.00" r="3.0" fill="#38387a" stroke="#0c0c20" stroke-width="1.25"/>
<circle cx="305.00" cy="638.80" r="3.0" fill="#38387a" stroke="#0c0c20" stroke-width="1.25"/>
<circle cx="312.00" cy="642.00" r="3.0" fill="#38387a" stroke="#0c0c20" stroke-width="1.25"/>
<circle cx="319.50" cy="640.00" r="3.0" fill="#38387a" stroke="#0c0c20" stroke-width="1.25"/>
<circle cx="327.00" cy="637.00" r="3.0" fill="#38387a" stroke="#0c0c20" stroke-width="1.25"/>
<line x1="254.80" y1="596.20" x2="311.00" y2="596.20" stroke="#000" stroke-width="1.2"/>
<line x1="254.80" y1="591.50" x2="254.80" y2="601.40" stroke="#000" stroke-width="1.2"/>
<line x1="311.00" y1="591.50" x2="311.00" y2="601.40" stroke="#000" stroke-width="1.2"/>
<text x="283.10" y="595.20" font-size="9" text-anchor="middle" fill="#1c1c1c" font-weight="bold" textLength="10.40" lengthAdjust="spacingAndGlyphs">***</text>
<line x1="226.20" y1="553.50" x2="226.20" y2="671.95" stroke="#000" stroke-width="1.4"/>
<line x1="223.60" y1="671.20" x2="226.20" y2="671.20" stroke="#000" stroke-width="1.2"/>
<text x="219.80" y="674.70" font-size="8.5" text-anchor="end" fill="#1c1c1c" stroke="#1c1c1c" stroke-width="0.3">0</text>
<line x1="223.60" y1="642.60" x2="226.20" y2="642.60" stroke="#000" stroke-width="1.2"/>
<text x="219.80" y="646.10" font-size="8.5" text-anchor="end" fill="#1c1c1c" stroke="#1c1c1c" stroke-width="0.3">200</text>
<line x1="223.60" y1="614.00" x2="226.20" y2="614.00" stroke="#000" stroke-width="1.2"/>
<text x="219.80" y="617.50" font-size="8.5" text-anchor="end" fill="#1c1c1c" stroke="#1c1c1c" stroke-width="0.3">400</text>
<line x1="223.60" y1="585.40" x2="226.20" y2="585.40" stroke="#000" stroke-width="1.2"/>
<text x="219.80" y="588.90" font-size="8.5" text-anchor="end" fill="#1c1c1c" stroke="#1c1c1c" stroke-width="0.3">600</text>
<line x1="223.60" y1="556.80" x2="226.20" y2="556.80" stroke="#000" stroke-width="1.2"/>
<text x="219.80" y="560.30" font-size="8.5" text-anchor="end" fill="#1c1c1c" stroke="#1c1c1c" stroke-width="0.3">800</text>
<line x1="225.45" y1="671.20" x2="341.20" y2="671.20" stroke="#000" stroke-width="1.4"/>
<line x1="254.50" y1="671.20" x2="254.50" y2="673.80" stroke="#000" stroke-width="1.2"/>
<line x1="312.00" y1="671.20" x2="312.00" y2="673.80" stroke="#000" stroke-width="1.2"/>
<text x="254.70" y="685.10" font-size="9" text-anchor="middle" fill="#1c1c1c" stroke="#1c1c1c" stroke-width="0.3" textLength="24.00" lengthAdjust="spacingAndGlyphs">In vitro</text>
<text x="312.60" y="685.10" font-size="9" text-anchor="middle" fill="#1c1c1c" stroke="#1c1c1c" stroke-width="0.3" textLength="23.60" lengthAdjust="spacingAndGlyphs">In vivo</text>
<text x="200.40" y="612.35" font-size="10.7" text-anchor="middle" fill="#1c1c1c" stroke="#1c1c1c" stroke-width="0.3" textLength="79.30" lengthAdjust="spacingAndGlyphs" transform="rotate(-90 200.40 612.35)">Barcodes (shannon)</text>
<rect x="0.00" y="0.00" width="520.00" height="1.20" fill="#000"/>
<rect x="0.00" y="0.00" width="1.20" height="707.00" fill="#000"/>
<rect x="518.40" y="0.00" width="1.60" height="707.00" fill="#000"/>
<rect x="0.00" y="705.30" width="520.00" height="1.70" fill="#000"/>
</svg>
</body></html>
